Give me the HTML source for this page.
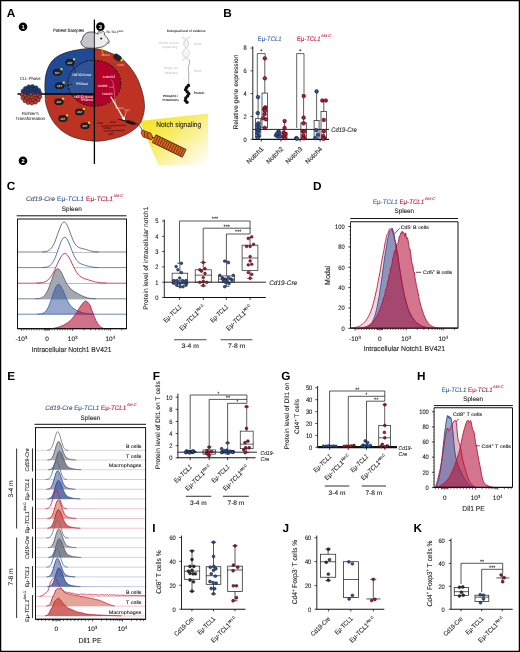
<!DOCTYPE html>
<html><head><meta charset="utf-8"><style>
html,body{margin:0;padding:0;background:#fff;}
svg{display:block;will-change:transform;}
text{font-family:"Liberation Sans", sans-serif;text-rendering:geometricPrecision;}
</style></head><body>
<svg width="520" height="652" viewBox="0 0 520 652" font-family="Liberation Sans, sans-serif">
<rect x="0" y="0" width="520" height="652" fill="#fff"/>
<text x="6.80" y="16.60" font-size="11.8" style="color:#000" fill="currentColor" font-weight="bold">A</text>
<defs><clipPath id="ctl"><rect x="0" y="0" width="94.4" height="94"/></clipPath><linearGradient id="yel" x1="0" y1="0" x2="1" y2="1"><stop offset="0" stop-color="#f5e21a"/><stop offset="0.35" stop-color="#f7ea50"/><stop offset="0.75" stop-color="#fcf6c2"/><stop offset="1" stop-color="#ffffff"/></linearGradient><radialGradient id="cellg" cx="0.4" cy="0.35" r="0.7"><stop offset="0" stop-color="#fff" stop-opacity="0.25"/><stop offset="1" stop-color="#fff" stop-opacity="0"/></radialGradient></defs>
<circle cx="23" cy="26.8" r="4.3" fill="#000"/>
<text x="23.00" y="28.90" font-size="5.8" text-anchor="middle" style="color:#fff" fill="currentColor" font-weight="bold">1</text>
<circle cx="23" cy="160.8" r="4.3" fill="#000"/>
<text x="23.00" y="162.90" font-size="5.8" text-anchor="middle" style="color:#fff" fill="currentColor" font-weight="bold">2</text>
<circle cx="100.4" cy="26.6" r="4.3" fill="#000"/>
<text x="100.40" y="28.70" font-size="5.8" text-anchor="middle" style="color:#fff" fill="currentColor" font-weight="bold">3</text>
<polygon points="139.5,121 208,113.5 208,165.5 158.5,165.5" fill="url(#yel)"/>
<path d="M94.00,48.50 C99.83,48.90 105.05,50.73 110.00,52.70 C114.95,54.67 119.45,56.58 123.70,60.30 C127.95,64.02 132.45,69.88 135.50,75.00 C138.55,80.12 140.50,85.83 142.00,91.00 C143.50,96.17 144.45,101.40 144.50,106.00 C144.55,110.60 143.47,115.18 142.30,118.60 C141.13,122.02 140.05,123.93 137.50,126.50 C134.95,129.07 131.08,131.95 127.00,134.00 C122.92,136.05 118.17,137.60 113.00,138.80 C107.83,140.00 102.17,141.33 96.00,141.20 C89.83,141.07 81.58,139.67 76.00,138.00 C70.42,136.33 66.42,134.12 62.50,131.20 C58.58,128.28 55.20,124.78 52.50,120.50 C49.80,116.22 47.53,109.95 46.30,105.50 C45.07,101.05 45.25,98.47 45.10,93.80 C44.95,89.13 44.58,82.47 45.40,77.50 C46.22,72.53 47.65,67.70 50.00,64.00 C52.35,60.30 55.33,57.58 59.50,55.30 C63.67,53.02 69.25,51.43 75.00,50.30 C80.75,49.17 88.17,48.10 94.00,48.50 Z" fill="#bc3324"/>
<path d="M94.00,48.50 C99.83,48.90 105.05,50.73 110.00,52.70 C114.95,54.67 119.45,56.58 123.70,60.30 C127.95,64.02 132.45,69.88 135.50,75.00 C138.55,80.12 140.50,85.83 142.00,91.00 C143.50,96.17 144.45,101.40 144.50,106.00 C144.55,110.60 143.47,115.18 142.30,118.60 C141.13,122.02 140.05,123.93 137.50,126.50 C134.95,129.07 131.08,131.95 127.00,134.00 C122.92,136.05 118.17,137.60 113.00,138.80 C107.83,140.00 102.17,141.33 96.00,141.20 C89.83,141.07 81.58,139.67 76.00,138.00 C70.42,136.33 66.42,134.12 62.50,131.20 C58.58,128.28 55.20,124.78 52.50,120.50 C49.80,116.22 47.53,109.95 46.30,105.50 C45.07,101.05 45.25,98.47 45.10,93.80 C44.95,89.13 44.58,82.47 45.40,77.50 C46.22,72.53 47.65,67.70 50.00,64.00 C52.35,60.30 55.33,57.58 59.50,55.30 C63.67,53.02 69.25,51.43 75.00,50.30 C80.75,49.17 88.17,48.10 94.00,48.50 Z" fill="#1f4a98" clip-path="url(#ctl)"/>
<path d="M94.00,48.50 C99.83,48.90 105.05,50.73 110.00,52.70 C114.95,54.67 119.45,56.58 123.70,60.30 C127.95,64.02 132.45,69.88 135.50,75.00 C138.55,80.12 140.50,85.83 142.00,91.00 C143.50,96.17 144.45,101.40 144.50,106.00 C144.55,110.60 143.47,115.18 142.30,118.60 C141.13,122.02 140.05,123.93 137.50,126.50 C134.95,129.07 131.08,131.95 127.00,134.00 C122.92,136.05 118.17,137.60 113.00,138.80 C107.83,140.00 102.17,141.33 96.00,141.20 C89.83,141.07 81.58,139.67 76.00,138.00 C70.42,136.33 66.42,134.12 62.50,131.20 C58.58,128.28 55.20,124.78 52.50,120.50 C49.80,116.22 47.53,109.95 46.30,105.50 C45.07,101.05 45.25,98.47 45.10,93.80 C44.95,89.13 44.58,82.47 45.40,77.50 C46.22,72.53 47.65,67.70 50.00,64.00 C52.35,60.30 55.33,57.58 59.50,55.30 C63.67,53.02 69.25,51.43 75.00,50.30 C80.75,49.17 88.17,48.10 94.00,48.50 Z" fill="none" stroke="#1a1a1a" stroke-width="0.6"/>
<ellipse cx="94.4" cy="83.3" rx="26.4" ry="23" fill="#b3002b"/>
<ellipse cx="94.4" cy="83.3" rx="26.4" ry="23" fill="#2f5496" clip-path="url(#ctl)"/>
<ellipse cx="94.4" cy="83.3" rx="26.4" ry="23" fill="none" stroke="#111" stroke-width="1.0" stroke-dasharray="2.3,1.4"/>
<text x="81.80" y="76.40" font-size="3.4" text-anchor="middle" style="color:#f4f4f8" fill="currentColor" stroke="currentColor" stroke-width="0.05" textLength="18.5" lengthAdjust="spacingAndGlyphs">NOTCH1mut</text>
<text x="81.60" y="84.60" font-size="3.4" text-anchor="middle" style="color:#f4f4f8" fill="currentColor" stroke="currentColor" stroke-width="0.05" textLength="12.5" lengthAdjust="spacingAndGlyphs">TP53mut</text>
<text x="83.40" y="97.70" font-size="3.4" text-anchor="middle" style="color:#f4f4f8" fill="currentColor" stroke="currentColor" stroke-width="0.05" textLength="18.5" lengthAdjust="spacingAndGlyphs">NOTCH1mut</text>
<text x="86.40" y="101.20" font-size="3.4" text-anchor="middle" style="color:#f4f4f8" fill="currentColor" stroke="currentColor" stroke-width="0.05" textLength="12.5" lengthAdjust="spacingAndGlyphs">TP53mut</text>
<text x="108.80" y="78.40" font-size="3.4" text-anchor="middle" style="color:#fbe0e4" fill="currentColor" stroke="currentColor" stroke-width="0.05" textLength="12.5" lengthAdjust="spacingAndGlyphs">Ankrd12</text>
<text x="102.60" y="86.90" font-size="3.4" text-anchor="middle" style="color:#fbe0e4" fill="currentColor" stroke="currentColor" stroke-width="0.05" textLength="9.5" lengthAdjust="spacingAndGlyphs">Ankfd</text>
<text x="107.60" y="94.60" font-size="3.4" text-anchor="middle" style="color:#fbe0e4" fill="currentColor" stroke="currentColor" stroke-width="0.05" textLength="10.5" lengthAdjust="spacingAndGlyphs">Notch1</text>
<line x1="72.00" y1="64.50" x2="76.00" y2="73.00" stroke="#111" stroke-width="0.5"/>
<line x1="63.00" y1="86.50" x2="72.00" y2="84.00" stroke="#111" stroke-width="0.5"/>
<path d="M111,79.5 C113.5,82 114,85 112.5,87.5 L109,87" stroke="#f3c0c8" stroke-width="0.45" fill="none"/><path d="M113.5,86 C114.5,90 114.5,100 116.5,108" stroke="#f3c0c8" stroke-width="0.45" fill="none"/>
<rect x="65.70" y="59.50" width="8.6" height="5.8" rx="2.7" fill="#242424" stroke="#000" stroke-width="0.5"/>
<text x="70.00" y="63.60" font-size="3.1" text-anchor="middle" style="color:#dcdcdc" fill="currentColor" font-weight="bold" textLength="5.2" lengthAdjust="spacingAndGlyphs">AKT</text>
<rect x="73.10" y="58.30" width="2" height="2" fill="#f3e414"/>
<rect x="53.00" y="69.40" width="8.6" height="5.8" rx="2.7" fill="#242424" stroke="#000" stroke-width="0.5"/>
<text x="57.30" y="73.50" font-size="3.1" text-anchor="middle" style="color:#dcdcdc" fill="currentColor" font-weight="bold" textLength="5.2" lengthAdjust="spacingAndGlyphs">AKT</text>
<rect x="60.40" y="68.20" width="2" height="2" fill="#f3e414"/>
<rect x="55.30" y="82.80" width="8.6" height="5.8" rx="2.7" fill="#242424" stroke="#000" stroke-width="0.5"/>
<text x="59.60" y="86.90" font-size="3.1" text-anchor="middle" style="color:#dcdcdc" fill="currentColor" font-weight="bold" textLength="5.2" lengthAdjust="spacingAndGlyphs">AKT</text>
<rect x="62.70" y="81.60" width="2" height="2" fill="#f3e414"/>
<rect x="54.70" y="98.90" width="8.6" height="5.8" rx="2.7" fill="#242424" stroke="#000" stroke-width="0.5"/>
<text x="59.00" y="103.00" font-size="3.1" text-anchor="middle" style="color:#dcdcdc" fill="currentColor" font-weight="bold" textLength="5.2" lengthAdjust="spacingAndGlyphs">AKT</text>
<rect x="62.10" y="97.70" width="2" height="2" fill="#f3e414"/>
<rect x="75.40" y="109.10" width="8.6" height="5.8" rx="2.7" fill="#242424" stroke="#000" stroke-width="0.5"/>
<text x="79.70" y="113.20" font-size="3.1" text-anchor="middle" style="color:#dcdcdc" fill="currentColor" font-weight="bold" textLength="5.2" lengthAdjust="spacingAndGlyphs">AKT</text>
<rect x="82.80" y="107.90" width="2" height="2" fill="#f3e414"/>
<rect x="58.70" y="115.60" width="8.6" height="5.8" rx="2.7" fill="#242424" stroke="#000" stroke-width="0.5"/>
<text x="63.00" y="119.70" font-size="3.1" text-anchor="middle" style="color:#dcdcdc" fill="currentColor" font-weight="bold" textLength="5.2" lengthAdjust="spacingAndGlyphs">AKT</text>
<rect x="66.10" y="114.40" width="2" height="2" fill="#f3e414"/>
<rect x="80.70" y="122.90" width="8.6" height="5.8" rx="2.7" fill="#242424" stroke="#000" stroke-width="0.5"/>
<text x="85.00" y="127.00" font-size="3.1" text-anchor="middle" style="color:#dcdcdc" fill="currentColor" font-weight="bold" textLength="5.2" lengthAdjust="spacingAndGlyphs">AKT</text>
<rect x="88.10" y="121.70" width="2" height="2" fill="#f3e414"/>
<g transform="rotate(35 117.5 57.5)"><rect x="113.2" y="54.6" width="8.6" height="5.8" rx="2.7" fill="#242424"/></g>
<rect x="120.6" y="59.2" width="2" height="2" fill="#f3e414"/>
<text x="117.00" y="65.50" font-size="2.6" style="color:#f0b0a0" fill="currentColor" stroke="currentColor" stroke-width="0.05" textLength="7" lengthAdjust="spacingAndGlyphs">Dclhd</text>
<text x="101.50" y="56.20" font-size="2.6" style="color:#f0b0a0" fill="currentColor" stroke="currentColor" stroke-width="0.05" textLength="8" lengthAdjust="spacingAndGlyphs">Lrfn2d</text>
<line x1="110.70" y1="96.60" x2="123.60" y2="118.20" stroke="#fff" stroke-width="1.1"/>
<polygon points="125,121 121.6,118.4 124.8,116.8" fill="#fff"/>
<line x1="119.00" y1="111.00" x2="122.50" y2="118.50" stroke="#f1dede" stroke-width="0.5"/>
<line x1="126.50" y1="111.00" x2="124.00" y2="118.50" stroke="#f1dede" stroke-width="0.5"/>
<text x="115.50" y="108.80" font-size="2.8" style="color:#eaa8a8" fill="currentColor" stroke="currentColor" stroke-width="0.05" textLength="8" lengthAdjust="spacingAndGlyphs">S100a4</text>
<text x="124.20" y="111.20" font-size="2.8" style="color:#eaa8a8" fill="currentColor" stroke="currentColor" stroke-width="0.05" textLength="5.5" lengthAdjust="spacingAndGlyphs">Hes1</text>
<text x="110.00" y="122.60" font-size="2.8" style="color:#3a0808" fill="currentColor" stroke="currentColor" stroke-width="0.05" textLength="6.5" lengthAdjust="spacingAndGlyphs">Wee1</text>
<text x="97.60" y="124.40" font-size="2.8" style="color:#3a0808" fill="currentColor" stroke="currentColor" stroke-width="0.05" textLength="5.5" lengthAdjust="spacingAndGlyphs">Hes1</text>
<text x="103.00" y="129.40" font-size="2.8" style="color:#3a0808" fill="currentColor" stroke="currentColor" stroke-width="0.05" textLength="8" lengthAdjust="spacingAndGlyphs">S100a4</text>
<line x1="101.00" y1="126.20" x2="126.00" y2="125.20" stroke="#250404" stroke-width="0.55"/>
<line x1="103.50" y1="131.20" x2="124.80" y2="130.20" stroke="#250404" stroke-width="0.55"/>
<path d="M108,134 C110,132 112,136 114,134 M109,136 L113,132" stroke="#3a0808" stroke-width="0.5" fill="none"/>
<ellipse cx="130.8" cy="122.6" rx="5.2" ry="1.7" fill="#111" transform="rotate(15 130.8 122.6)"/>
<line x1="118.50" y1="119.20" x2="126.50" y2="121.20" stroke="#111" stroke-width="1.0"/>
<path d="M135.5,123.5 C139,124 140.5,127 142.5,130.5" stroke="#111" stroke-width="0.7" fill="none"/>
<ellipse cx="143.8" cy="133.8" rx="2.2" ry="4.0" fill="#e2621a" stroke="#1a1a1a" stroke-width="0.55" transform="rotate(-22 143.8 133.8)"/>
<ellipse cx="146.9" cy="135" rx="2.2" ry="4.0" fill="#e2621a" stroke="#1a1a1a" stroke-width="0.55" transform="rotate(-22 146.9 135)"/>
<ellipse cx="150" cy="136.2" rx="2.2" ry="4.0" fill="#e2621a" stroke="#1a1a1a" stroke-width="0.55" transform="rotate(-22 150 136.2)"/>
<line x1="152.00" y1="137.20" x2="156.30" y2="138.20" stroke="#111" stroke-width="0.7"/>
<g transform="rotate(26 156 134.8)"><rect x="156" y="134.8" width="33.5" height="8.6" fill="#e2621a" stroke="#1a1a1a" stroke-width="0.65"/><line x1="158.58" y1="134.8" x2="158.58" y2="143.4" stroke="#1a1a1a" stroke-width="0.55"/><line x1="161.16" y1="134.8" x2="161.16" y2="143.4" stroke="#1a1a1a" stroke-width="0.55"/><line x1="163.74" y1="134.8" x2="163.74" y2="143.4" stroke="#1a1a1a" stroke-width="0.55"/><line x1="166.32" y1="134.8" x2="166.32" y2="143.4" stroke="#1a1a1a" stroke-width="0.55"/><line x1="168.90" y1="134.8" x2="168.90" y2="143.4" stroke="#1a1a1a" stroke-width="0.55"/><line x1="171.48" y1="134.8" x2="171.48" y2="143.4" stroke="#1a1a1a" stroke-width="0.55"/><line x1="174.06" y1="134.8" x2="174.06" y2="143.4" stroke="#1a1a1a" stroke-width="0.55"/><line x1="176.64" y1="134.8" x2="176.64" y2="143.4" stroke="#1a1a1a" stroke-width="0.55"/><line x1="179.22" y1="134.8" x2="179.22" y2="143.4" stroke="#1a1a1a" stroke-width="0.55"/><line x1="181.80" y1="134.8" x2="181.80" y2="143.4" stroke="#1a1a1a" stroke-width="0.55"/><line x1="184.38" y1="134.8" x2="184.38" y2="143.4" stroke="#1a1a1a" stroke-width="0.55"/><line x1="186.96" y1="134.8" x2="186.96" y2="143.4" stroke="#1a1a1a" stroke-width="0.55"/></g>
<text x="156.20" y="126.60" font-size="7.6" style="color:#1e1e1e" fill="currentColor" stroke="currentColor" stroke-width="0.1" textLength="45" lengthAdjust="spacingAndGlyphs">Notch signaling</text>
<line x1="94.40" y1="19.50" x2="94.40" y2="164.00" stroke="#000" stroke-width="1.3"/>
<line x1="17.50" y1="94.00" x2="94.40" y2="94.00" stroke="#000" stroke-width="1.3"/>
<path d="M94.4,32.3 C90.5,31.4 86.6,32.2 84.5,34.5 C82.9,36.3 82.5,38.3 82.3,39.9 C80.9,40.5 80.3,42 81.1,43 C81.7,45.6 84.3,47.7 88,48.1 L94.4,48.2 Z" fill="#c6c6ca" stroke="#1a1a1a" stroke-width="0.7"/>
<path d="M94.4,32.6 C95.6,33.1 96.8,33.5 97.9,34.2 C97.3,31.9 99.5,30.3 101.8,30.7 C104.1,31.1 105.1,33 104.3,35 C106.5,36.4 107.9,38.6 108.9,40.8 C109.5,41.9 108.7,42.9 107.4,43.1 C106.4,45.1 103.4,46.9 99.8,47.5 L94.4,48.2 Z" fill="#ededef" stroke="#1a1a1a" stroke-width="0.7"/>
<path d="M99.2,33.6 C99,32 101.8,31.6 102.8,33.4" stroke="#555" stroke-width="0.4" fill="#d4d4d8"/>
<circle cx="101.2" cy="38.5" r="1.0" fill="#111"/>
<path d="M106.5,42.5 L110,41.5 M106.5,43 L109.8,43.8" stroke="#555" stroke-width="0.3"/>
<path d="M101.8,48 C103.6,49.5 101,51 102.6,52.5 C104,53.5 102.2,55 103.4,56" stroke="#f2cf1c" stroke-width="0.8" fill="none"/>
<text x="53.00" y="32.30" font-size="4.5" style="color:#2a2a2a" fill="currentColor" stroke="currentColor" stroke-width="0.1" textLength="31.2" lengthAdjust="spacingAndGlyphs">Patient Samples</text>
<text x="106.50" y="33.40" font-size="3.1" style="color:#333" fill="currentColor" stroke="currentColor" stroke-width="0.05" textLength="17.5" lengthAdjust="spacingAndGlyphs">Eμ-TCL1<tspan font-size="2.4" dy="-1.5">Akt-C</tspan></text>
<text x="30.20" y="79.60" font-size="4.4" text-anchor="middle" style="color:#2a2a2a" fill="currentColor" stroke="currentColor" stroke-width="0.05" textLength="20.5" lengthAdjust="spacingAndGlyphs">CLL-Phase</text>
<text x="30.30" y="115.20" font-size="4.4" text-anchor="middle" style="color:#2a2a2a" fill="currentColor" stroke="currentColor" stroke-width="0.05" textLength="17" lengthAdjust="spacingAndGlyphs">Richter's</text>
<text x="30.30" y="120.40" font-size="4.4" text-anchor="middle" style="color:#2a2a2a" fill="currentColor" stroke="currentColor" stroke-width="0.05" textLength="29.5" lengthAdjust="spacingAndGlyphs">Transformation</text>
<circle cx="32.50" cy="86.61" r="2.05" fill="#1f3f88" stroke="#111" stroke-width="0.45"/>
<circle cx="28.77" cy="86.83" r="2.05" fill="#1f3f88" stroke="#111" stroke-width="0.45"/>
<circle cx="36.01" cy="87.80" r="2.05" fill="#1f3f88" stroke="#111" stroke-width="0.45"/>
<circle cx="25.45" cy="88.43" r="2.05" fill="#1f3f88" stroke="#111" stroke-width="0.45"/>
<circle cx="30.93" cy="88.92" r="2.05" fill="#1f3f88" stroke="#111" stroke-width="0.45"/>
<circle cx="34.43" cy="89.72" r="2.05" fill="#1f3f88" stroke="#111" stroke-width="0.45"/>
<circle cx="27.51" cy="89.99" r="2.05" fill="#1f3f88" stroke="#111" stroke-width="0.45"/>
<circle cx="38.69" cy="90.21" r="2.05" fill="#1f3f88" stroke="#111" stroke-width="0.45"/>
<circle cx="23.13" cy="91.13" r="2.05" fill="#1f3f88" stroke="#111" stroke-width="0.45"/>
<circle cx="30.47" cy="91.84" r="2.05" fill="#1f3f88" stroke="#111" stroke-width="0.45"/>
<circle cx="36.90" cy="92.13" r="2.05" fill="#1f3f88" stroke="#111" stroke-width="0.45"/>
<circle cx="25.27" cy="92.59" r="2.05" fill="#1f3f88" stroke="#111" stroke-width="0.45"/>
<circle cx="33.62" cy="92.74" r="2.05" fill="#1f3f88" stroke="#111" stroke-width="0.45"/>
<circle cx="40.07" cy="93.41" r="2.05" fill="#1f3f88" stroke="#111" stroke-width="0.45"/>
<circle cx="28.05" cy="93.90" r="2.05" fill="#1f3f88" stroke="#111" stroke-width="0.45"/>
<circle cx="22.21" cy="94.46" r="2.05" fill="#bd3a2c" stroke="#111" stroke-width="0.45"/>
<circle cx="31.20" cy="94.80" r="2.05" fill="#bd3a2c" stroke="#111" stroke-width="0.45"/>
<circle cx="37.57" cy="95.39" r="2.05" fill="#bd3a2c" stroke="#111" stroke-width="0.45"/>
<circle cx="34.35" cy="95.70" r="2.05" fill="#bd3a2c" stroke="#111" stroke-width="0.45"/>
<circle cx="24.91" cy="95.89" r="2.05" fill="#bd3a2c" stroke="#111" stroke-width="0.45"/>
<circle cx="39.92" cy="96.85" r="2.05" fill="#bd3a2c" stroke="#111" stroke-width="0.45"/>
<circle cx="28.78" cy="96.86" r="2.05" fill="#bd3a2c" stroke="#111" stroke-width="0.45"/>
<circle cx="31.93" cy="97.76" r="2.05" fill="#bd3a2c" stroke="#111" stroke-width="0.45"/>
<circle cx="22.84" cy="97.86" r="2.05" fill="#bd3a2c" stroke="#111" stroke-width="0.45"/>
<circle cx="36.21" cy="98.46" r="2.05" fill="#bd3a2c" stroke="#111" stroke-width="0.45"/>
<circle cx="26.55" cy="98.84" r="2.05" fill="#bd3a2c" stroke="#111" stroke-width="0.45"/>
<circle cx="38.26" cy="99.93" r="2.05" fill="#bd3a2c" stroke="#111" stroke-width="0.45"/>
<circle cx="33.26" cy="100.37" r="2.05" fill="#bd3a2c" stroke="#111" stroke-width="0.45"/>
<circle cx="29.66" cy="100.52" r="2.05" fill="#bd3a2c" stroke="#111" stroke-width="0.45"/>
<circle cx="24.91" cy="100.72" r="2.05" fill="#bd3a2c" stroke="#111" stroke-width="0.45"/>
<circle cx="35.38" cy="102.13" r="2.05" fill="#bd3a2c" stroke="#111" stroke-width="0.45"/>
<circle cx="28.07" cy="102.56" r="2.05" fill="#bd3a2c" stroke="#111" stroke-width="0.45"/>
<circle cx="31.78" cy="103.06" r="2.05" fill="#bd3a2c" stroke="#111" stroke-width="0.45"/>
<text x="186.20" y="32.30" font-size="3.4" text-anchor="middle" style="color:#111" fill="currentColor" stroke="currentColor" stroke-width="0.05" textLength="38.7" lengthAdjust="spacingAndGlyphs">Biological level of evidence</text>
<text x="168.80" y="43.50" font-size="3.1" text-anchor="middle" style="color:#cacaca" fill="currentColor" stroke="currentColor" stroke-width="0.05" textLength="20" lengthAdjust="spacingAndGlyphs">Whole exome</text>
<text x="169.70" y="47.50" font-size="3.1" text-anchor="middle" style="color:#cacaca" fill="currentColor" stroke="currentColor" stroke-width="0.05" textLength="15.6" lengthAdjust="spacingAndGlyphs">sequencing</text>
<text x="170.60" y="69.40" font-size="3.1" text-anchor="middle" style="color:#cacaca" fill="currentColor" stroke="currentColor" stroke-width="0.05" textLength="13.7" lengthAdjust="spacingAndGlyphs">Single cell</text>
<text x="171.20" y="73.50" font-size="3.1" text-anchor="middle" style="color:#cacaca" fill="currentColor" stroke="currentColor" stroke-width="0.05" textLength="12.5" lengthAdjust="spacingAndGlyphs">RNASeq</text>
<text x="170.50" y="96.90" font-size="3.1" text-anchor="middle" style="color:#111" fill="currentColor" font-weight="bold" textLength="15" lengthAdjust="spacingAndGlyphs">Phospho /</text>
<text x="170.70" y="100.90" font-size="3.1" text-anchor="middle" style="color:#111" fill="currentColor" font-weight="bold" textLength="16.5" lengthAdjust="spacingAndGlyphs">Proteomics</text>
<text x="193.80" y="45.30" font-size="3.2" style="color:#cacaca" fill="currentColor" stroke="currentColor" stroke-width="0.05" textLength="7.5" lengthAdjust="spacingAndGlyphs">DNA</text>
<text x="193.80" y="71.50" font-size="3.2" style="color:#cacaca" fill="currentColor" stroke="currentColor" stroke-width="0.05" textLength="7.5" lengthAdjust="spacingAndGlyphs">RNA</text>
<text x="193.80" y="94.40" font-size="3.2" style="color:#111" fill="currentColor" font-weight="bold" textLength="10.6" lengthAdjust="spacingAndGlyphs">Protein</text>
<path d="M182,37 C190,40 190,45 185.5,48.5 C181,52 181,56 189.5,60" stroke="#cfcfcf" stroke-width="0.9" fill="#ececec" fill-opacity="0.6"/>
<path d="M190.5,37 C183,40 182,45 186.5,48.5 C191,52 191,56 182,60" stroke="#cfcfcf" stroke-width="0.9" fill="none"/>
<path d="M189.5,60 C190,64 187.5,67 188.5,71 C189.5,75 188,79 188.8,84" stroke="#9a9a9a" stroke-width="0.8" fill="none"/>
<circle cx="188.4" cy="85.5" r="1.7" fill="#0c0c0c"/>
<circle cx="186.6" cy="87.5" r="1.7" fill="#0c0c0c"/>
<circle cx="185.6" cy="89.8" r="1.7" fill="#0c0c0c"/>
<circle cx="187.2" cy="91.8" r="1.7" fill="#0c0c0c"/>
<circle cx="188.8" cy="93.8" r="1.7" fill="#0c0c0c"/>
<circle cx="187.6" cy="96" r="1.7" fill="#0c0c0c"/>
<circle cx="185.8" cy="98" r="1.7" fill="#0c0c0c"/>
<circle cx="185.4" cy="100.4" r="1.7" fill="#0c0c0c"/>
<circle cx="187" cy="102.2" r="1.7" fill="#0c0c0c"/>
<text x="223.30" y="16.70" font-size="11.8" style="color:#000" fill="currentColor" font-weight="bold">B</text>
<line x1="252.80" y1="46.30" x2="252.80" y2="139.80" stroke="#111" stroke-width="0.9"/>
<line x1="250.60" y1="139.30" x2="252.80" y2="139.30" stroke="#111" stroke-width="0.765"/>
<text x="246.80" y="141.60" font-size="6.4" text-anchor="end" style="color:#1e1e1e" fill="currentColor" stroke="currentColor" stroke-width="0.1" textLength="3.2" lengthAdjust="spacingAndGlyphs">0</text>
<line x1="250.60" y1="116.48" x2="252.80" y2="116.48" stroke="#111" stroke-width="0.765"/>
<text x="246.80" y="118.78" font-size="6.4" text-anchor="end" style="color:#1e1e1e" fill="currentColor" stroke="currentColor" stroke-width="0.1" textLength="3.2" lengthAdjust="spacingAndGlyphs">2</text>
<line x1="250.60" y1="93.66" x2="252.80" y2="93.66" stroke="#111" stroke-width="0.765"/>
<text x="246.80" y="95.96" font-size="6.4" text-anchor="end" style="color:#1e1e1e" fill="currentColor" stroke="currentColor" stroke-width="0.1" textLength="3.2" lengthAdjust="spacingAndGlyphs">4</text>
<line x1="250.60" y1="70.84" x2="252.80" y2="70.84" stroke="#111" stroke-width="0.765"/>
<text x="246.80" y="73.14" font-size="6.4" text-anchor="end" style="color:#1e1e1e" fill="currentColor" stroke="currentColor" stroke-width="0.1" textLength="3.2" lengthAdjust="spacingAndGlyphs">6</text>
<line x1="250.60" y1="48.02" x2="252.80" y2="48.02" stroke="#111" stroke-width="0.765"/>
<text x="246.80" y="50.32" font-size="6.4" text-anchor="end" style="color:#1e1e1e" fill="currentColor" stroke="currentColor" stroke-width="0.1" textLength="3.2" lengthAdjust="spacingAndGlyphs">8</text>
<line x1="252.50" y1="139.40" x2="329.00" y2="139.40" stroke="#111" stroke-width="1.1"/>
<line x1="261.30" y1="139.40" x2="261.30" y2="141.60" stroke="#111" stroke-width="0.85"/>
<line x1="281.00" y1="139.40" x2="281.00" y2="141.60" stroke="#111" stroke-width="0.85"/>
<line x1="300.20" y1="139.40" x2="300.20" y2="141.60" stroke="#111" stroke-width="0.85"/>
<line x1="320.10" y1="139.40" x2="320.10" y2="141.60" stroke="#111" stroke-width="0.85"/>
<text x="238.30" y="92.00" font-size="6.5" text-anchor="middle" style="color:#1e1e1e" fill="currentColor" stroke="currentColor" stroke-width="0.1" textLength="75" lengthAdjust="spacingAndGlyphs" transform="rotate(-90 238.3 92)">Relative gene expression</text>
<text x="257.80" y="40.60" font-size="6.6" style="color:#2f5ba6" fill="currentColor" stroke="currentColor" stroke-width="0.1" textLength="23.7" lengthAdjust="spacingAndGlyphs">Eμ-<tspan font-style="italic">TCL1</tspan></text>
<text x="297.00" y="40.60" font-size="6.6" style="color:#c0143c" fill="currentColor" stroke="currentColor" stroke-width="0.1" textLength="23.6" lengthAdjust="spacingAndGlyphs">Eμ-<tspan font-style="italic">TCL1</tspan></text>
<text x="321.00" y="36.80" font-size="4.0" style="color:#c0143c" fill="currentColor" stroke="currentColor" stroke-width="0.05" textLength="10.3" lengthAdjust="spacingAndGlyphs">Akt-C</text>
<line x1="252.80" y1="129.40" x2="329.00" y2="129.40" stroke="#111" stroke-width="0.9"/>
<text x="331.20" y="131.80" font-size="6.6" style="color:#1e1e1e" fill="currentColor" stroke="currentColor" stroke-width="0.1" font-style="italic" textLength="25.5" lengthAdjust="spacingAndGlyphs">Cd19-Cre</text>
<text x="263.90" y="149.40" font-size="6.3" text-anchor="end" style="color:#1e1e1e" fill="currentColor" stroke="currentColor" stroke-width="0.1" textLength="21" lengthAdjust="spacingAndGlyphs" transform="rotate(-45 263.90000000000003 149.4)">Notch1</text>
<text x="283.60" y="149.40" font-size="6.3" text-anchor="end" style="color:#1e1e1e" fill="currentColor" stroke="currentColor" stroke-width="0.1" textLength="21" lengthAdjust="spacingAndGlyphs" transform="rotate(-45 283.6 149.4)">Notch2</text>
<text x="302.80" y="149.40" font-size="6.3" text-anchor="end" style="color:#1e1e1e" fill="currentColor" stroke="currentColor" stroke-width="0.1" textLength="21" lengthAdjust="spacingAndGlyphs" transform="rotate(-45 302.8 149.4)">Notch3</text>
<text x="322.70" y="149.40" font-size="6.3" text-anchor="end" style="color:#1e1e1e" fill="currentColor" stroke="currentColor" stroke-width="0.1" textLength="21" lengthAdjust="spacingAndGlyphs" transform="rotate(-45 322.70000000000005 149.4)">Notch4</text>
<line x1="258.10" y1="97.08" x2="258.10" y2="118.76" stroke="#222" stroke-width="0.72"/>
<line x1="257.13" y1="97.08" x2="259.07" y2="97.08" stroke="#222" stroke-width="0.72"/>
<rect x="255.40" y="118.76" width="5.40" height="18.26" fill="none" stroke="#222" stroke-width="0.72"/>
<line x1="264.80" y1="58.29" x2="264.80" y2="93.09" stroke="#222" stroke-width="0.72"/>
<line x1="263.79" y1="58.29" x2="265.81" y2="58.29" stroke="#222" stroke-width="0.72"/>
<rect x="262.00" y="93.09" width="5.60" height="34.80" fill="none" stroke="#222" stroke-width="0.72"/>
<line x1="284.60" y1="121.04" x2="284.60" y2="132.45" stroke="#222" stroke-width="0.72"/>
<line x1="283.74" y1="121.04" x2="285.46" y2="121.04" stroke="#222" stroke-width="0.72"/>
<rect x="282.20" y="132.45" width="4.80" height="5.71" fill="none" stroke="#222" stroke-width="0.72"/>
<line x1="303.60" y1="95.94" x2="303.60" y2="122.76" stroke="#222" stroke-width="0.72"/>
<line x1="302.63" y1="95.94" x2="304.57" y2="95.94" stroke="#222" stroke-width="0.72"/>
<rect x="300.90" y="122.76" width="5.40" height="15.40" fill="none" stroke="#222" stroke-width="0.72"/>
<line x1="316.60" y1="90.81" x2="316.60" y2="120.47" stroke="#222" stroke-width="0.72"/>
<line x1="315.70" y1="90.81" x2="317.50" y2="90.81" stroke="#222" stroke-width="0.72"/>
<rect x="314.10" y="120.47" width="5.00" height="17.69" fill="none" stroke="#222" stroke-width="0.72"/>
<line x1="323.80" y1="100.51" x2="323.80" y2="111.35" stroke="#222" stroke-width="0.72"/>
<line x1="322.79" y1="100.51" x2="324.81" y2="100.51" stroke="#222" stroke-width="0.72"/>
<rect x="321.00" y="111.35" width="5.60" height="26.81" fill="none" stroke="#222" stroke-width="0.72"/>
<polyline points="257.30,96.00 257.30,53.60 265.20,53.60 265.20,56.50" stroke="#111" stroke-width="0.65" fill="none"/>
<polyline points="296.70,128.00 296.70,53.60 304.00,53.60 304.00,93.50" stroke="#111" stroke-width="0.65" fill="none"/>
<text x="261.20" y="53.40" font-size="5.4" text-anchor="middle" style="color:#111" fill="currentColor" stroke="currentColor" stroke-width="0.1">*</text>
<text x="300.20" y="53.40" font-size="5.4" text-anchor="middle" style="color:#111" fill="currentColor" stroke="currentColor" stroke-width="0.1">*</text>
<circle cx="258.00" cy="97.08" r="1.85" fill="#2c55a3" stroke="#111" stroke-width="0.5"/>
<circle cx="257.80" cy="113.06" r="1.85" fill="#2c55a3" stroke="#111" stroke-width="0.5"/>
<circle cx="258.30" cy="123.33" r="1.85" fill="#2c55a3" stroke="#111" stroke-width="0.5"/>
<circle cx="257.30" cy="125.61" r="1.85" fill="#2c55a3" stroke="#111" stroke-width="0.5"/>
<circle cx="259.00" cy="127.32" r="1.85" fill="#2c55a3" stroke="#111" stroke-width="0.5"/>
<circle cx="257.50" cy="129.60" r="1.85" fill="#2c55a3" stroke="#111" stroke-width="0.5"/>
<circle cx="258.60" cy="130.74" r="1.85" fill="#2c55a3" stroke="#111" stroke-width="0.5"/>
<circle cx="257.60" cy="133.02" r="1.85" fill="#2c55a3" stroke="#111" stroke-width="0.5"/>
<circle cx="258.40" cy="135.88" r="1.85" fill="#2c55a3" stroke="#111" stroke-width="0.5"/>
<circle cx="257.60" cy="137.59" r="1.85" fill="#2c55a3" stroke="#111" stroke-width="0.5"/>
<circle cx="276.00" cy="135.31" r="1.85" fill="#2c55a3" stroke="#111" stroke-width="0.5"/>
<circle cx="277.80" cy="136.45" r="1.85" fill="#2c55a3" stroke="#111" stroke-width="0.5"/>
<circle cx="278.60" cy="131.31" r="1.85" fill="#2c55a3" stroke="#111" stroke-width="0.5"/>
<circle cx="279.20" cy="133.59" r="1.85" fill="#2c55a3" stroke="#111" stroke-width="0.5"/>
<circle cx="277.00" cy="133.59" r="1.85" fill="#2c55a3" stroke="#111" stroke-width="0.5"/>
<circle cx="280.00" cy="136.45" r="1.85" fill="#2c55a3" stroke="#111" stroke-width="0.5"/>
<circle cx="296.30" cy="138.16" r="1.85" fill="#2c55a3" stroke="#111" stroke-width="0.5"/>
<circle cx="297.00" cy="138.73" r="1.85" fill="#2c55a3" stroke="#111" stroke-width="0.5"/>
<circle cx="316.60" cy="91.38" r="1.85" fill="#2c55a3" stroke="#111" stroke-width="0.5"/>
<circle cx="316.30" cy="130.17" r="1.85" fill="#2c55a3" stroke="#111" stroke-width="0.5"/>
<circle cx="317.80" cy="134.74" r="1.85" fill="#2c55a3" stroke="#111" stroke-width="0.5"/>
<circle cx="315.30" cy="138.16" r="1.85" fill="#2c55a3" stroke="#111" stroke-width="0.5"/>
<circle cx="264.80" cy="58.29" r="1.85" fill="#c4102e" stroke="#111" stroke-width="0.5"/>
<circle cx="264.80" cy="78.26" r="1.85" fill="#c4102e" stroke="#111" stroke-width="0.5"/>
<circle cx="265.30" cy="107.35" r="1.85" fill="#c4102e" stroke="#111" stroke-width="0.5"/>
<circle cx="264.60" cy="108.49" r="1.85" fill="#c4102e" stroke="#111" stroke-width="0.5"/>
<circle cx="264.30" cy="109.63" r="1.85" fill="#c4102e" stroke="#111" stroke-width="0.5"/>
<circle cx="265.10" cy="110.78" r="1.85" fill="#c4102e" stroke="#111" stroke-width="0.5"/>
<circle cx="264.60" cy="114.20" r="1.85" fill="#c4102e" stroke="#111" stroke-width="0.5"/>
<circle cx="263.20" cy="118.19" r="1.85" fill="#c4102e" stroke="#111" stroke-width="0.5"/>
<circle cx="266.00" cy="119.33" r="1.85" fill="#c4102e" stroke="#111" stroke-width="0.5"/>
<circle cx="264.80" cy="127.89" r="1.85" fill="#c4102e" stroke="#111" stroke-width="0.5"/>
<circle cx="284.60" cy="121.04" r="1.85" fill="#c4102e" stroke="#111" stroke-width="0.5"/>
<circle cx="284.60" cy="127.89" r="1.85" fill="#c4102e" stroke="#111" stroke-width="0.5"/>
<circle cx="283.60" cy="132.45" r="1.85" fill="#c4102e" stroke="#111" stroke-width="0.5"/>
<circle cx="285.30" cy="134.17" r="1.85" fill="#c4102e" stroke="#111" stroke-width="0.5"/>
<circle cx="283.80" cy="136.45" r="1.85" fill="#c4102e" stroke="#111" stroke-width="0.5"/>
<circle cx="285.00" cy="138.16" r="1.85" fill="#c4102e" stroke="#111" stroke-width="0.5"/>
<circle cx="303.70" cy="95.94" r="1.85" fill="#c4102e" stroke="#111" stroke-width="0.5"/>
<circle cx="303.60" cy="117.62" r="1.85" fill="#c4102e" stroke="#111" stroke-width="0.5"/>
<circle cx="303.60" cy="123.33" r="1.85" fill="#c4102e" stroke="#111" stroke-width="0.5"/>
<circle cx="302.80" cy="131.31" r="1.85" fill="#c4102e" stroke="#111" stroke-width="0.5"/>
<circle cx="304.50" cy="131.31" r="1.85" fill="#c4102e" stroke="#111" stroke-width="0.5"/>
<circle cx="303.40" cy="135.31" r="1.85" fill="#c4102e" stroke="#111" stroke-width="0.5"/>
<circle cx="304.30" cy="138.16" r="1.85" fill="#c4102e" stroke="#111" stroke-width="0.5"/>
<circle cx="302.90" cy="138.16" r="1.85" fill="#c4102e" stroke="#111" stroke-width="0.5"/>
<circle cx="322.30" cy="100.51" r="1.85" fill="#c4102e" stroke="#111" stroke-width="0.5"/>
<circle cx="325.80" cy="100.51" r="1.85" fill="#c4102e" stroke="#111" stroke-width="0.5"/>
<circle cx="323.80" cy="119.90" r="1.85" fill="#c4102e" stroke="#111" stroke-width="0.5"/>
<circle cx="323.80" cy="131.31" r="1.85" fill="#c4102e" stroke="#111" stroke-width="0.5"/>
<circle cx="323.20" cy="135.88" r="1.85" fill="#c4102e" stroke="#111" stroke-width="0.5"/>
<circle cx="324.30" cy="138.16" r="1.85" fill="#c4102e" stroke="#111" stroke-width="0.5"/>
<circle cx="323.30" cy="138.73" r="1.85" fill="#c4102e" stroke="#111" stroke-width="0.5"/>
<text x="6.80" y="190.40" font-size="11.8" style="color:#000" fill="currentColor" font-weight="bold">C</text>
<text x="25.90" y="201.10" font-size="6.5" style="color:#1e1e1e" fill="currentColor" stroke="currentColor" stroke-width="0.1" textLength="87.1" lengthAdjust="spacingAndGlyphs"><tspan font-style="italic" fill="#56627c">Cd19-Cre</tspan> <tspan style="color:#2f5ba6">Eμ-<tspan font-style="italic">TCL1</tspan></tspan> <tspan style="color:#c0143c">Eμ-<tspan font-style="italic">TCL1</tspan></tspan></text>
<text x="113.60" y="197.40" font-size="4.0" style="color:#c0143c" fill="currentColor" stroke="currentColor" stroke-width="0.05" textLength="9.5" lengthAdjust="spacingAndGlyphs">Akt-C</text>
<text x="71.80" y="211.30" font-size="6.5" text-anchor="middle" style="color:#1e1e1e" fill="currentColor" stroke="currentColor" stroke-width="0.1" textLength="19.9" lengthAdjust="spacingAndGlyphs">Spleen</text>
<line x1="16.70" y1="215.80" x2="126.50" y2="215.80" stroke="#111" stroke-width="1.0"/>
<clipPath id="cC"><rect x="17.5" y="219" width="109.0" height="109.60000000000002"/></clipPath>
<g clip-path="url(#cC)">
<line x1="17.50" y1="252.00" x2="126.50" y2="252.00" stroke="#565d6e" stroke-width="0.75"/>
<path d="M17.5,252.0 L17.5,252.0 L41.3,252.0 L42.3,251.9 L43.3,251.9 L44.3,251.8 L45.2,251.7 L46.2,251.5 L47.2,251.2 L48.2,250.8 L49.2,250.2 L50.2,249.4 L51.2,248.3 L52.2,247.0 L53.2,245.3 L54.2,243.4 L55.2,241.1 L56.1,238.5 L57.1,235.7 L58.1,232.9 L59.1,230.1 L60.1,227.5 L61.1,225.2 L62.1,223.5 L63.1,222.4 L64.1,222.0 L65.1,222.3 L66.1,223.4 L67.0,225.0 L68.0,227.1 L69.0,229.6 L70.0,232.3 L71.0,235.0 L72.0,237.6 L73.0,240.0 L74.0,242.0 L75.0,243.7 L76.0,245.1 L77.0,246.2 L77.9,246.9 L78.9,247.5 L79.9,247.9 L80.9,248.2 L81.9,248.5 L82.9,248.7 L83.9,248.9 L84.9,249.2 L85.9,249.5 L86.9,249.8 L87.9,250.1 L88.8,250.4 L89.8,250.7 L90.8,251.0 L91.8,251.2 L92.8,251.4 L93.8,251.6 L94.8,251.7 L95.8,251.8 L96.8,251.9 L97.8,251.9 L98.8,251.9 L99.7,252.0 L126.5,252.0 L126.5,252.0 Z" fill="#fff" fill-opacity="1"/>
<path d="M42.3,251.9 L43.3,251.9 L44.3,251.8 L45.2,251.7 L46.2,251.5 L47.2,251.2 L48.2,250.8 L49.2,250.2 L50.2,249.4 L51.2,248.3 L52.2,247.0 L53.2,245.3 L54.2,243.4 L55.2,241.1 L56.1,238.5 L57.1,235.7 L58.1,232.9 L59.1,230.1 L60.1,227.5 L61.1,225.2 L62.1,223.5 L63.1,222.4 L64.1,222.0 L65.1,222.3 L66.1,223.4 L67.0,225.0 L68.0,227.1 L69.0,229.6 L70.0,232.3 L71.0,235.0 L72.0,237.6 L73.0,240.0 L74.0,242.0 L75.0,243.7 L76.0,245.1 L77.0,246.2 L77.9,246.9 L78.9,247.5 L79.9,247.9 L80.9,248.2 L81.9,248.5 L82.9,248.7 L83.9,248.9 L84.9,249.2 L85.9,249.5 L86.9,249.8 L87.9,250.1 L88.8,250.4 L89.8,250.7 L90.8,251.0 L91.8,251.2 L92.8,251.4 L93.8,251.6 L94.8,251.7 L95.8,251.8 L96.8,251.9 L97.8,251.9 L98.8,251.9" fill="none" stroke="#565d6e" stroke-width="0.85"/>
<line x1="17.50" y1="267.60" x2="126.50" y2="267.60" stroke="#3a62aa" stroke-width="0.75"/>
<path d="M17.5,267.6 L17.5,267.6 L41.3,267.6 L42.3,267.5 L43.3,267.5 L44.3,267.4 L45.2,267.3 L46.2,267.2 L47.2,266.9 L48.2,266.6 L49.2,266.1 L50.2,265.4 L51.2,264.5 L52.2,263.3 L53.2,261.7 L54.2,259.9 L55.2,257.7 L56.1,255.3 L57.1,252.6 L58.1,249.7 L59.1,246.8 L60.1,244.1 L61.1,241.6 L62.1,239.6 L63.1,238.1 L64.1,237.3 L65.1,237.3 L66.1,237.9 L67.0,239.2 L68.0,241.0 L69.0,243.1 L70.0,245.6 L71.0,248.2 L72.0,250.8 L73.0,253.3 L74.0,255.6 L75.0,257.6 L76.0,259.2 L77.0,260.6 L77.9,261.7 L78.9,262.6 L79.9,263.3 L80.9,263.8 L81.9,264.2 L82.9,264.6 L83.9,264.9 L84.9,265.2 L85.9,265.5 L86.9,265.8 L87.9,266.0 L88.8,266.3 L89.8,266.5 L90.8,266.8 L91.8,267.0 L92.8,267.1 L93.8,267.2 L94.8,267.3 L95.8,267.4 L96.8,267.5 L97.8,267.5 L98.8,267.6 L126.5,267.6 L126.5,267.6 Z" fill="#fff" fill-opacity="1"/>
<path d="M42.3,267.5 L43.3,267.5 L44.3,267.4 L45.2,267.3 L46.2,267.2 L47.2,266.9 L48.2,266.6 L49.2,266.1 L50.2,265.4 L51.2,264.5 L52.2,263.3 L53.2,261.7 L54.2,259.9 L55.2,257.7 L56.1,255.3 L57.1,252.6 L58.1,249.7 L59.1,246.8 L60.1,244.1 L61.1,241.6 L62.1,239.6 L63.1,238.1 L64.1,237.3 L65.1,237.3 L66.1,237.9 L67.0,239.2 L68.0,241.0 L69.0,243.1 L70.0,245.6 L71.0,248.2 L72.0,250.8 L73.0,253.3 L74.0,255.6 L75.0,257.6 L76.0,259.2 L77.0,260.6 L77.9,261.7 L78.9,262.6 L79.9,263.3 L80.9,263.8 L81.9,264.2 L82.9,264.6 L83.9,264.9 L84.9,265.2 L85.9,265.5 L86.9,265.8 L87.9,266.0 L88.8,266.3 L89.8,266.5 L90.8,266.8 L91.8,267.0 L92.8,267.1 L93.8,267.2 L94.8,267.3 L95.8,267.4 L96.8,267.5 L97.8,267.5" fill="none" stroke="#3a62aa" stroke-width="0.85"/>
<line x1="17.50" y1="283.20" x2="126.50" y2="283.20" stroke="#c4163f" stroke-width="0.75"/>
<path d="M17.5,283.2 L17.5,283.2 L35.3,283.2 L36.3,283.1 L37.3,283.1 L38.3,283.1 L39.3,283.0 L40.3,282.9 L41.3,282.8 L42.3,282.6 L43.3,282.4 L44.3,282.1 L45.2,281.7 L46.2,281.2 L47.2,280.5 L48.2,279.7 L49.2,278.8 L50.2,277.6 L51.2,276.2 L52.2,274.7 L53.2,272.9 L54.2,271.0 L55.2,268.9 L56.1,266.7 L57.1,264.5 L58.1,262.3 L59.1,260.2 L60.1,258.2 L61.1,256.6 L62.1,255.2 L63.1,254.2 L64.1,253.6 L65.1,253.5 L66.1,253.8 L67.0,254.6 L68.0,255.9 L69.0,257.5 L70.0,259.3 L71.0,261.3 L72.0,263.5 L73.0,265.6 L74.0,267.6 L75.0,269.6 L76.0,271.3 L77.0,272.8 L77.9,274.1 L78.9,275.2 L79.9,276.1 L80.9,276.8 L81.9,277.4 L82.9,278.0 L83.9,278.4 L84.9,278.8 L85.9,279.1 L86.9,279.4 L87.9,279.7 L88.8,280.0 L89.8,280.3 L90.8,280.6 L91.8,280.9 L92.8,281.2 L93.8,281.5 L94.8,281.8 L95.8,282.0 L96.8,282.2 L97.8,282.4 L98.8,282.5 L99.7,282.7 L100.7,282.8 L101.7,282.9 L102.7,283.0 L103.7,283.0 L104.7,283.1 L105.7,283.1 L106.7,283.1 L107.7,283.2 L126.5,283.2 L126.5,283.2 Z" fill="#fff" fill-opacity="1"/>
<path d="M36.3,283.1 L37.3,283.1 L38.3,283.1 L39.3,283.0 L40.3,282.9 L41.3,282.8 L42.3,282.6 L43.3,282.4 L44.3,282.1 L45.2,281.7 L46.2,281.2 L47.2,280.5 L48.2,279.7 L49.2,278.8 L50.2,277.6 L51.2,276.2 L52.2,274.7 L53.2,272.9 L54.2,271.0 L55.2,268.9 L56.1,266.7 L57.1,264.5 L58.1,262.3 L59.1,260.2 L60.1,258.2 L61.1,256.6 L62.1,255.2 L63.1,254.2 L64.1,253.6 L65.1,253.5 L66.1,253.8 L67.0,254.6 L68.0,255.9 L69.0,257.5 L70.0,259.3 L71.0,261.3 L72.0,263.5 L73.0,265.6 L74.0,267.6 L75.0,269.6 L76.0,271.3 L77.0,272.8 L77.9,274.1 L78.9,275.2 L79.9,276.1 L80.9,276.8 L81.9,277.4 L82.9,278.0 L83.9,278.4 L84.9,278.8 L85.9,279.1 L86.9,279.4 L87.9,279.7 L88.8,280.0 L89.8,280.3 L90.8,280.6 L91.8,280.9 L92.8,281.2 L93.8,281.5 L94.8,281.8 L95.8,282.0 L96.8,282.2 L97.8,282.4 L98.8,282.5 L99.7,282.7 L100.7,282.8 L101.7,282.9 L102.7,283.0 L103.7,283.0 L104.7,283.1 L105.7,283.1 L106.7,283.1" fill="none" stroke="#c4163f" stroke-width="0.85"/>
<line x1="17.50" y1="298.80" x2="126.50" y2="298.80" stroke="#565d6e" stroke-width="0.75"/>
<path d="M17.5,298.8 L17.5,298.8 L35.3,298.8 L36.3,298.7 L37.3,298.7 L38.3,298.6 L39.3,298.4 L40.3,298.2 L41.3,297.9 L42.3,297.4 L43.3,296.8 L44.3,295.9 L45.2,294.7 L46.2,293.3 L47.2,291.5 L48.2,289.4 L49.2,286.9 L50.2,284.2 L51.2,281.4 L52.2,278.5 L53.2,275.8 L54.2,273.3 L55.2,271.2 L56.1,269.8 L57.1,268.9 L58.1,268.8 L59.1,269.3 L60.1,270.4 L61.1,272.0 L62.1,274.0 L63.1,276.1 L64.1,278.3 L65.1,280.4 L66.1,282.4 L67.0,284.2 L68.0,285.7 L69.0,287.0 L70.0,288.1 L71.0,289.1 L72.0,289.9 L73.0,290.7 L74.0,291.4 L75.0,292.0 L76.0,292.5 L77.0,293.1 L77.9,293.7 L78.9,294.2 L79.9,294.7 L80.9,295.3 L81.9,295.7 L82.9,296.2 L83.9,296.6 L84.9,297.0 L85.9,297.3 L86.9,297.6 L87.9,297.9 L88.8,298.1 L89.8,298.3 L90.8,298.4 L91.8,298.5 L92.8,298.6 L93.8,298.6 L94.8,298.7 L95.8,298.7 L96.8,298.7 L97.8,298.8 L126.5,298.8 L126.5,298.8 Z" fill="#a4a8b2" fill-opacity="1"/>
<path d="M35.3,298.8 L36.3,298.7 L37.3,298.7 L38.3,298.6 L39.3,298.4 L40.3,298.2 L41.3,297.9 L42.3,297.4 L43.3,296.8 L44.3,295.9 L45.2,294.7 L46.2,293.3 L47.2,291.5 L48.2,289.4 L49.2,286.9 L50.2,284.2 L51.2,281.4 L52.2,278.5 L53.2,275.8 L54.2,273.3 L55.2,271.2 L56.1,269.8 L57.1,268.9 L58.1,268.8 L59.1,269.3 L60.1,270.4 L61.1,272.0 L62.1,274.0 L63.1,276.1 L64.1,278.3 L65.1,280.4 L66.1,282.4 L67.0,284.2 L68.0,285.7 L69.0,287.0 L70.0,288.1 L71.0,289.1 L72.0,289.9 L73.0,290.7 L74.0,291.4 L75.0,292.0 L76.0,292.5 L77.0,293.1 L77.9,293.7 L78.9,294.2 L79.9,294.7 L80.9,295.3 L81.9,295.7 L82.9,296.2 L83.9,296.6 L84.9,297.0 L85.9,297.3 L86.9,297.6 L87.9,297.9 L88.8,298.1 L89.8,298.3 L90.8,298.4 L91.8,298.5 L92.8,298.6 L93.8,298.6 L94.8,298.7 L95.8,298.7" fill="none" stroke="#565d6e" stroke-width="0.85"/>
<line x1="17.50" y1="314.20" x2="126.50" y2="314.20" stroke="#3a62aa" stroke-width="0.75"/>
<path d="M17.5,314.2 L17.5,314.2 L36.3,314.2 L37.3,314.1 L38.3,314.1 L39.3,314.0 L40.3,313.9 L41.3,313.7 L42.3,313.5 L43.3,313.1 L44.3,312.5 L45.2,311.7 L46.2,310.6 L47.2,309.2 L48.2,307.4 L49.2,305.2 L50.2,302.7 L51.2,300.0 L52.2,297.0 L53.2,294.0 L54.2,291.1 L55.2,288.6 L56.1,286.5 L57.1,285.1 L58.1,284.4 L59.1,284.5 L60.1,285.2 L61.1,286.5 L62.1,288.4 L63.1,290.5 L64.1,292.9 L65.1,295.3 L66.1,297.6 L67.0,299.8 L68.0,301.7 L69.0,303.5 L70.0,304.9 L71.0,306.2 L72.0,307.3 L73.0,308.2 L74.0,308.9 L75.0,309.5 L76.0,310.1 L77.0,310.5 L77.9,311.0 L78.9,311.4 L79.9,311.8 L80.9,312.1 L81.9,312.4 L82.9,312.7 L83.9,313.0 L84.9,313.2 L85.9,313.4 L86.9,313.6 L87.9,313.7 L88.8,313.8 L89.8,313.9 L90.8,314.0 L91.8,314.1 L92.8,314.1 L93.8,314.1 L94.8,314.1 L95.8,314.2 L126.5,314.2 L126.5,314.2 Z" fill="#2b4f98" fill-opacity="0.5"/>
<path d="M37.3,314.1 L38.3,314.1 L39.3,314.0 L40.3,313.9 L41.3,313.7 L42.3,313.5 L43.3,313.1 L44.3,312.5 L45.2,311.7 L46.2,310.6 L47.2,309.2 L48.2,307.4 L49.2,305.2 L50.2,302.7 L51.2,300.0 L52.2,297.0 L53.2,294.0 L54.2,291.1 L55.2,288.6 L56.1,286.5 L57.1,285.1 L58.1,284.4 L59.1,284.5 L60.1,285.2 L61.1,286.5 L62.1,288.4 L63.1,290.5 L64.1,292.9 L65.1,295.3 L66.1,297.6 L67.0,299.8 L68.0,301.7 L69.0,303.5 L70.0,304.9 L71.0,306.2 L72.0,307.3 L73.0,308.2 L74.0,308.9 L75.0,309.5 L76.0,310.1 L77.0,310.5 L77.9,311.0 L78.9,311.4 L79.9,311.8 L80.9,312.1 L81.9,312.4 L82.9,312.7 L83.9,313.0 L84.9,313.2 L85.9,313.4 L86.9,313.6 L87.9,313.7 L88.8,313.8 L89.8,313.9 L90.8,314.0 L91.8,314.1 L92.8,314.1 L93.8,314.1" fill="none" stroke="#3a62aa" stroke-width="0.85"/>
<line x1="17.50" y1="329.00" x2="126.50" y2="329.00" stroke="#c4163f" stroke-width="0.75"/>
<path d="M17.5,329.0 L17.5,329.0 L44.3,329.0 L45.2,328.9 L46.2,328.9 L47.2,328.9 L48.2,328.8 L49.2,328.8 L50.2,328.7 L51.2,328.6 L52.2,328.5 L53.2,328.4 L54.2,328.2 L55.2,328.0 L56.1,327.8 L57.1,327.6 L58.1,327.3 L59.1,327.0 L60.1,326.6 L61.1,326.2 L62.1,325.8 L63.1,325.4 L64.1,324.9 L65.1,324.3 L66.1,323.8 L67.0,323.2 L68.0,322.5 L69.0,321.7 L70.0,320.9 L71.0,319.9 L72.0,318.7 L73.0,317.5 L74.0,316.2 L75.0,315.0 L76.0,313.4 L77.0,312.7 L77.9,310.7 L78.9,308.6 L79.9,307.3 L80.9,305.4 L81.9,304.8 L82.9,303.1 L83.9,302.3 L84.9,301.2 L85.9,300.9 L86.9,301.8 L87.9,302.3 L88.8,303.6 L89.8,304.7 L90.8,307.2 L91.8,310.4 L92.8,312.5 L93.8,315.7 L94.8,317.9 L95.8,320.4 L96.8,322.2 L97.8,323.8 L98.8,325.2 L99.7,326.3 L100.7,327.1 L101.7,327.7 L102.7,328.1 L103.7,328.4 L104.7,328.6 L105.7,328.8 L106.7,328.9 L107.7,328.9 L108.7,329.0 L126.5,329.0 L126.5,329.0 Z" fill="#b3123a" fill-opacity="0.6"/>
<path d="M45.2,328.9 L46.2,328.9 L47.2,328.9 L48.2,328.8 L49.2,328.8 L50.2,328.7 L51.2,328.6 L52.2,328.5 L53.2,328.4 L54.2,328.2 L55.2,328.0 L56.1,327.8 L57.1,327.6 L58.1,327.3 L59.1,327.0 L60.1,326.6 L61.1,326.2 L62.1,325.8 L63.1,325.4 L64.1,324.9 L65.1,324.3 L66.1,323.8 L67.0,323.2 L68.0,322.5 L69.0,321.7 L70.0,320.9 L71.0,319.9 L72.0,318.7 L73.0,317.5 L74.0,316.2 L75.0,315.0 L76.0,313.4 L77.0,312.7 L77.9,310.7 L78.9,308.6 L79.9,307.3 L80.9,305.4 L81.9,304.8 L82.9,303.1 L83.9,302.3 L84.9,301.2 L85.9,300.9 L86.9,301.8 L87.9,302.3 L88.8,303.6 L89.8,304.7 L90.8,307.2 L91.8,310.4 L92.8,312.5 L93.8,315.7 L94.8,317.9 L95.8,320.4 L96.8,322.2 L97.8,323.8 L98.8,325.2 L99.7,326.3 L100.7,327.1 L101.7,327.7 L102.7,328.1 L103.7,328.4 L104.7,328.6 L105.7,328.8 L106.7,328.9 L107.7,328.9" fill="none" stroke="#c4163f" stroke-width="0.85"/>
</g>
<rect x="17.5" y="219" width="109.0" height="109.60000000000002" fill="none" stroke="#111" stroke-width="1.0"/>
<line x1="17.50" y1="328.60" x2="126.50" y2="328.60" stroke="#111" stroke-width="1.1"/>
<line x1="84.05" y1="328.60" x2="84.05" y2="330.40" stroke="#111" stroke-width="0.6"/>
<line x1="121.75" y1="328.60" x2="121.75" y2="330.40" stroke="#111" stroke-width="0.6"/>
<line x1="90.69" y1="328.60" x2="90.69" y2="330.40" stroke="#111" stroke-width="0.6"/>
<line x1="95.40" y1="328.60" x2="95.40" y2="330.40" stroke="#111" stroke-width="0.6"/>
<line x1="99.05" y1="328.60" x2="99.05" y2="330.40" stroke="#111" stroke-width="0.6"/>
<line x1="102.04" y1="328.60" x2="102.04" y2="330.40" stroke="#111" stroke-width="0.6"/>
<line x1="104.56" y1="328.60" x2="104.56" y2="330.40" stroke="#111" stroke-width="0.6"/>
<line x1="106.75" y1="328.60" x2="106.75" y2="330.40" stroke="#111" stroke-width="0.6"/>
<line x1="108.67" y1="328.60" x2="108.67" y2="330.40" stroke="#111" stroke-width="0.6"/>
<line x1="49.57" y1="328.60" x2="49.57" y2="330.40" stroke="#111" stroke-width="0.6"/>
<line x1="44.43" y1="328.60" x2="44.43" y2="330.40" stroke="#111" stroke-width="0.6"/>
<line x1="52.14" y1="328.60" x2="52.14" y2="330.40" stroke="#111" stroke-width="0.6"/>
<line x1="41.86" y1="328.60" x2="41.86" y2="330.40" stroke="#111" stroke-width="0.6"/>
<line x1="54.71" y1="328.60" x2="54.71" y2="330.40" stroke="#111" stroke-width="0.6"/>
<line x1="39.29" y1="328.60" x2="39.29" y2="330.40" stroke="#111" stroke-width="0.6"/>
<line x1="57.28" y1="328.60" x2="57.28" y2="330.40" stroke="#111" stroke-width="0.6"/>
<line x1="36.72" y1="328.60" x2="36.72" y2="330.40" stroke="#111" stroke-width="0.6"/>
<line x1="59.85" y1="328.60" x2="59.85" y2="330.40" stroke="#111" stroke-width="0.6"/>
<line x1="34.15" y1="328.60" x2="34.15" y2="330.40" stroke="#111" stroke-width="0.6"/>
<line x1="62.42" y1="328.60" x2="62.42" y2="330.40" stroke="#111" stroke-width="0.6"/>
<line x1="31.58" y1="328.60" x2="31.58" y2="330.40" stroke="#111" stroke-width="0.6"/>
<line x1="64.99" y1="328.60" x2="64.99" y2="330.40" stroke="#111" stroke-width="0.6"/>
<line x1="29.01" y1="328.60" x2="29.01" y2="330.40" stroke="#111" stroke-width="0.6"/>
<line x1="67.56" y1="328.60" x2="67.56" y2="330.40" stroke="#111" stroke-width="0.6"/>
<line x1="26.44" y1="328.60" x2="26.44" y2="330.40" stroke="#111" stroke-width="0.6"/>
<line x1="70.13" y1="328.60" x2="70.13" y2="330.40" stroke="#111" stroke-width="0.6"/>
<line x1="23.87" y1="328.60" x2="23.87" y2="330.40" stroke="#111" stroke-width="0.6"/>
<line x1="47.86" y1="328.60" x2="47.86" y2="330.40" stroke="#111" stroke-width="0.6"/>
<line x1="46.14" y1="328.60" x2="46.14" y2="330.40" stroke="#111" stroke-width="0.6"/>
<line x1="48.71" y1="328.60" x2="48.71" y2="330.40" stroke="#111" stroke-width="0.6"/>
<line x1="45.29" y1="328.60" x2="45.29" y2="330.40" stroke="#111" stroke-width="0.6"/>
<line x1="49.57" y1="328.60" x2="49.57" y2="330.40" stroke="#111" stroke-width="0.6"/>
<line x1="44.43" y1="328.60" x2="44.43" y2="330.40" stroke="#111" stroke-width="0.6"/>
<line x1="21.50" y1="328.60" x2="21.50" y2="330.80" stroke="#111" stroke-width="0.7"/>
<line x1="47.00" y1="328.60" x2="47.00" y2="330.80" stroke="#111" stroke-width="0.7"/>
<line x1="72.70" y1="328.60" x2="72.70" y2="330.80" stroke="#111" stroke-width="0.7"/>
<line x1="110.40" y1="328.60" x2="110.40" y2="330.80" stroke="#111" stroke-width="0.7"/>
<text x="21.50" y="340.50" font-size="6.4" text-anchor="middle" style="color:#1e1e1e" fill="currentColor" stroke="currentColor" stroke-width="0.1">-10<tspan font-size="4.6" dy="-2">3</tspan></text>
<text x="47.00" y="340.50" font-size="6.4" text-anchor="middle" style="color:#1e1e1e" fill="currentColor" stroke="currentColor" stroke-width="0.1">0</text>
<text x="72.70" y="340.50" font-size="6.4" text-anchor="middle" style="color:#1e1e1e" fill="currentColor" stroke="currentColor" stroke-width="0.1">10<tspan font-size="4.6" dy="-2">3</tspan></text>
<text x="110.40" y="340.50" font-size="6.4" text-anchor="middle" style="color:#1e1e1e" fill="currentColor" stroke="currentColor" stroke-width="0.1">10<tspan font-size="4.6" dy="-2">4</tspan></text>
<text x="71.60" y="351.70" font-size="7.3" text-anchor="middle" style="color:#1e1e1e" fill="currentColor" stroke="currentColor" stroke-width="0.1" textLength="79.8" lengthAdjust="spacingAndGlyphs">Intracellular Notch1 BV421</text>
<line x1="164.30" y1="219.50" x2="164.30" y2="298.00" stroke="#111" stroke-width="0.9"/>
<line x1="162.10" y1="297.50" x2="164.30" y2="297.50" stroke="#111" stroke-width="0.765"/>
<text x="158.40" y="299.80" font-size="6.4" text-anchor="end" style="color:#1e1e1e" fill="currentColor" stroke="currentColor" stroke-width="0.1" textLength="3.2" lengthAdjust="spacingAndGlyphs">0</text>
<line x1="162.10" y1="282.20" x2="164.30" y2="282.20" stroke="#111" stroke-width="0.765"/>
<text x="158.40" y="284.50" font-size="6.4" text-anchor="end" style="color:#1e1e1e" fill="currentColor" stroke="currentColor" stroke-width="0.1" textLength="3.2" lengthAdjust="spacingAndGlyphs">1</text>
<line x1="162.10" y1="266.90" x2="164.30" y2="266.90" stroke="#111" stroke-width="0.765"/>
<text x="158.40" y="269.20" font-size="6.4" text-anchor="end" style="color:#1e1e1e" fill="currentColor" stroke="currentColor" stroke-width="0.1" textLength="3.2" lengthAdjust="spacingAndGlyphs">2</text>
<line x1="162.10" y1="251.60" x2="164.30" y2="251.60" stroke="#111" stroke-width="0.765"/>
<text x="158.40" y="253.90" font-size="6.4" text-anchor="end" style="color:#1e1e1e" fill="currentColor" stroke="currentColor" stroke-width="0.1" textLength="3.2" lengthAdjust="spacingAndGlyphs">3</text>
<line x1="162.10" y1="236.30" x2="164.30" y2="236.30" stroke="#111" stroke-width="0.765"/>
<text x="158.40" y="238.60" font-size="6.4" text-anchor="end" style="color:#1e1e1e" fill="currentColor" stroke="currentColor" stroke-width="0.1" textLength="3.2" lengthAdjust="spacingAndGlyphs">4</text>
<line x1="162.10" y1="221.00" x2="164.30" y2="221.00" stroke="#111" stroke-width="0.765"/>
<text x="158.40" y="223.30" font-size="6.4" text-anchor="end" style="color:#1e1e1e" fill="currentColor" stroke="currentColor" stroke-width="0.1" textLength="3.2" lengthAdjust="spacingAndGlyphs">5</text>
<line x1="164.00" y1="297.50" x2="265.80" y2="297.50" stroke="#111" stroke-width="1.1"/>
<line x1="179.60" y1="297.50" x2="179.60" y2="299.80" stroke="#111" stroke-width="0.85"/>
<line x1="203.30" y1="297.50" x2="203.30" y2="299.80" stroke="#111" stroke-width="0.85"/>
<line x1="226.30" y1="297.50" x2="226.30" y2="299.80" stroke="#111" stroke-width="0.85"/>
<line x1="250.10" y1="297.50" x2="250.10" y2="299.80" stroke="#111" stroke-width="0.85"/>
<line x1="164.00" y1="282.20" x2="265.80" y2="282.20" stroke="#111" stroke-width="0.9"/>
<text x="269.20" y="284.60" font-size="6.6" style="color:#1e1e1e" fill="currentColor" stroke="currentColor" stroke-width="0.1" font-style="italic" textLength="28" lengthAdjust="spacingAndGlyphs">Cd19-Cre</text>
<text x="147.90" y="258.20" font-size="6.6" text-anchor="middle" style="color:#1e1e1e" fill="currentColor" stroke="currentColor" stroke-width="0.1" textLength="103" lengthAdjust="spacingAndGlyphs" transform="rotate(-90 147.9 258.2)">Protein level of intracellular notch1</text>
<line x1="179.90" y1="263.23" x2="179.90" y2="273.17" stroke="#222" stroke-width="0.7"/>
<line x1="177.09" y1="263.23" x2="182.71" y2="263.23" stroke="#222" stroke-width="0.7"/>
<line x1="179.90" y1="283.73" x2="179.90" y2="286.48" stroke="#222" stroke-width="0.7"/>
<line x1="177.09" y1="286.48" x2="182.71" y2="286.48" stroke="#222" stroke-width="0.7"/>
<rect x="172.10" y="273.17" width="15.60" height="10.56" fill="none" stroke="#222" stroke-width="0.7"/>
<line x1="172.10" y1="280.36" x2="187.70" y2="280.36" stroke="#222" stroke-width="0.7"/>
<line x1="203.25" y1="262.46" x2="203.25" y2="269.81" stroke="#222" stroke-width="0.7"/>
<line x1="200.35" y1="262.46" x2="206.15" y2="262.46" stroke="#222" stroke-width="0.7"/>
<line x1="203.25" y1="282.20" x2="203.25" y2="285.87" stroke="#222" stroke-width="0.7"/>
<line x1="200.35" y1="285.87" x2="206.15" y2="285.87" stroke="#222" stroke-width="0.7"/>
<rect x="195.20" y="269.81" width="16.10" height="12.39" fill="none" stroke="#222" stroke-width="0.7"/>
<line x1="195.20" y1="275.16" x2="211.30" y2="275.16" stroke="#222" stroke-width="0.7"/>
<line x1="226.55" y1="261.24" x2="226.55" y2="275.93" stroke="#222" stroke-width="0.7"/>
<line x1="223.69" y1="261.24" x2="229.41" y2="261.24" stroke="#222" stroke-width="0.7"/>
<line x1="226.55" y1="282.20" x2="226.55" y2="286.33" stroke="#222" stroke-width="0.7"/>
<line x1="223.69" y1="286.33" x2="229.41" y2="286.33" stroke="#222" stroke-width="0.7"/>
<rect x="218.60" y="275.93" width="15.90" height="6.27" fill="none" stroke="#222" stroke-width="0.7"/>
<line x1="218.60" y1="279.14" x2="234.50" y2="279.14" stroke="#222" stroke-width="0.7"/>
<line x1="250.00" y1="237.37" x2="250.00" y2="245.17" stroke="#222" stroke-width="0.7"/>
<line x1="247.16" y1="237.37" x2="252.84" y2="237.37" stroke="#222" stroke-width="0.7"/>
<line x1="250.00" y1="270.42" x2="250.00" y2="278.38" stroke="#222" stroke-width="0.7"/>
<line x1="247.16" y1="278.38" x2="252.84" y2="278.38" stroke="#222" stroke-width="0.7"/>
<rect x="242.10" y="245.17" width="15.80" height="25.24" fill="none" stroke="#222" stroke-width="0.7"/>
<line x1="242.10" y1="258.03" x2="257.90" y2="258.03" stroke="#222" stroke-width="0.7"/>
<polyline points="179.50,263.00 179.50,221.00 250.10,221.00 250.10,234.00" stroke="#111" stroke-width="0.7" fill="none"/>
<polyline points="203.20,262.50 203.20,228.20 250.10,228.20" stroke="#111" stroke-width="0.7" fill="none"/>
<polyline points="226.40,261.00 226.40,234.00 250.10,234.00" stroke="#111" stroke-width="0.7" fill="none"/>
<text x="215.00" y="220.40" font-size="4.6" text-anchor="middle" style="color:#111" fill="currentColor" stroke="currentColor" stroke-width="0.1" textLength="6.4" lengthAdjust="spacingAndGlyphs">***</text>
<text x="226.70" y="227.60" font-size="4.6" text-anchor="middle" style="color:#111" fill="currentColor" stroke="currentColor" stroke-width="0.1" textLength="6.4" lengthAdjust="spacingAndGlyphs">***</text>
<text x="238.30" y="233.40" font-size="4.6" text-anchor="middle" style="color:#111" fill="currentColor" stroke="currentColor" stroke-width="0.1" textLength="6.4" lengthAdjust="spacingAndGlyphs">***</text>
<circle cx="181.35" cy="263.31" r="1.35" fill="#2c55a3" stroke="#111" stroke-width="0.5"/>
<circle cx="176.15" cy="266.54" r="1.35" fill="#2c55a3" stroke="#111" stroke-width="0.5"/>
<circle cx="177.88" cy="269.77" r="1.35" fill="#2c55a3" stroke="#111" stroke-width="0.5"/>
<circle cx="181.35" cy="272.54" r="1.35" fill="#2c55a3" stroke="#111" stroke-width="0.5"/>
<circle cx="179.61" cy="278.08" r="1.35" fill="#2c55a3" stroke="#111" stroke-width="0.5"/>
<circle cx="173.85" cy="280.61" r="1.35" fill="#2c55a3" stroke="#111" stroke-width="0.5"/>
<circle cx="176.73" cy="280.61" r="1.35" fill="#2c55a3" stroke="#111" stroke-width="0.5"/>
<circle cx="182.50" cy="280.61" r="1.35" fill="#2c55a3" stroke="#111" stroke-width="0.5"/>
<circle cx="185.96" cy="280.61" r="1.35" fill="#2c55a3" stroke="#111" stroke-width="0.5"/>
<circle cx="173.85" cy="283.27" r="1.35" fill="#2c55a3" stroke="#111" stroke-width="0.5"/>
<circle cx="180.19" cy="283.27" r="1.35" fill="#2c55a3" stroke="#111" stroke-width="0.5"/>
<circle cx="186.54" cy="283.27" r="1.35" fill="#2c55a3" stroke="#111" stroke-width="0.5"/>
<circle cx="176.73" cy="285.23" r="1.35" fill="#2c55a3" stroke="#111" stroke-width="0.5"/>
<circle cx="180.19" cy="286.73" r="1.35" fill="#2c55a3" stroke="#111" stroke-width="0.5"/>
<circle cx="183.08" cy="286.73" r="1.35" fill="#2c55a3" stroke="#111" stroke-width="0.5"/>
<circle cx="185.96" cy="285.23" r="1.35" fill="#2c55a3" stroke="#111" stroke-width="0.5"/>
<circle cx="178.46" cy="282.69" r="1.35" fill="#2c55a3" stroke="#111" stroke-width="0.5"/>
<circle cx="183.65" cy="282.69" r="1.35" fill="#2c55a3" stroke="#111" stroke-width="0.5"/>
<circle cx="203.27" cy="262.50" r="1.35" fill="#c4102e" stroke="#111" stroke-width="0.5"/>
<circle cx="199.81" cy="269.77" r="1.35" fill="#c4102e" stroke="#111" stroke-width="0.5"/>
<circle cx="205.00" cy="268.61" r="1.35" fill="#c4102e" stroke="#111" stroke-width="0.5"/>
<circle cx="201.54" cy="271.15" r="1.35" fill="#c4102e" stroke="#111" stroke-width="0.5"/>
<circle cx="205.00" cy="273.46" r="1.35" fill="#c4102e" stroke="#111" stroke-width="0.5"/>
<circle cx="203.27" cy="277.50" r="1.35" fill="#c4102e" stroke="#111" stroke-width="0.5"/>
<circle cx="199.81" cy="282.35" r="1.35" fill="#c4102e" stroke="#111" stroke-width="0.5"/>
<circle cx="203.27" cy="281.31" r="1.35" fill="#c4102e" stroke="#111" stroke-width="0.5"/>
<circle cx="206.73" cy="282.35" r="1.35" fill="#c4102e" stroke="#111" stroke-width="0.5"/>
<circle cx="203.27" cy="285.58" r="1.35" fill="#c4102e" stroke="#111" stroke-width="0.5"/>
<circle cx="251.72" cy="236.90" r="1.35" fill="#c4102e" stroke="#111" stroke-width="0.5"/>
<circle cx="248.28" cy="238.50" r="1.35" fill="#c4102e" stroke="#111" stroke-width="0.5"/>
<circle cx="253.56" cy="244.26" r="1.35" fill="#c4102e" stroke="#111" stroke-width="0.5"/>
<circle cx="246.56" cy="246.47" r="1.35" fill="#c4102e" stroke="#111" stroke-width="0.5"/>
<circle cx="250.12" cy="246.47" r="1.35" fill="#c4102e" stroke="#111" stroke-width="0.5"/>
<circle cx="250.12" cy="256.53" r="1.35" fill="#c4102e" stroke="#111" stroke-width="0.5"/>
<circle cx="250.12" cy="260.95" r="1.35" fill="#c4102e" stroke="#111" stroke-width="0.5"/>
<circle cx="248.28" cy="264.88" r="1.35" fill="#c4102e" stroke="#111" stroke-width="0.5"/>
<circle cx="251.72" cy="264.26" r="1.35" fill="#c4102e" stroke="#111" stroke-width="0.5"/>
<circle cx="248.28" cy="272.61" r="1.35" fill="#c4102e" stroke="#111" stroke-width="0.5"/>
<circle cx="251.72" cy="274.33" r="1.35" fill="#c4102e" stroke="#111" stroke-width="0.5"/>
<circle cx="250.12" cy="278.37" r="1.35" fill="#c4102e" stroke="#111" stroke-width="0.5"/>
<circle cx="224.72" cy="261.20" r="1.35" fill="#2c55a3" stroke="#111" stroke-width="0.5"/>
<circle cx="228.40" cy="262.67" r="1.35" fill="#2c55a3" stroke="#111" stroke-width="0.5"/>
<circle cx="219.82" cy="275.31" r="1.35" fill="#2c55a3" stroke="#111" stroke-width="0.5"/>
<circle cx="233.31" cy="275.31" r="1.35" fill="#2c55a3" stroke="#111" stroke-width="0.5"/>
<circle cx="222.27" cy="277.76" r="1.35" fill="#2c55a3" stroke="#111" stroke-width="0.5"/>
<circle cx="225.34" cy="278.99" r="1.35" fill="#2c55a3" stroke="#111" stroke-width="0.5"/>
<circle cx="228.40" cy="277.52" r="1.35" fill="#2c55a3" stroke="#111" stroke-width="0.5"/>
<circle cx="230.86" cy="278.99" r="1.35" fill="#2c55a3" stroke="#111" stroke-width="0.5"/>
<circle cx="223.50" cy="280.83" r="1.35" fill="#2c55a3" stroke="#111" stroke-width="0.5"/>
<circle cx="227.18" cy="280.83" r="1.35" fill="#2c55a3" stroke="#111" stroke-width="0.5"/>
<circle cx="232.09" cy="280.21" r="1.35" fill="#2c55a3" stroke="#111" stroke-width="0.5"/>
<circle cx="225.95" cy="282.67" r="1.35" fill="#2c55a3" stroke="#111" stroke-width="0.5"/>
<circle cx="229.02" cy="283.65" r="1.35" fill="#2c55a3" stroke="#111" stroke-width="0.5"/>
<circle cx="224.72" cy="286.72" r="1.35" fill="#2c55a3" stroke="#111" stroke-width="0.5"/>
<circle cx="222.88" cy="278.99" r="1.35" fill="#2c55a3" stroke="#111" stroke-width="0.5"/>
<text x="181.90" y="307.20" font-size="6.5" text-anchor="end" style="color:#1e1e1e" fill="currentColor" stroke="currentColor" stroke-width="0.1" textLength="22.5" lengthAdjust="spacingAndGlyphs" transform="rotate(-45 181.9 307.2)">Eμ-<tspan font-style="italic">TCL1</tspan></text>
<text x="205.60" y="307.20" font-size="6.5" text-anchor="end" style="color:#1e1e1e" fill="currentColor" stroke="currentColor" stroke-width="0.1" textLength="33.5" lengthAdjust="spacingAndGlyphs" transform="rotate(-45 205.60000000000002 307.2)">Eμ-<tspan font-style="italic">TCL1</tspan><tspan font-size="3.8" dy="-2.4">Akt-C</tspan></text>
<text x="228.60" y="307.20" font-size="6.5" text-anchor="end" style="color:#1e1e1e" fill="currentColor" stroke="currentColor" stroke-width="0.1" textLength="22.5" lengthAdjust="spacingAndGlyphs" transform="rotate(-45 228.60000000000002 307.2)">Eμ-<tspan font-style="italic">TCL1</tspan></text>
<text x="252.40" y="307.20" font-size="6.5" text-anchor="end" style="color:#1e1e1e" fill="currentColor" stroke="currentColor" stroke-width="0.1" textLength="33.5" lengthAdjust="spacingAndGlyphs" transform="rotate(-45 252.4 307.2)">Eμ-<tspan font-style="italic">TCL1</tspan><tspan font-size="3.8" dy="-2.4">Akt-C</tspan></text>
<line x1="174.00" y1="339.70" x2="206.50" y2="339.70" stroke="#444" stroke-width="1.1"/>
<line x1="220.60" y1="339.70" x2="252.40" y2="339.70" stroke="#444" stroke-width="1.1"/>
<text x="190.20" y="347.60" font-size="6.4" text-anchor="middle" style="color:#1e1e1e" fill="currentColor" stroke="currentColor" stroke-width="0.1" textLength="17.3" lengthAdjust="spacingAndGlyphs">3-4 m</text>
<text x="236.60" y="347.60" font-size="6.4" text-anchor="middle" style="color:#1e1e1e" fill="currentColor" stroke="currentColor" stroke-width="0.1" textLength="17.3" lengthAdjust="spacingAndGlyphs">7-8 m</text>
<text x="313.00" y="190.40" font-size="11.8" style="color:#000" fill="currentColor" font-weight="bold">D</text>
<text x="373.00" y="203.80" font-size="6.5" style="color:#1e1e1e" fill="currentColor" stroke="currentColor" stroke-width="0.1" textLength="51.2" lengthAdjust="spacingAndGlyphs"><tspan style="color:#2f5ba6">Eμ-<tspan font-style="italic">TCL1</tspan></tspan> <tspan style="color:#c0143c">Eμ-<tspan font-style="italic">TCL1</tspan></tspan></text>
<text x="424.70" y="200.00" font-size="4.0" style="color:#c0143c" fill="currentColor" stroke="currentColor" stroke-width="0.05" textLength="10.8" lengthAdjust="spacingAndGlyphs">Akt-C</text>
<text x="404.30" y="212.80" font-size="6.5" text-anchor="middle" style="color:#1e1e1e" fill="currentColor" stroke="currentColor" stroke-width="0.1" textLength="19.7" lengthAdjust="spacingAndGlyphs">Spleen</text>
<line x1="350.40" y1="218.50" x2="458.00" y2="218.50" stroke="#111" stroke-width="1.0"/>
<clipPath id="cD"><rect x="350.5" y="221.8" width="107.5" height="106.5"/></clipPath>
<g clip-path="url(#cD)">
<path d="M350.5,328.3 L350.5,328.1 L351.2,328.1 L351.9,328.0 L352.6,328.0 L353.4,327.9 L354.1,327.8 L354.8,327.6 L355.5,327.5 L356.2,327.3 L356.9,327.1 L357.7,326.9 L358.4,326.6 L359.1,326.3 L359.8,326.0 L360.5,325.6 L361.2,325.1 L362.0,324.6 L362.7,324.0 L363.4,323.4 L364.1,322.7 L364.8,321.9 L365.6,321.0 L366.3,320.1 L367.0,319.0 L367.7,317.8 L368.4,316.5 L369.1,315.1 L369.9,313.5 L370.6,311.8 L371.3,309.9 L372.0,307.8 L372.7,305.6 L373.4,303.1 L374.1,300.4 L374.9,297.1 L375.6,294.0 L376.3,290.7 L377.0,288.1 L377.7,283.8 L378.4,280.2 L379.2,276.1 L379.9,272.6 L380.6,268.4 L381.3,263.7 L382.0,260.0 L382.8,255.4 L383.5,252.4 L384.2,248.5 L384.9,243.4 L385.6,240.8 L386.3,237.6 L387.1,234.4 L387.8,233.3 L388.5,232.5 L389.2,229.2 L389.9,229.0 L390.6,228.7 L391.4,229.3 L392.1,229.4 L392.8,232.9 L393.5,234.0 L394.2,238.0 L394.9,240.7 L395.6,244.2 L396.4,249.0 L397.1,253.7 L397.8,257.2 L398.5,261.2 L399.2,266.0 L399.9,270.8 L400.7,274.8 L401.4,279.8 L402.1,283.8 L402.8,287.5 L403.5,290.5 L404.2,294.6 L405.0,297.8 L405.7,300.4 L406.4,303.1 L407.1,305.5 L407.8,307.8 L408.6,309.8 L409.3,311.6 L410.0,313.2 L410.7,314.7 L411.4,316.1 L412.1,317.3 L412.9,318.4 L413.6,319.4 L414.3,320.3 L415.0,321.1 L415.7,321.9 L416.4,322.6 L417.1,323.2 L417.9,323.8 L418.6,324.3 L419.3,324.8 L420.0,325.2 L420.7,325.6 L421.4,326.0 L422.2,326.3 L422.9,326.6 L423.6,326.8 L424.3,327.0 L425.0,327.2 L425.8,327.4 L426.5,327.6 L427.2,327.7 L427.9,327.8 L428.6,327.9 L429.3,328.0 L430.1,328.0 L430.8,328.1 L431.5,328.1 L432.2,328.2 L432.9,328.2 L433.6,328.2 L434.4,328.2 L435.1,328.2 L435.8,328.3 L458.0,328.3 L458.0,328.3 Z" fill="#b3123a" fill-opacity="0.16" stroke="none"/>
<path d="M350.5,328.3 L350.5,328.3 L359.8,328.3 L360.5,328.2 L361.2,328.2 L362.0,328.2 L362.7,328.1 L363.4,328.0 L364.1,328.0 L364.8,327.8 L365.6,327.7 L366.3,327.5 L367.0,327.2 L367.7,326.9 L368.4,326.5 L369.1,326.0 L369.9,325.4 L370.6,324.6 L371.3,323.7 L372.0,322.6 L372.7,321.2 L373.4,319.6 L374.1,317.8 L374.9,315.7 L375.6,313.2 L376.3,310.5 L377.0,307.4 L377.7,303.9 L378.4,300.1 L379.2,296.3 L379.9,291.3 L380.6,286.6 L381.3,281.9 L382.0,277.1 L382.8,270.9 L383.5,265.6 L384.2,260.8 L384.9,255.7 L385.6,251.4 L386.3,247.4 L387.1,242.3 L387.8,238.1 L388.5,236.3 L389.2,231.7 L389.9,231.5 L390.6,230.4 L391.4,230.5 L392.1,228.0 L392.8,230.0 L393.5,231.5 L394.2,234.8 L394.9,239.6 L395.6,242.5 L396.4,246.2 L397.1,251.6 L397.8,254.4 L398.5,260.5 L399.2,265.7 L399.9,269.3 L400.7,275.2 L401.4,278.5 L402.1,283.5 L402.8,287.4 L403.5,291.4 L404.2,294.8 L405.0,298.3 L405.7,300.9 L406.4,303.6 L407.1,305.9 L407.8,308.1 L408.6,310.0 L409.3,311.7 L410.0,313.3 L410.7,314.7 L411.4,316.0 L412.1,317.1 L412.9,318.2 L413.6,319.2 L414.3,320.1 L415.0,320.9 L415.7,321.6 L416.4,322.4 L417.1,323.0 L417.9,323.6 L418.6,324.2 L419.3,324.7 L420.0,325.1 L420.7,325.5 L421.4,325.9 L422.2,326.2 L422.9,326.5 L423.6,326.8 L424.3,327.0 L425.0,327.2 L425.8,327.4 L426.5,327.6 L427.2,327.7 L427.9,327.8 L428.6,327.9 L429.3,328.0 L430.1,328.0 L430.8,328.1 L431.5,328.1 L432.2,328.2 L432.9,328.2 L433.6,328.2 L434.4,328.2 L435.1,328.3 L458.0,328.3 L458.0,328.3 Z" fill="#2b4f98" fill-opacity="0.5" stroke="#2b4f98" stroke-width="0.85"/>
<path d="M350.5,328.3 L350.5,328.3 L351.9,328.3 L352.6,328.2 L353.4,328.2 L354.1,328.2 L354.8,328.2 L355.5,328.2 L356.2,328.1 L356.9,328.1 L357.7,328.1 L358.4,328.0 L359.1,328.0 L359.8,327.9 L360.5,327.8 L361.2,327.7 L362.0,327.6 L362.7,327.5 L363.4,327.4 L364.1,327.2 L364.8,327.0 L365.6,326.8 L366.3,326.5 L367.0,326.2 L367.7,325.9 L368.4,325.5 L369.1,325.1 L369.9,324.6 L370.6,324.1 L371.3,323.5 L372.0,322.8 L372.7,322.1 L373.4,321.2 L374.1,320.3 L374.9,319.3 L375.6,318.2 L376.3,317.0 L377.0,315.7 L377.7,314.2 L378.4,312.7 L379.2,311.0 L379.9,309.2 L380.6,307.3 L381.3,305.3 L382.0,303.1 L382.8,300.8 L383.5,297.4 L384.2,296.7 L384.9,294.4 L385.6,289.2 L386.3,288.6 L387.1,285.9 L387.8,281.3 L388.5,279.3 L389.2,274.3 L389.9,273.6 L390.6,267.6 L391.4,267.2 L392.1,262.8 L392.8,258.2 L393.5,256.4 L394.2,252.2 L394.9,250.6 L395.6,251.6 L396.4,244.4 L397.1,243.7 L397.8,243.3 L398.5,242.1 L399.2,236.3 L399.9,236.5 L400.7,233.0 L401.4,233.1 L402.1,231.2 L402.8,233.4 L403.5,232.4 L404.2,233.2 L405.0,236.3 L405.7,232.9 L406.4,238.6 L407.1,237.6 L407.8,239.0 L408.6,243.5 L409.3,249.5 L410.0,248.9 L410.7,253.4 L411.4,259.5 L412.1,263.8 L412.9,265.5 L413.6,271.6 L414.3,272.0 L415.0,277.6 L415.7,281.4 L416.4,285.6 L417.1,288.6 L417.9,291.5 L418.6,296.4 L419.3,299.4 L420.0,302.2 L420.7,305.0 L421.4,307.6 L422.2,310.0 L422.9,312.2 L423.6,314.2 L424.3,316.0 L425.0,317.7 L425.8,319.1 L426.5,320.4 L427.2,321.6 L427.9,322.6 L428.6,323.5 L429.3,324.2 L430.1,324.9 L430.8,325.5 L431.5,325.9 L432.2,326.4 L432.9,326.7 L433.6,327.0 L434.4,327.2 L435.1,327.4 L435.8,327.6 L436.5,327.7 L437.2,327.9 L437.9,327.9 L438.6,328.0 L439.4,328.1 L440.1,328.1 L440.8,328.2 L441.5,328.2 L442.2,328.2 L442.9,328.2 L443.7,328.3 L458.0,328.3 L458.0,328.3 Z" fill="#b3123a" fill-opacity="0.58" stroke="#b3123a" stroke-width="0.85"/>
<path d="M350.5,328.3 L350.5,328.1 L351.2,328.1 L351.9,328.0 L352.6,328.0 L353.4,327.9 L354.1,327.8 L354.8,327.6 L355.5,327.5 L356.2,327.3 L356.9,327.1 L357.7,326.9 L358.4,326.6 L359.1,326.3 L359.8,326.0 L360.5,325.6 L361.2,325.1 L362.0,324.6 L362.7,324.0 L363.4,323.4 L364.1,322.7 L364.8,321.9 L365.6,321.0 L366.3,320.1 L367.0,319.0 L367.7,317.8 L368.4,316.5 L369.1,315.1 L369.9,313.5 L370.6,311.8 L371.3,309.9 L372.0,307.8 L372.7,305.6 L373.4,303.1 L374.1,300.4 L374.9,297.1 L375.6,294.0 L376.3,290.7 L377.0,288.1 L377.7,283.8 L378.4,280.2 L379.2,276.1 L379.9,272.6 L380.6,268.4 L381.3,263.7 L382.0,260.0 L382.8,255.4 L383.5,252.4 L384.2,248.5 L384.9,243.4 L385.6,240.8 L386.3,237.6 L387.1,234.4 L387.8,233.3 L388.5,232.5 L389.2,229.2 L389.9,229.0 L390.6,228.7 L391.4,229.3 L392.1,229.4 L392.8,232.9 L393.5,234.0 L394.2,238.0 L394.9,240.7 L395.6,244.2 L396.4,249.0 L397.1,253.7 L397.8,257.2 L398.5,261.2 L399.2,266.0 L399.9,270.8 L400.7,274.8 L401.4,279.8 L402.1,283.8 L402.8,287.5 L403.5,290.5 L404.2,294.6 L405.0,297.8 L405.7,300.4 L406.4,303.1 L407.1,305.5 L407.8,307.8 L408.6,309.8 L409.3,311.6 L410.0,313.2 L410.7,314.7 L411.4,316.1 L412.1,317.3 L412.9,318.4 L413.6,319.4 L414.3,320.3 L415.0,321.1 L415.7,321.9 L416.4,322.6 L417.1,323.2 L417.9,323.8 L418.6,324.3 L419.3,324.8 L420.0,325.2 L420.7,325.6 L421.4,326.0 L422.2,326.3 L422.9,326.6 L423.6,326.8 L424.3,327.0 L425.0,327.2 L425.8,327.4 L426.5,327.6 L427.2,327.7 L427.9,327.8 L428.6,327.9 L429.3,328.0 L430.1,328.0 L430.8,328.1 L431.5,328.1 L432.2,328.2 L432.9,328.2 L433.6,328.2 L434.4,328.2 L435.1,328.2 L435.8,328.3 L458.0,328.3 L458.0,328.3 Z" fill="none" stroke="#b3123a" stroke-width="0.85"/>
</g>
<line x1="350.50" y1="221.80" x2="458.00" y2="221.80" stroke="#111" stroke-width="1.1"/>
<line x1="458.00" y1="221.80" x2="458.00" y2="328.30" stroke="#111" stroke-width="1.0"/>
<line x1="350.50" y1="221.80" x2="350.50" y2="328.30" stroke="#111" stroke-width="0.9"/>
<line x1="348.30" y1="328.30" x2="350.50" y2="328.30" stroke="#111" stroke-width="0.765"/>
<text x="344.60" y="330.60" font-size="6.4" text-anchor="end" style="color:#1e1e1e" fill="currentColor" stroke="currentColor" stroke-width="0.1" textLength="3.2" lengthAdjust="spacingAndGlyphs">0</text>
<line x1="348.30" y1="307.96" x2="350.50" y2="307.96" stroke="#111" stroke-width="0.765"/>
<text x="344.60" y="310.26" font-size="6.4" text-anchor="end" style="color:#1e1e1e" fill="currentColor" stroke="currentColor" stroke-width="0.1" textLength="6.4" lengthAdjust="spacingAndGlyphs">20</text>
<line x1="348.30" y1="287.62" x2="350.50" y2="287.62" stroke="#111" stroke-width="0.765"/>
<text x="344.60" y="289.92" font-size="6.4" text-anchor="end" style="color:#1e1e1e" fill="currentColor" stroke="currentColor" stroke-width="0.1" textLength="6.4" lengthAdjust="spacingAndGlyphs">40</text>
<line x1="348.30" y1="267.28" x2="350.50" y2="267.28" stroke="#111" stroke-width="0.765"/>
<text x="344.60" y="269.58" font-size="6.4" text-anchor="end" style="color:#1e1e1e" fill="currentColor" stroke="currentColor" stroke-width="0.1" textLength="6.4" lengthAdjust="spacingAndGlyphs">60</text>
<line x1="348.30" y1="246.94" x2="350.50" y2="246.94" stroke="#111" stroke-width="0.765"/>
<text x="344.60" y="249.24" font-size="6.4" text-anchor="end" style="color:#1e1e1e" fill="currentColor" stroke="currentColor" stroke-width="0.1" textLength="6.4" lengthAdjust="spacingAndGlyphs">80</text>
<line x1="348.30" y1="226.60" x2="350.50" y2="226.60" stroke="#111" stroke-width="0.765"/>
<text x="344.60" y="228.90" font-size="6.4" text-anchor="end" style="color:#1e1e1e" fill="currentColor" stroke="currentColor" stroke-width="0.1" textLength="9.600000000000001" lengthAdjust="spacingAndGlyphs">100</text>
<line x1="349.40" y1="328.30" x2="350.50" y2="328.30" stroke="#111" stroke-width="0.5"/>
<line x1="349.40" y1="324.23" x2="350.50" y2="324.23" stroke="#111" stroke-width="0.5"/>
<line x1="349.40" y1="320.16" x2="350.50" y2="320.16" stroke="#111" stroke-width="0.5"/>
<line x1="349.40" y1="316.10" x2="350.50" y2="316.10" stroke="#111" stroke-width="0.5"/>
<line x1="349.40" y1="312.03" x2="350.50" y2="312.03" stroke="#111" stroke-width="0.5"/>
<line x1="349.40" y1="307.96" x2="350.50" y2="307.96" stroke="#111" stroke-width="0.5"/>
<line x1="349.40" y1="303.89" x2="350.50" y2="303.89" stroke="#111" stroke-width="0.5"/>
<line x1="349.40" y1="299.82" x2="350.50" y2="299.82" stroke="#111" stroke-width="0.5"/>
<line x1="349.40" y1="295.76" x2="350.50" y2="295.76" stroke="#111" stroke-width="0.5"/>
<line x1="349.40" y1="291.69" x2="350.50" y2="291.69" stroke="#111" stroke-width="0.5"/>
<line x1="349.40" y1="287.62" x2="350.50" y2="287.62" stroke="#111" stroke-width="0.5"/>
<line x1="349.40" y1="283.55" x2="350.50" y2="283.55" stroke="#111" stroke-width="0.5"/>
<line x1="349.40" y1="279.48" x2="350.50" y2="279.48" stroke="#111" stroke-width="0.5"/>
<line x1="349.40" y1="275.42" x2="350.50" y2="275.42" stroke="#111" stroke-width="0.5"/>
<line x1="349.40" y1="271.35" x2="350.50" y2="271.35" stroke="#111" stroke-width="0.5"/>
<line x1="349.40" y1="267.28" x2="350.50" y2="267.28" stroke="#111" stroke-width="0.5"/>
<line x1="349.40" y1="263.21" x2="350.50" y2="263.21" stroke="#111" stroke-width="0.5"/>
<line x1="349.40" y1="259.14" x2="350.50" y2="259.14" stroke="#111" stroke-width="0.5"/>
<line x1="349.40" y1="255.08" x2="350.50" y2="255.08" stroke="#111" stroke-width="0.5"/>
<line x1="349.40" y1="251.01" x2="350.50" y2="251.01" stroke="#111" stroke-width="0.5"/>
<line x1="349.40" y1="246.94" x2="350.50" y2="246.94" stroke="#111" stroke-width="0.5"/>
<line x1="349.40" y1="242.87" x2="350.50" y2="242.87" stroke="#111" stroke-width="0.5"/>
<line x1="349.40" y1="238.80" x2="350.50" y2="238.80" stroke="#111" stroke-width="0.5"/>
<line x1="349.40" y1="234.74" x2="350.50" y2="234.74" stroke="#111" stroke-width="0.5"/>
<line x1="349.40" y1="230.67" x2="350.50" y2="230.67" stroke="#111" stroke-width="0.5"/>
<line x1="349.40" y1="226.60" x2="350.50" y2="226.60" stroke="#111" stroke-width="0.5"/>
<line x1="350.50" y1="328.30" x2="458.00" y2="328.30" stroke="#111" stroke-width="1.1"/>
<line x1="417.37" y1="328.30" x2="417.37" y2="330.10" stroke="#111" stroke-width="0.6"/>
<line x1="454.47" y1="328.30" x2="454.47" y2="330.10" stroke="#111" stroke-width="0.6"/>
<line x1="423.90" y1="328.30" x2="423.90" y2="330.10" stroke="#111" stroke-width="0.6"/>
<line x1="428.54" y1="328.30" x2="428.54" y2="330.10" stroke="#111" stroke-width="0.6"/>
<line x1="432.13" y1="328.30" x2="432.13" y2="330.10" stroke="#111" stroke-width="0.6"/>
<line x1="435.07" y1="328.30" x2="435.07" y2="330.10" stroke="#111" stroke-width="0.6"/>
<line x1="437.55" y1="328.30" x2="437.55" y2="330.10" stroke="#111" stroke-width="0.6"/>
<line x1="439.70" y1="328.30" x2="439.70" y2="330.10" stroke="#111" stroke-width="0.6"/>
<line x1="441.60" y1="328.30" x2="441.60" y2="330.10" stroke="#111" stroke-width="0.6"/>
<line x1="382.44" y1="328.30" x2="382.44" y2="330.10" stroke="#111" stroke-width="0.6"/>
<line x1="377.16" y1="328.30" x2="377.16" y2="330.10" stroke="#111" stroke-width="0.6"/>
<line x1="385.08" y1="328.30" x2="385.08" y2="330.10" stroke="#111" stroke-width="0.6"/>
<line x1="374.52" y1="328.30" x2="374.52" y2="330.10" stroke="#111" stroke-width="0.6"/>
<line x1="387.72" y1="328.30" x2="387.72" y2="330.10" stroke="#111" stroke-width="0.6"/>
<line x1="371.88" y1="328.30" x2="371.88" y2="330.10" stroke="#111" stroke-width="0.6"/>
<line x1="390.36" y1="328.30" x2="390.36" y2="330.10" stroke="#111" stroke-width="0.6"/>
<line x1="369.24" y1="328.30" x2="369.24" y2="330.10" stroke="#111" stroke-width="0.6"/>
<line x1="393.00" y1="328.30" x2="393.00" y2="330.10" stroke="#111" stroke-width="0.6"/>
<line x1="366.60" y1="328.30" x2="366.60" y2="330.10" stroke="#111" stroke-width="0.6"/>
<line x1="395.64" y1="328.30" x2="395.64" y2="330.10" stroke="#111" stroke-width="0.6"/>
<line x1="363.96" y1="328.30" x2="363.96" y2="330.10" stroke="#111" stroke-width="0.6"/>
<line x1="398.28" y1="328.30" x2="398.28" y2="330.10" stroke="#111" stroke-width="0.6"/>
<line x1="361.32" y1="328.30" x2="361.32" y2="330.10" stroke="#111" stroke-width="0.6"/>
<line x1="400.92" y1="328.30" x2="400.92" y2="330.10" stroke="#111" stroke-width="0.6"/>
<line x1="358.68" y1="328.30" x2="358.68" y2="330.10" stroke="#111" stroke-width="0.6"/>
<line x1="403.56" y1="328.30" x2="403.56" y2="330.10" stroke="#111" stroke-width="0.6"/>
<line x1="356.04" y1="328.30" x2="356.04" y2="330.10" stroke="#111" stroke-width="0.6"/>
<line x1="380.68" y1="328.30" x2="380.68" y2="330.10" stroke="#111" stroke-width="0.6"/>
<line x1="378.92" y1="328.30" x2="378.92" y2="330.10" stroke="#111" stroke-width="0.6"/>
<line x1="381.56" y1="328.30" x2="381.56" y2="330.10" stroke="#111" stroke-width="0.6"/>
<line x1="378.04" y1="328.30" x2="378.04" y2="330.10" stroke="#111" stroke-width="0.6"/>
<line x1="382.44" y1="328.30" x2="382.44" y2="330.10" stroke="#111" stroke-width="0.6"/>
<line x1="377.16" y1="328.30" x2="377.16" y2="330.10" stroke="#111" stroke-width="0.6"/>
<line x1="355.00" y1="328.30" x2="355.00" y2="330.50" stroke="#111" stroke-width="0.7"/>
<line x1="379.80" y1="328.30" x2="379.80" y2="330.50" stroke="#111" stroke-width="0.7"/>
<line x1="406.20" y1="328.30" x2="406.20" y2="330.50" stroke="#111" stroke-width="0.7"/>
<line x1="443.30" y1="328.30" x2="443.30" y2="330.50" stroke="#111" stroke-width="0.7"/>
<text x="355.00" y="340.80" font-size="6.4" text-anchor="middle" style="color:#1e1e1e" fill="currentColor" stroke="currentColor" stroke-width="0.1">-10<tspan font-size="4.6" dy="-2">3</tspan></text>
<text x="379.80" y="340.80" font-size="6.4" text-anchor="middle" style="color:#1e1e1e" fill="currentColor" stroke="currentColor" stroke-width="0.1">0</text>
<text x="406.20" y="340.80" font-size="6.4" text-anchor="middle" style="color:#1e1e1e" fill="currentColor" stroke="currentColor" stroke-width="0.1">10<tspan font-size="4.6" dy="-2">3</tspan></text>
<text x="443.30" y="340.80" font-size="6.4" text-anchor="middle" style="color:#1e1e1e" fill="currentColor" stroke="currentColor" stroke-width="0.1">10<tspan font-size="4.6" dy="-2">4</tspan></text>
<text x="404.40" y="351.20" font-size="7.3" text-anchor="middle" style="color:#1e1e1e" fill="currentColor" stroke="currentColor" stroke-width="0.1" textLength="81.5" lengthAdjust="spacingAndGlyphs">Intracellular Notch1 BV421</text>
<text x="329.70" y="275.40" font-size="7.4" text-anchor="middle" style="color:#1e1e1e" fill="currentColor" stroke="currentColor" stroke-width="0.1" textLength="19" lengthAdjust="spacingAndGlyphs" transform="rotate(-90 329.7 275.4)">Modal</text>
<text x="400.70" y="229.20" font-size="4.9" style="color:#1e1e1e" fill="currentColor" stroke="currentColor" stroke-width="0.1" textLength="28.2" lengthAdjust="spacingAndGlyphs">Cd5<tspan font-size="3" dy="-1.8">-</tspan><tspan dy="1.8"> B cells</tspan></text>
<line x1="399.80" y1="228.30" x2="394.40" y2="233.80" stroke="#111" stroke-width="0.7"/>
<text x="423.00" y="274.00" font-size="4.9" style="color:#1e1e1e" fill="currentColor" stroke="currentColor" stroke-width="0.1" textLength="29.3" lengthAdjust="spacingAndGlyphs">Cd5<tspan font-size="3" dy="-1.8">+</tspan><tspan dy="1.8"> B cells</tspan></text>
<line x1="416.00" y1="272.30" x2="421.20" y2="272.30" stroke="#111" stroke-width="0.7"/>
<text x="7.30" y="379.60" font-size="11.8" style="color:#000" fill="currentColor" font-weight="bold">E</text>
<text x="45.30" y="409.60" font-size="6.5" style="color:#1e1e1e" fill="currentColor" stroke="currentColor" stroke-width="0.1" textLength="81" lengthAdjust="spacingAndGlyphs"><tspan font-style="italic" fill="#56627c">Cd19-Cre</tspan> <tspan style="color:#2f5ba6">Eμ-<tspan font-style="italic">TCL1</tspan></tspan> <tspan style="color:#c0143c">Eμ-<tspan font-style="italic">TCL1</tspan></tspan></text>
<text x="126.90" y="405.90" font-size="4.0" style="color:#c0143c" fill="currentColor" stroke="currentColor" stroke-width="0.05" textLength="9.8" lengthAdjust="spacingAndGlyphs">Akt-C</text>
<text x="90.40" y="419.60" font-size="6.5" text-anchor="middle" style="color:#1e1e1e" fill="currentColor" stroke="currentColor" stroke-width="0.1" textLength="19.7" lengthAdjust="spacingAndGlyphs">Spleen</text>
<line x1="34.50" y1="424.30" x2="146.00" y2="424.30" stroke="#111" stroke-width="1.0"/>
<clipPath id="cE"><rect x="35.5" y="427.6" width="110.1" height="191.69999999999993"/></clipPath>
<g clip-path="url(#cE)">
<line x1="35.50" y1="450.30" x2="145.60" y2="450.30" stroke="#c2c5cc" stroke-width="0.7"/>
<path d="M47.4,450.2 L48.2,450.1 L49.1,449.9 L49.9,449.5 L50.7,448.8 L51.6,447.6 L52.4,445.9 L53.3,443.5 L54.1,440.7 L55.0,437.6 L55.8,434.8 L56.7,432.7 L57.5,431.7 L58.4,432.1 L59.2,433.8 L60.1,436.4 L60.9,439.4 L61.8,442.4 L62.6,445.0 L63.4,447.0 L64.3,448.4 L65.1,449.3 L66.0,449.8 L66.8,450.1 L67.7,450.2 L68.5,450.3" fill="none" stroke="#6a707c" stroke-width="0.8"/>
<line x1="35.50" y1="460.04" x2="145.60" y2="460.04" stroke="#c2c5cc" stroke-width="0.7"/>
<path d="M35.5,460.0 L35.5,460.0 L47.4,460.0 L48.2,460.0 L49.1,459.8 L49.9,459.6 L50.7,459.2 L51.6,458.4 L52.4,457.2 L53.3,455.4 L54.1,453.0 L55.0,450.2 L55.8,447.1 L56.7,444.4 L57.5,442.3 L58.4,441.4 L59.2,441.7 L60.1,443.0 L60.9,445.0 L61.8,447.5 L62.6,450.0 L63.4,452.4 L64.3,454.3 L65.1,455.9 L66.0,457.0 L66.8,457.8 L67.7,458.4 L68.5,458.8 L69.4,459.1 L70.2,459.3 L71.1,459.5 L71.9,459.6 L72.8,459.7 L73.6,459.8 L74.5,459.9 L75.3,459.9 L76.2,460.0 L77.0,460.0 L145.6,460.0 L145.6,460.0 Z" fill="#a6a9b3" fill-opacity="0.9"/>
<path d="M47.4,460.0 L48.2,460.0 L49.1,459.8 L49.9,459.6 L50.7,459.2 L51.6,458.4 L52.4,457.2 L53.3,455.4 L54.1,453.0 L55.0,450.2 L55.8,447.1 L56.7,444.4 L57.5,442.3 L58.4,441.4 L59.2,441.7 L60.1,443.0 L60.9,445.0 L61.8,447.5 L62.6,450.0 L63.4,452.4 L64.3,454.3 L65.1,455.9 L66.0,457.0 L66.8,457.8 L67.7,458.4 L68.5,458.8 L69.4,459.1 L70.2,459.3 L71.1,459.5 L71.9,459.6 L72.8,459.7 L73.6,459.8 L74.5,459.9 L75.3,459.9 L76.2,460.0" fill="none" stroke="#50555f" stroke-width="0.8"/>
<line x1="35.50" y1="469.78" x2="145.60" y2="469.78" stroke="#c2c5cc" stroke-width="0.7"/>
<path d="M35.5,469.8 L35.5,469.8 L48.2,469.7 L49.1,469.7 L49.9,469.5 L50.7,469.2 L51.6,468.7 L52.4,467.8 L53.3,466.5 L54.1,464.6 L55.0,462.2 L55.8,459.4 L56.7,456.5 L57.5,453.8 L58.4,452.0 L59.2,451.2 L60.1,451.4 L60.9,452.5 L61.8,454.2 L62.6,456.3 L63.4,458.6 L64.3,460.8 L65.1,462.7 L66.0,464.3 L66.8,465.6 L67.7,466.5 L68.5,467.2 L69.4,467.7 L70.2,468.1 L71.1,468.3 L71.9,468.6 L72.8,468.8 L73.6,469.0 L74.5,469.1 L75.3,469.3 L76.2,469.4 L77.0,469.5 L77.8,469.5 L78.7,469.6 L79.5,469.7 L80.4,469.7 L81.2,469.7 L82.1,469.7 L145.6,469.8 L145.6,469.8 Z" fill="#767a86" fill-opacity="0.9"/>
<path d="M48.2,469.7 L49.1,469.7 L49.9,469.5 L50.7,469.2 L51.6,468.7 L52.4,467.8 L53.3,466.5 L54.1,464.6 L55.0,462.2 L55.8,459.4 L56.7,456.5 L57.5,453.8 L58.4,452.0 L59.2,451.2 L60.1,451.4 L60.9,452.5 L61.8,454.2 L62.6,456.3 L63.4,458.6 L64.3,460.8 L65.1,462.7 L66.0,464.3 L66.8,465.6 L67.7,466.5 L68.5,467.2 L69.4,467.7 L70.2,468.1 L71.1,468.3 L71.9,468.6 L72.8,468.8 L73.6,469.0 L74.5,469.1 L75.3,469.3 L76.2,469.4 L77.0,469.5 L77.8,469.5 L78.7,469.6 L79.5,469.7 L80.4,469.7 L81.2,469.7" fill="none" stroke="#50555f" stroke-width="0.8"/>
<line x1="35.50" y1="479.52" x2="145.60" y2="479.52" stroke="#b3bfdd" stroke-width="0.7"/>
<path d="M45.7,479.5 L46.5,479.4 L47.4,479.3 L48.2,479.0 L49.1,478.6 L49.9,477.7 L50.7,476.4 L51.6,474.5 L52.4,472.0 L53.3,469.0 L54.1,466.0 L55.0,463.3 L55.8,461.5 L56.7,460.9 L57.5,461.7 L58.4,463.7 L59.2,466.5 L60.1,469.5 L60.9,472.4 L61.8,474.9 L62.6,476.7 L63.4,477.9 L64.3,478.7 L65.1,479.1 L66.0,479.3 L66.8,479.4" fill="none" stroke="#4563a5" stroke-width="0.8"/>
<line x1="35.50" y1="489.26" x2="145.60" y2="489.26" stroke="#b3bfdd" stroke-width="0.7"/>
<path d="M35.5,489.3 L35.5,489.3 L46.5,489.2 L47.4,489.2 L48.2,489.1 L49.1,488.8 L49.9,488.4 L50.7,487.6 L51.6,486.3 L52.4,484.5 L53.3,482.1 L54.1,479.2 L55.0,476.2 L55.8,473.4 L56.7,471.5 L57.5,470.7 L58.4,471.0 L59.2,472.3 L60.1,474.4 L60.9,476.9 L61.8,479.4 L62.6,481.7 L63.4,483.7 L64.3,485.2 L65.1,486.3 L66.0,487.1 L66.8,487.6 L67.7,488.0 L68.5,488.3 L69.4,488.5 L70.2,488.7 L71.1,488.8 L71.9,489.0 L72.8,489.0 L73.6,489.1 L74.5,489.2 L75.3,489.2 L76.2,489.2 L145.6,489.3 L145.6,489.3 Z" fill="#8c97c6" fill-opacity="0.9"/>
<path d="M46.5,489.2 L47.4,489.2 L48.2,489.1 L49.1,488.8 L49.9,488.4 L50.7,487.6 L51.6,486.3 L52.4,484.5 L53.3,482.1 L54.1,479.2 L55.0,476.2 L55.8,473.4 L56.7,471.5 L57.5,470.7 L58.4,471.0 L59.2,472.3 L60.1,474.4 L60.9,476.9 L61.8,479.4 L62.6,481.7 L63.4,483.7 L64.3,485.2 L65.1,486.3 L66.0,487.1 L66.8,487.6 L67.7,488.0 L68.5,488.3 L69.4,488.5 L70.2,488.7 L71.1,488.8 L71.9,489.0 L72.8,489.0 L73.6,489.1 L74.5,489.2 L75.3,489.2" fill="none" stroke="#2a4585" stroke-width="0.8"/>
<line x1="35.50" y1="499.00" x2="145.60" y2="499.00" stroke="#b3bfdd" stroke-width="0.7"/>
<path d="M35.5,499.0 L35.5,499.0 L46.5,499.0 L47.4,498.9 L48.2,498.9 L49.1,498.7 L49.9,498.4 L50.7,497.8 L51.6,496.9 L52.4,495.4 L53.3,493.5 L54.1,490.9 L55.0,488.1 L55.8,485.2 L56.7,482.7 L57.5,481.0 L58.4,480.4 L59.2,480.8 L60.1,482.0 L60.9,483.8 L61.8,486.0 L62.6,488.2 L63.4,490.4 L64.3,492.3 L65.1,493.8 L66.0,495.0 L66.8,495.9 L67.7,496.5 L68.5,497.0 L69.4,497.3 L70.2,497.6 L71.1,497.8 L71.9,498.0 L72.8,498.2 L73.6,498.4 L74.5,498.5 L75.3,498.6 L76.2,498.7 L77.0,498.8 L77.8,498.8 L78.7,498.9 L79.5,498.9 L80.4,498.9 L81.2,499.0 L145.6,499.0 L145.6,499.0 Z" fill="#4f68a6" fill-opacity="0.9"/>
<path d="M47.4,498.9 L48.2,498.9 L49.1,498.7 L49.9,498.4 L50.7,497.8 L51.6,496.9 L52.4,495.4 L53.3,493.5 L54.1,490.9 L55.0,488.1 L55.8,485.2 L56.7,482.7 L57.5,481.0 L58.4,480.4 L59.2,480.8 L60.1,482.0 L60.9,483.8 L61.8,486.0 L62.6,488.2 L63.4,490.4 L64.3,492.3 L65.1,493.8 L66.0,495.0 L66.8,495.9 L67.7,496.5 L68.5,497.0 L69.4,497.3 L70.2,497.6 L71.1,497.8 L71.9,498.0 L72.8,498.2 L73.6,498.4 L74.5,498.5 L75.3,498.6 L76.2,498.7 L77.0,498.8 L77.8,498.8 L78.7,498.9 L79.5,498.9 L80.4,498.9" fill="none" stroke="#2a4585" stroke-width="0.8"/>
<line x1="35.50" y1="508.74" x2="145.60" y2="508.74" stroke="#e8aab4" stroke-width="0.7"/>
<path d="M45.7,508.7 L46.5,508.6 L47.4,508.4 L48.2,508.1 L49.1,507.5 L49.9,506.5 L50.7,505.0 L51.6,502.8 L52.4,500.1 L53.3,497.1 L54.1,494.1 L55.0,491.6 L55.8,490.2 L56.7,490.1 L57.5,491.4 L58.4,493.7 L59.2,496.7 L60.1,499.8 L60.9,502.5 L61.8,504.8 L62.6,506.4 L63.4,507.4 L64.3,508.1 L65.1,508.4 L66.0,508.6 L66.8,508.7" fill="none" stroke="#c4203f" stroke-width="0.8"/>
<line x1="35.50" y1="518.48" x2="145.60" y2="518.48" stroke="#e8aab4" stroke-width="0.7"/>
<path d="M35.5,518.5 L35.5,518.5 L47.4,518.4 L48.2,518.4 L49.1,518.2 L49.9,517.9 L50.7,517.3 L51.6,516.3 L52.4,514.9 L53.3,512.8 L54.1,510.2 L55.0,507.2 L55.8,504.2 L56.7,501.7 L57.5,500.2 L58.4,499.9 L59.2,500.6 L60.1,502.3 L60.9,504.6 L61.8,507.1 L62.6,509.6 L63.4,511.8 L64.3,513.6 L65.1,514.9 L66.0,515.9 L66.8,516.5 L67.7,517.0 L68.5,517.4 L69.4,517.6 L70.2,517.8 L71.1,518.0 L71.9,518.1 L72.8,518.2 L73.6,518.3 L74.5,518.4 L75.3,518.4 L76.2,518.4 L77.0,518.4 L145.6,518.5 L145.6,518.5 Z" fill="#de9c8c" fill-opacity="0.9"/>
<path d="M47.4,518.4 L48.2,518.4 L49.1,518.2 L49.9,517.9 L50.7,517.3 L51.6,516.3 L52.4,514.9 L53.3,512.8 L54.1,510.2 L55.0,507.2 L55.8,504.2 L56.7,501.7 L57.5,500.2 L58.4,499.9 L59.2,500.6 L60.1,502.3 L60.9,504.6 L61.8,507.1 L62.6,509.6 L63.4,511.8 L64.3,513.6 L65.1,514.9 L66.0,515.9 L66.8,516.5 L67.7,517.0 L68.5,517.4 L69.4,517.6 L70.2,517.8 L71.1,518.0 L71.9,518.1 L72.8,518.2 L73.6,518.3 L74.5,518.4 L75.3,518.4 L76.2,518.4" fill="none" stroke="#c0142f" stroke-width="0.8"/>
<line x1="35.50" y1="528.22" x2="145.60" y2="528.22" stroke="#e8aab4" stroke-width="0.7"/>
<path d="M35.5,528.2 L35.5,528.2 L46.5,528.2 L47.4,528.2 L48.2,528.1 L49.1,527.9 L49.9,527.6 L50.7,527.0 L51.6,526.1 L52.4,524.7 L53.3,522.7 L54.1,520.2 L55.0,517.3 L55.8,514.4 L56.7,511.9 L57.5,510.2 L58.4,509.6 L59.2,510.0 L60.1,511.2 L60.9,513.0 L61.8,515.2 L62.6,517.4 L63.4,519.6 L64.3,521.5 L65.1,523.0 L66.0,524.2 L66.8,525.1 L67.7,525.7 L68.5,526.2 L69.4,526.6 L70.2,526.8 L71.1,527.1 L71.9,527.3 L72.8,527.4 L73.6,527.6 L74.5,527.7 L75.3,527.8 L76.2,527.9 L77.0,528.0 L77.8,528.1 L78.7,528.1 L79.5,528.1 L80.4,528.2 L81.2,528.2 L145.6,528.2 L145.6,528.2 Z" fill="#cd5a55" fill-opacity="0.9"/>
<path d="M47.4,528.2 L48.2,528.1 L49.1,527.9 L49.9,527.6 L50.7,527.0 L51.6,526.1 L52.4,524.7 L53.3,522.7 L54.1,520.2 L55.0,517.3 L55.8,514.4 L56.7,511.9 L57.5,510.2 L58.4,509.6 L59.2,510.0 L60.1,511.2 L60.9,513.0 L61.8,515.2 L62.6,517.4 L63.4,519.6 L64.3,521.5 L65.1,523.0 L66.0,524.2 L66.8,525.1 L67.7,525.7 L68.5,526.2 L69.4,526.6 L70.2,526.8 L71.1,527.1 L71.9,527.3 L72.8,527.4 L73.6,527.6 L74.5,527.7 L75.3,527.8 L76.2,527.9 L77.0,528.0 L77.8,528.1 L78.7,528.1 L79.5,528.1 L80.4,528.2" fill="none" stroke="#c0142f" stroke-width="0.8"/>
<line x1="35.50" y1="537.96" x2="145.60" y2="537.96" stroke="#c2c5cc" stroke-width="0.7"/>
<path d="M46.5,537.9 L47.4,537.9 L48.2,537.8 L49.1,537.5 L49.9,537.0 L50.7,536.2 L51.6,534.9 L52.4,533.1 L53.3,530.6 L54.1,527.7 L55.0,524.6 L55.8,521.9 L56.7,520.0 L57.5,519.4 L58.4,520.1 L59.2,522.0 L60.1,524.7 L60.9,527.8 L61.8,530.7 L62.6,533.2 L63.4,535.0 L64.3,536.3 L65.1,537.1 L66.0,537.5 L66.8,537.8 L67.7,537.9 L68.5,537.9" fill="none" stroke="#6a707c" stroke-width="0.8"/>
<line x1="35.50" y1="547.70" x2="145.60" y2="547.70" stroke="#c2c5cc" stroke-width="0.7"/>
<path d="M35.5,547.7 L35.5,547.7 L47.4,547.7 L48.2,547.6 L49.1,547.5 L49.9,547.3 L50.7,546.9 L51.6,546.2 L52.4,545.0 L53.3,543.3 L54.1,541.0 L55.0,538.2 L55.8,535.1 L56.7,532.3 L57.5,530.2 L58.4,529.1 L59.2,529.3 L60.1,530.4 L60.9,532.4 L61.8,534.8 L62.6,537.3 L63.4,539.7 L64.3,541.8 L65.1,543.4 L66.0,544.5 L66.8,545.4 L67.7,546.0 L68.5,546.4 L69.4,546.7 L70.2,546.9 L71.1,547.1 L71.9,547.3 L72.8,547.4 L73.6,547.5 L74.5,547.5 L75.3,547.6 L76.2,547.6 L77.0,547.7 L145.6,547.7 L145.6,547.7 Z" fill="#a6a9b3" fill-opacity="0.9"/>
<path d="M48.2,547.6 L49.1,547.5 L49.9,547.3 L50.7,546.9 L51.6,546.2 L52.4,545.0 L53.3,543.3 L54.1,541.0 L55.0,538.2 L55.8,535.1 L56.7,532.3 L57.5,530.2 L58.4,529.1 L59.2,529.3 L60.1,530.4 L60.9,532.4 L61.8,534.8 L62.6,537.3 L63.4,539.7 L64.3,541.8 L65.1,543.4 L66.0,544.5 L66.8,545.4 L67.7,546.0 L68.5,546.4 L69.4,546.7 L70.2,546.9 L71.1,547.1 L71.9,547.3 L72.8,547.4 L73.6,547.5 L74.5,547.5 L75.3,547.6 L76.2,547.6" fill="none" stroke="#50555f" stroke-width="0.8"/>
<line x1="35.50" y1="557.44" x2="145.60" y2="557.44" stroke="#c2c5cc" stroke-width="0.7"/>
<path d="M35.5,557.4 L35.5,557.4 L47.4,557.4 L48.2,557.4 L49.1,557.3 L49.9,557.1 L50.7,556.8 L51.6,556.2 L52.4,555.2 L53.3,553.8 L54.1,551.8 L55.0,549.2 L55.8,546.4 L56.7,543.5 L57.5,541.0 L58.4,539.4 L59.2,538.8 L60.1,539.3 L60.9,540.5 L61.8,542.3 L62.6,544.5 L63.4,546.8 L64.3,548.9 L65.1,550.8 L66.0,552.3 L66.8,553.5 L67.7,554.4 L68.5,555.0 L69.4,555.4 L70.2,555.8 L71.1,556.1 L71.9,556.3 L72.8,556.5 L73.6,556.7 L74.5,556.8 L75.3,556.9 L76.2,557.1 L77.0,557.1 L77.8,557.2 L78.7,557.3 L79.5,557.3 L80.4,557.4 L81.2,557.4 L82.1,557.4 L145.6,557.4 L145.6,557.4 Z" fill="#767a86" fill-opacity="0.9"/>
<path d="M48.2,557.4 L49.1,557.3 L49.9,557.1 L50.7,556.8 L51.6,556.2 L52.4,555.2 L53.3,553.8 L54.1,551.8 L55.0,549.2 L55.8,546.4 L56.7,543.5 L57.5,541.0 L58.4,539.4 L59.2,538.8 L60.1,539.3 L60.9,540.5 L61.8,542.3 L62.6,544.5 L63.4,546.8 L64.3,548.9 L65.1,550.8 L66.0,552.3 L66.8,553.5 L67.7,554.4 L68.5,555.0 L69.4,555.4 L70.2,555.8 L71.1,556.1 L71.9,556.3 L72.8,556.5 L73.6,556.7 L74.5,556.8 L75.3,556.9 L76.2,557.1 L77.0,557.1 L77.8,557.2 L78.7,557.3 L79.5,557.3 L80.4,557.4 L81.2,557.4" fill="none" stroke="#50555f" stroke-width="0.8"/>
<line x1="35.50" y1="567.18" x2="145.60" y2="567.18" stroke="#b3bfdd" stroke-width="0.7"/>
<path d="M46.5,567.1 L47.4,567.0 L48.2,566.8 L49.1,566.5 L49.9,565.8 L50.7,564.7 L51.6,563.1 L52.4,560.8 L53.3,558.1 L54.1,555.0 L55.0,552.1 L55.8,549.8 L56.7,548.6 L57.5,548.7 L58.4,550.2 L59.2,552.7 L60.1,555.7 L60.9,558.7 L61.8,561.4 L62.6,563.5 L63.4,565.0 L64.3,566.0 L65.1,566.6 L66.0,566.9 L66.8,567.1 L67.7,567.1" fill="none" stroke="#4563a5" stroke-width="0.8"/>
<line x1="35.50" y1="576.92" x2="145.60" y2="576.92" stroke="#b3bfdd" stroke-width="0.7"/>
<path d="M35.5,576.9 L35.5,576.9 L46.5,576.9 L47.4,576.8 L48.2,576.7 L49.1,576.4 L49.9,575.8 L50.7,574.9 L51.6,573.4 L52.4,571.4 L53.3,568.8 L54.1,565.8 L55.0,562.8 L55.8,560.3 L56.7,558.7 L57.5,558.3 L58.4,559.0 L59.2,560.7 L60.1,562.9 L60.9,565.4 L61.8,567.9 L62.6,570.1 L63.4,571.9 L64.3,573.3 L65.1,574.3 L66.0,575.0 L66.8,575.4 L67.7,575.8 L68.5,576.1 L69.4,576.3 L70.2,576.4 L71.1,576.5 L71.9,576.6 L72.8,576.7 L73.6,576.8 L74.5,576.8 L75.3,576.9 L76.2,576.9 L145.6,576.9 L145.6,576.9 Z" fill="#8c97c6" fill-opacity="0.9"/>
<path d="M46.5,576.9 L47.4,576.8 L48.2,576.7 L49.1,576.4 L49.9,575.8 L50.7,574.9 L51.6,573.4 L52.4,571.4 L53.3,568.8 L54.1,565.8 L55.0,562.8 L55.8,560.3 L56.7,558.7 L57.5,558.3 L58.4,559.0 L59.2,560.7 L60.1,562.9 L60.9,565.4 L61.8,567.9 L62.6,570.1 L63.4,571.9 L64.3,573.3 L65.1,574.3 L66.0,575.0 L66.8,575.4 L67.7,575.8 L68.5,576.1 L69.4,576.3 L70.2,576.4 L71.1,576.5 L71.9,576.6 L72.8,576.7 L73.6,576.8 L74.5,576.8 L75.3,576.9" fill="none" stroke="#2a4585" stroke-width="0.8"/>
<line x1="35.50" y1="586.66" x2="145.60" y2="586.66" stroke="#b3bfdd" stroke-width="0.7"/>
<path d="M35.5,586.7 L35.5,586.7 L47.4,586.6 L48.2,586.6 L49.1,586.5 L49.9,586.2 L50.7,585.8 L51.6,585.1 L52.4,584.0 L53.3,582.3 L54.1,580.1 L55.0,577.4 L55.8,574.5 L56.7,571.7 L57.5,569.5 L58.4,568.2 L59.2,568.1 L60.1,568.8 L60.9,570.3 L61.8,572.3 L62.6,574.5 L63.4,576.7 L64.3,578.8 L65.1,580.6 L66.0,582.0 L66.8,583.0 L67.7,583.8 L68.5,584.4 L69.4,584.8 L70.2,585.1 L71.1,585.4 L71.9,585.6 L72.8,585.8 L73.6,585.9 L74.5,586.1 L75.3,586.2 L76.2,586.3 L77.0,586.4 L77.8,586.5 L78.7,586.5 L79.5,586.6 L80.4,586.6 L81.2,586.6 L145.6,586.7 L145.6,586.7 Z" fill="#4f68a6" fill-opacity="0.9"/>
<path d="M47.4,586.6 L48.2,586.6 L49.1,586.5 L49.9,586.2 L50.7,585.8 L51.6,585.1 L52.4,584.0 L53.3,582.3 L54.1,580.1 L55.0,577.4 L55.8,574.5 L56.7,571.7 L57.5,569.5 L58.4,568.2 L59.2,568.1 L60.1,568.8 L60.9,570.3 L61.8,572.3 L62.6,574.5 L63.4,576.7 L64.3,578.8 L65.1,580.6 L66.0,582.0 L66.8,583.0 L67.7,583.8 L68.5,584.4 L69.4,584.8 L70.2,585.1 L71.1,585.4 L71.9,585.6 L72.8,585.8 L73.6,585.9 L74.5,586.1 L75.3,586.2 L76.2,586.3 L77.0,586.4 L77.8,586.5 L78.7,586.5 L79.5,586.6 L80.4,586.6" fill="none" stroke="#2a4585" stroke-width="0.8"/>
<line x1="35.50" y1="596.40" x2="145.60" y2="596.40" stroke="#e8aab4" stroke-width="0.7"/>
<path d="M39.7,596.4 L40.3,596.3 L40.9,596.0 L41.5,595.7 L42.1,595.1 L42.7,595.3 L43.3,595.0 L43.9,594.8 L44.5,594.0 L45.1,593.4 L45.7,592.8 L46.3,592.5 L46.9,592.0 L47.5,591.4 L48.1,590.4 L48.7,588.5 L49.3,586.5 L49.9,584.4 L50.5,582.2 L51.1,581.2 L51.7,580.3 L52.3,579.5 L52.9,578.8 L53.5,578.5 L54.1,577.6 L54.7,577.5 L55.3,577.2 L55.9,578.0 L56.5,579.4 L57.1,581.1 L57.7,582.5 L58.3,583.9 L58.9,584.6 L59.5,585.8 L60.1,586.9 L60.7,587.6 L61.3,588.4 L61.9,589.1 L62.5,589.7 L63.1,590.7 L63.7,590.8 L64.3,591.7 L64.9,592.1 L65.5,591.9 L66.1,592.3 L66.7,592.2 L67.3,592.7 L67.9,592.3 L68.5,592.3 L69.1,592.6 L69.7,592.6 L70.3,592.9 L70.9,592.9 L71.5,593.2 L72.1,593.4 L72.7,593.1 L73.3,593.4 L73.9,593.3 L74.5,593.9 L75.1,594.0 L75.7,593.9 L76.3,594.0 L76.9,594.5 L77.5,594.5 L78.1,594.2 L78.7,594.6 L79.3,594.6 L79.9,594.0 L80.5,594.0 L81.1,594.0 L81.7,594.5 L82.3,594.0 L82.9,594.5 L83.5,594.2 L84.1,594.6 L84.7,594.1 L85.3,594.7 L85.9,594.8 L86.5,594.7 L87.1,594.4 L87.7,594.9 L88.3,594.4 L88.9,594.3 L89.5,594.3 L90.1,594.3 L90.7,594.5 L91.3,594.6 L91.9,594.6 L92.5,594.9 L93.1,594.7 L93.7,594.6 L94.3,594.7 L94.9,594.5 L95.5,594.6 L96.1,594.9 L96.7,594.5 L97.3,594.9 L97.9,594.8 L98.5,595.1 L99.1,594.7 L99.7,595.2 L100.3,595.1 L100.9,594.6 L101.5,594.6 L102.1,594.9 L102.7,594.7 L103.3,594.9 L103.9,595.3 L104.5,595.2 L105.1,594.9 L105.7,594.7 L106.3,595.0 L106.9,594.6 L107.5,594.7 L108.1,595.4 L108.7,595.3 L109.3,594.9 L109.9,594.7 L110.5,595.0 L111.1,594.9 L111.7,595.0 L112.3,595.0 L112.9,595.4 L113.5,594.9 L114.1,594.9 L114.7,594.9 L115.3,594.8 L115.9,595.0 L116.5,595.5 L117.1,595.1 L117.7,595.6 L118.3,595.0 L118.9,594.9 L119.5,595.5 L120.1,595.6 L120.7,595.0 L121.3,595.0 L121.9,595.5 L122.5,595.1 L123.1,595.2 L123.7,595.7 L124.3,595.3 L124.9,595.0 L125.5,595.5 L126.1,595.8 L126.7,595.8 L127.3,595.3 L127.9,595.1 L128.5,595.7 L129.1,595.3 L129.7,595.4 L130.3,595.4 L130.9,595.4 L131.5,595.5 L132.1,595.5 L132.7,595.5 L133.3,595.5 L133.9,595.5 L134.5,595.5 L135.1,595.5 L135.7,595.5 L136.3,595.5 L136.9,595.5 L137.5,595.5 L138.1,595.5 L138.7,595.6 L139.3,595.6 L139.9,595.6 L140.5,595.6 L141.1,595.6 L141.7,595.6 L142.3,595.6 L142.9,595.6 L143.5,595.6 L144.1,595.6 L144.7,595.6 L145.3,595.6" fill="none" stroke="#c4203f" stroke-width="0.8"/>
<line x1="35.50" y1="606.14" x2="145.60" y2="606.14" stroke="#e8aab4" stroke-width="0.7"/>
<path d="M35.5,606.1 L35.5,606.1 L36.1,606.1 L36.7,606.1 L37.3,606.1 L37.9,606.1 L38.5,606.1 L39.1,606.1 L39.7,606.1 L40.3,606.1 L40.9,606.1 L41.5,606.1 L42.1,606.1 L42.7,606.1 L43.3,606.1 L43.9,606.1 L44.5,606.1 L45.1,606.1 L45.7,606.1 L46.3,606.1 L46.9,605.9 L47.5,605.8 L48.1,605.6 L48.7,605.4 L49.3,605.0 L49.9,604.5 L50.5,603.2 L51.1,602.0 L51.7,599.8 L52.3,597.9 L52.9,596.6 L53.5,595.4 L54.1,594.4 L54.7,592.7 L55.3,591.1 L55.9,589.8 L56.5,589.4 L57.1,589.0 L57.7,588.7 L58.3,588.2 L58.9,588.5 L59.5,588.8 L60.1,588.5 L60.7,588.7 L61.3,588.7 L61.9,589.4 L62.5,589.9 L63.1,590.8 L63.7,591.5 L64.3,592.4 L64.9,592.6 L65.5,593.0 L66.1,593.1 L66.7,593.4 L67.3,593.4 L67.9,593.8 L68.5,594.0 L69.1,594.1 L69.7,594.0 L70.3,594.3 L70.9,594.1 L71.5,594.3 L72.1,594.7 L72.7,594.7 L73.3,594.8 L73.9,595.4 L74.5,595.2 L75.1,595.5 L75.7,595.6 L76.3,595.6 L76.9,595.4 L77.5,595.6 L78.1,596.0 L78.7,596.3 L79.3,595.9 L79.9,596.2 L80.5,596.6 L81.1,596.5 L81.7,596.8 L82.3,596.3 L82.9,597.0 L83.5,597.0 L84.1,597.5 L84.7,597.0 L85.3,597.4 L85.9,597.9 L86.5,597.6 L87.1,597.5 L87.7,597.9 L88.3,597.9 L88.9,597.7 L89.5,598.2 L90.1,598.2 L90.7,598.1 L91.3,598.3 L91.9,598.6 L92.5,598.8 L93.1,598.8 L93.7,598.8 L94.3,599.0 L94.9,599.5 L95.5,599.5 L96.1,599.5 L96.7,599.8 L97.3,599.5 L97.9,599.9 L98.5,600.1 L99.1,600.3 L99.7,600.6 L100.3,600.4 L100.9,601.0 L101.5,601.5 L102.1,601.2 L102.7,601.4 L103.3,602.1 L103.9,602.3 L104.5,602.6 L105.1,602.6 L105.7,602.9 L106.3,603.4 L106.9,603.3 L107.5,603.9 L108.1,604.0 L108.7,604.2 L109.3,604.4 L109.9,604.6 L110.5,604.9 L111.1,605.4 L111.7,605.3 L112.3,605.5 L112.9,605.6 L113.5,605.8 L114.1,605.9 L114.7,606.1 L115.3,606.1 L115.9,606.1 L116.5,606.1 L117.1,606.1 L117.7,606.1 L118.3,606.1 L118.9,606.1 L119.5,606.1 L120.1,606.1 L120.7,606.1 L121.3,606.1 L121.9,606.1 L122.5,606.1 L123.1,606.1 L123.7,606.1 L124.3,606.1 L124.9,606.1 L125.5,606.1 L126.1,606.1 L126.7,606.1 L127.3,606.1 L127.9,606.1 L128.5,606.1 L129.1,606.1 L129.7,606.1 L130.3,606.1 L130.9,606.1 L131.5,606.1 L132.1,606.1 L132.7,606.1 L133.3,606.1 L133.9,606.1 L134.5,606.1 L135.1,606.1 L135.7,606.1 L136.3,606.1 L136.9,606.1 L137.5,606.1 L138.1,606.1 L138.7,606.1 L139.3,606.1 L139.9,606.1 L140.5,606.1 L141.1,606.1 L141.7,606.1 L142.3,606.1 L142.9,606.1 L143.5,606.1 L144.1,606.1 L144.7,606.1 L145.3,606.1 L145.6,606.1 Z" fill="#de9c8c" fill-opacity="0.9"/>
<path d="M46.3,606.1 L46.9,605.9 L47.5,605.8 L48.1,605.6 L48.7,605.4 L49.3,605.0 L49.9,604.5 L50.5,603.2 L51.1,602.0 L51.7,599.8 L52.3,597.9 L52.9,596.6 L53.5,595.4 L54.1,594.4 L54.7,592.7 L55.3,591.1 L55.9,589.8 L56.5,589.4 L57.1,589.0 L57.7,588.7 L58.3,588.2 L58.9,588.5 L59.5,588.8 L60.1,588.5 L60.7,588.7 L61.3,588.7 L61.9,589.4 L62.5,589.9 L63.1,590.8 L63.7,591.5 L64.3,592.4 L64.9,592.6 L65.5,593.0 L66.1,593.1 L66.7,593.4 L67.3,593.4 L67.9,593.8 L68.5,594.0 L69.1,594.1 L69.7,594.0 L70.3,594.3 L70.9,594.1 L71.5,594.3 L72.1,594.7 L72.7,594.7 L73.3,594.8 L73.9,595.4 L74.5,595.2 L75.1,595.5 L75.7,595.6 L76.3,595.6 L76.9,595.4 L77.5,595.6 L78.1,596.0 L78.7,596.3 L79.3,595.9 L79.9,596.2 L80.5,596.6 L81.1,596.5 L81.7,596.8 L82.3,596.3 L82.9,597.0 L83.5,597.0 L84.1,597.5 L84.7,597.0 L85.3,597.4 L85.9,597.9 L86.5,597.6 L87.1,597.5 L87.7,597.9 L88.3,597.9 L88.9,597.7 L89.5,598.2 L90.1,598.2 L90.7,598.1 L91.3,598.3 L91.9,598.6 L92.5,598.8 L93.1,598.8 L93.7,598.8 L94.3,599.0 L94.9,599.5 L95.5,599.5 L96.1,599.5 L96.7,599.8 L97.3,599.5 L97.9,599.9 L98.5,600.1 L99.1,600.3 L99.7,600.6 L100.3,600.4 L100.9,601.0 L101.5,601.5 L102.1,601.2 L102.7,601.4 L103.3,602.1 L103.9,602.3 L104.5,602.6 L105.1,602.6 L105.7,602.9 L106.3,603.4 L106.9,603.3 L107.5,603.9 L108.1,604.0 L108.7,604.2 L109.3,604.4 L109.9,604.6 L110.5,604.9 L111.1,605.4 L111.7,605.3 L112.3,605.5 L112.9,605.6 L113.5,605.8 L114.1,605.9 L114.7,606.1" fill="none" stroke="#c0142f" stroke-width="0.8"/>
<line x1="35.50" y1="615.88" x2="145.60" y2="615.88" stroke="#e8aab4" stroke-width="0.7"/>
<path d="M35.5,615.9 L35.5,615.9 L36.1,615.9 L36.7,615.9 L37.3,615.9 L37.9,615.9 L38.5,615.9 L39.1,615.9 L39.7,615.9 L40.3,615.9 L40.9,615.9 L41.5,615.9 L42.1,615.9 L42.7,615.9 L43.3,615.9 L43.9,615.9 L44.5,615.9 L45.1,615.8 L45.7,615.7 L46.3,615.5 L46.9,615.2 L47.5,615.0 L48.1,614.5 L48.7,613.6 L49.3,612.6 L49.9,611.3 L50.5,610.2 L51.1,609.0 L51.7,608.1 L52.3,607.2 L52.9,605.8 L53.5,604.4 L54.1,602.5 L54.7,601.3 L55.3,600.6 L55.9,600.1 L56.5,599.5 L57.1,599.0 L57.7,598.3 L58.3,598.1 L58.9,598.4 L59.5,598.9 L60.1,599.4 L60.7,600.1 L61.3,600.9 L61.9,601.9 L62.5,602.9 L63.1,603.8 L63.7,604.2 L64.3,604.5 L64.9,605.1 L65.5,605.8 L66.1,606.4 L66.7,607.0 L67.3,607.5 L67.9,608.0 L68.5,608.4 L69.1,608.6 L69.7,608.7 L70.3,608.9 L70.9,609.1 L71.5,609.6 L72.1,609.7 L72.7,609.9 L73.3,610.2 L73.9,610.6 L74.5,610.9 L75.1,611.0 L75.7,611.2 L76.3,611.6 L76.9,611.8 L77.5,612.0 L78.1,612.1 L78.7,612.3 L79.3,612.3 L79.9,612.5 L80.5,612.5 L81.1,612.6 L81.7,613.0 L82.3,613.0 L82.9,613.2 L83.5,613.5 L84.1,613.6 L84.7,613.5 L85.3,613.8 L85.9,614.0 L86.5,614.1 L87.1,614.1 L87.7,614.1 L88.3,614.3 L88.9,614.3 L89.5,614.4 L90.1,614.3 L90.7,614.5 L91.3,614.4 L91.9,614.4 L92.5,614.5 L93.1,614.7 L93.7,614.7 L94.3,614.7 L94.9,614.8 L95.5,614.7 L96.1,614.9 L96.7,615.0 L97.3,615.0 L97.9,615.0 L98.5,615.0 L99.1,615.0 L99.7,615.0 L100.3,615.1 L100.9,615.1 L101.5,615.1 L102.1,615.2 L102.7,615.2 L103.3,615.2 L103.9,615.3 L104.5,615.3 L105.1,615.3 L105.7,615.4 L106.3,615.4 L106.9,615.4 L107.5,615.4 L108.1,615.5 L108.7,615.5 L109.3,615.5 L109.9,615.5 L110.5,615.5 L111.1,615.5 L111.7,615.5 L112.3,615.6 L112.9,615.6 L113.5,615.6 L114.1,615.6 L114.7,615.6 L115.3,615.6 L115.9,615.7 L116.5,615.7 L117.1,615.7 L117.7,615.7 L118.3,615.7 L118.9,615.7 L119.5,615.8 L120.1,615.8 L120.7,615.8 L121.3,615.8 L121.9,615.8 L122.5,615.8 L123.1,615.8 L123.7,615.9 L124.3,615.9 L124.9,615.9 L125.5,615.9 L126.1,615.9 L126.7,615.9 L127.3,615.9 L127.9,615.9 L128.5,615.9 L129.1,615.9 L129.7,615.9 L130.3,615.9 L130.9,615.9 L131.5,615.9 L132.1,615.9 L132.7,615.9 L133.3,615.9 L133.9,615.9 L134.5,615.9 L135.1,615.9 L135.7,615.9 L136.3,615.9 L136.9,615.9 L137.5,615.9 L138.1,615.9 L138.7,615.9 L139.3,615.9 L139.9,615.9 L140.5,615.9 L141.1,615.9 L141.7,615.9 L142.3,615.9 L142.9,615.9 L143.5,615.9 L144.1,615.9 L144.7,615.9 L145.3,615.9 L145.6,615.9 Z" fill="#cd5a55" fill-opacity="0.9"/>
<path d="M45.1,615.8 L45.7,615.7 L46.3,615.5 L46.9,615.2 L47.5,615.0 L48.1,614.5 L48.7,613.6 L49.3,612.6 L49.9,611.3 L50.5,610.2 L51.1,609.0 L51.7,608.1 L52.3,607.2 L52.9,605.8 L53.5,604.4 L54.1,602.5 L54.7,601.3 L55.3,600.6 L55.9,600.1 L56.5,599.5 L57.1,599.0 L57.7,598.3 L58.3,598.1 L58.9,598.4 L59.5,598.9 L60.1,599.4 L60.7,600.1 L61.3,600.9 L61.9,601.9 L62.5,602.9 L63.1,603.8 L63.7,604.2 L64.3,604.5 L64.9,605.1 L65.5,605.8 L66.1,606.4 L66.7,607.0 L67.3,607.5 L67.9,608.0 L68.5,608.4 L69.1,608.6 L69.7,608.7 L70.3,608.9 L70.9,609.1 L71.5,609.6 L72.1,609.7 L72.7,609.9 L73.3,610.2 L73.9,610.6 L74.5,610.9 L75.1,611.0 L75.7,611.2 L76.3,611.6 L76.9,611.8 L77.5,612.0 L78.1,612.1 L78.7,612.3 L79.3,612.3 L79.9,612.5 L80.5,612.5 L81.1,612.6 L81.7,613.0 L82.3,613.0 L82.9,613.2 L83.5,613.5 L84.1,613.6 L84.7,613.5 L85.3,613.8 L85.9,614.0 L86.5,614.1 L87.1,614.1 L87.7,614.1 L88.3,614.3 L88.9,614.3 L89.5,614.4 L90.1,614.3 L90.7,614.5 L91.3,614.4 L91.9,614.4 L92.5,614.5 L93.1,614.7 L93.7,614.7 L94.3,614.7 L94.9,614.8 L95.5,614.7 L96.1,614.9 L96.7,615.0 L97.3,615.0 L97.9,615.0 L98.5,615.0 L99.1,615.0 L99.7,615.0 L100.3,615.1 L100.9,615.1 L101.5,615.1 L102.1,615.2 L102.7,615.2 L103.3,615.2 L103.9,615.3 L104.5,615.3 L105.1,615.3 L105.7,615.4 L106.3,615.4 L106.9,615.4 L107.5,615.4 L108.1,615.5 L108.7,615.5 L109.3,615.5 L109.9,615.5 L110.5,615.5 L111.1,615.5 L111.7,615.5 L112.3,615.6 L112.9,615.6 L113.5,615.6 L114.1,615.6 L114.7,615.6 L115.3,615.6 L115.9,615.7 L116.5,615.7 L117.1,615.7 L117.7,615.7 L118.3,615.7 L118.9,615.7 L119.5,615.8 L120.1,615.8 L120.7,615.8 L121.3,615.8" fill="none" stroke="#c0142f" stroke-width="0.8"/>
</g>
<rect x="35.5" y="427.6" width="110.1" height="191.69999999999993" fill="none" stroke="#111" stroke-width="1.0"/>
<line x1="35.50" y1="619.30" x2="145.60" y2="619.30" stroke="#111" stroke-width="1.1"/>
<line x1="101.53" y1="619.30" x2="101.53" y2="621.10" stroke="#111" stroke-width="0.6"/>
<line x1="131.53" y1="619.30" x2="131.53" y2="621.10" stroke="#111" stroke-width="0.6"/>
<line x1="106.81" y1="619.30" x2="106.81" y2="621.10" stroke="#111" stroke-width="0.6"/>
<line x1="136.81" y1="619.30" x2="136.81" y2="621.10" stroke="#111" stroke-width="0.6"/>
<line x1="110.56" y1="619.30" x2="110.56" y2="621.10" stroke="#111" stroke-width="0.6"/>
<line x1="140.56" y1="619.30" x2="140.56" y2="621.10" stroke="#111" stroke-width="0.6"/>
<line x1="113.47" y1="619.30" x2="113.47" y2="621.10" stroke="#111" stroke-width="0.6"/>
<line x1="143.47" y1="619.30" x2="143.47" y2="621.10" stroke="#111" stroke-width="0.6"/>
<line x1="115.84" y1="619.30" x2="115.84" y2="621.10" stroke="#111" stroke-width="0.6"/>
<line x1="117.85" y1="619.30" x2="117.85" y2="621.10" stroke="#111" stroke-width="0.6"/>
<line x1="119.59" y1="619.30" x2="119.59" y2="621.10" stroke="#111" stroke-width="0.6"/>
<line x1="121.13" y1="619.30" x2="121.13" y2="621.10" stroke="#111" stroke-width="0.6"/>
<line x1="59.88" y1="619.30" x2="59.88" y2="621.10" stroke="#111" stroke-width="0.6"/>
<line x1="52.62" y1="619.30" x2="52.62" y2="621.10" stroke="#111" stroke-width="0.6"/>
<line x1="63.50" y1="619.30" x2="63.50" y2="621.10" stroke="#111" stroke-width="0.6"/>
<line x1="49.00" y1="619.30" x2="49.00" y2="621.10" stroke="#111" stroke-width="0.6"/>
<line x1="67.12" y1="619.30" x2="67.12" y2="621.10" stroke="#111" stroke-width="0.6"/>
<line x1="45.38" y1="619.30" x2="45.38" y2="621.10" stroke="#111" stroke-width="0.6"/>
<line x1="70.75" y1="619.30" x2="70.75" y2="621.10" stroke="#111" stroke-width="0.6"/>
<line x1="41.75" y1="619.30" x2="41.75" y2="621.10" stroke="#111" stroke-width="0.6"/>
<line x1="74.38" y1="619.30" x2="74.38" y2="621.10" stroke="#111" stroke-width="0.6"/>
<line x1="38.12" y1="619.30" x2="38.12" y2="621.10" stroke="#111" stroke-width="0.6"/>
<line x1="78.00" y1="619.30" x2="78.00" y2="621.10" stroke="#111" stroke-width="0.6"/>
<line x1="81.62" y1="619.30" x2="81.62" y2="621.10" stroke="#111" stroke-width="0.6"/>
<line x1="85.25" y1="619.30" x2="85.25" y2="621.10" stroke="#111" stroke-width="0.6"/>
<line x1="88.88" y1="619.30" x2="88.88" y2="621.10" stroke="#111" stroke-width="0.6"/>
<line x1="57.46" y1="619.30" x2="57.46" y2="621.10" stroke="#111" stroke-width="0.6"/>
<line x1="55.04" y1="619.30" x2="55.04" y2="621.10" stroke="#111" stroke-width="0.6"/>
<line x1="58.67" y1="619.30" x2="58.67" y2="621.10" stroke="#111" stroke-width="0.6"/>
<line x1="53.83" y1="619.30" x2="53.83" y2="621.10" stroke="#111" stroke-width="0.6"/>
<line x1="59.88" y1="619.30" x2="59.88" y2="621.10" stroke="#111" stroke-width="0.6"/>
<line x1="52.62" y1="619.30" x2="52.62" y2="621.10" stroke="#111" stroke-width="0.6"/>
<line x1="56.25" y1="619.30" x2="56.25" y2="621.50" stroke="#111" stroke-width="0.7"/>
<line x1="92.50" y1="619.30" x2="92.50" y2="621.50" stroke="#111" stroke-width="0.7"/>
<line x1="122.50" y1="619.30" x2="122.50" y2="621.50" stroke="#111" stroke-width="0.7"/>
<text x="56.25" y="630.80" font-size="6.4" text-anchor="middle" style="color:#1e1e1e" fill="currentColor" stroke="currentColor" stroke-width="0.1">0</text>
<text x="92.50" y="630.80" font-size="6.4" text-anchor="middle" style="color:#1e1e1e" fill="currentColor" stroke="currentColor" stroke-width="0.1">10<tspan font-size="4.6" dy="-2">3</tspan></text>
<text x="122.50" y="630.80" font-size="6.4" text-anchor="middle" style="color:#1e1e1e" fill="currentColor" stroke="currentColor" stroke-width="0.1">10<tspan font-size="4.6" dy="-2">4</tspan></text>
<text x="90.00" y="643.30" font-size="7.2" text-anchor="middle" style="color:#1e1e1e" fill="currentColor" stroke="currentColor" stroke-width="0.1" textLength="23" lengthAdjust="spacingAndGlyphs">Dll1 PE</text>
<text x="141.50" y="448.00" font-size="4.9" text-anchor="end" style="color:#1e1e1e" fill="currentColor" stroke="currentColor" stroke-width="0.1" textLength="15.5" lengthAdjust="spacingAndGlyphs">B cells</text>
<text x="141.50" y="457.60" font-size="4.9" text-anchor="end" style="color:#1e1e1e" fill="currentColor" stroke="currentColor" stroke-width="0.1" textLength="15.5" lengthAdjust="spacingAndGlyphs">T cells</text>
<text x="141.50" y="467.30" font-size="4.9" text-anchor="end" style="color:#1e1e1e" fill="currentColor" stroke="currentColor" stroke-width="0.1" textLength="32.7" lengthAdjust="spacingAndGlyphs">Macrophages</text>
<text x="141.50" y="594.20" font-size="4.9" text-anchor="end" style="color:#1e1e1e" fill="currentColor" stroke="currentColor" stroke-width="0.1" textLength="15.5" lengthAdjust="spacingAndGlyphs">B cells</text>
<text x="141.50" y="603.90" font-size="4.9" text-anchor="end" style="color:#1e1e1e" fill="currentColor" stroke="currentColor" stroke-width="0.1" textLength="15.5" lengthAdjust="spacingAndGlyphs">T cells</text>
<text x="141.50" y="613.60" font-size="4.9" text-anchor="end" style="color:#1e1e1e" fill="currentColor" stroke="currentColor" stroke-width="0.1" textLength="32.7" lengthAdjust="spacingAndGlyphs">Macrophages</text>
<line x1="16.60" y1="448.40" x2="16.60" y2="528.40" stroke="#444" stroke-width="1.1"/>
<line x1="16.60" y1="537.60" x2="16.60" y2="618.00" stroke="#444" stroke-width="1.1"/>
<text x="13.40" y="489.00" font-size="6.6" text-anchor="middle" style="color:#1e1e1e" fill="currentColor" stroke="currentColor" stroke-width="0.1" textLength="17" lengthAdjust="spacingAndGlyphs" transform="rotate(-90 13.4 489)">3-4 m</text>
<text x="13.40" y="577.00" font-size="6.6" text-anchor="middle" style="color:#1e1e1e" fill="currentColor" stroke="currentColor" stroke-width="0.1" textLength="17" lengthAdjust="spacingAndGlyphs" transform="rotate(-90 13.4 577)">7-8 m</text>
<line x1="32.50" y1="448.40" x2="32.50" y2="471.40" stroke="#333" stroke-width="1.1"/>
<text x="28.60" y="459.90" font-size="5.4" text-anchor="middle" style="color:#1e1e1e" fill="currentColor" stroke="currentColor" stroke-width="0.1" textLength="23" lengthAdjust="spacingAndGlyphs" transform="rotate(-90 28.6 459.9)"><tspan font-style="italic">Cd19-Cre</tspan></text>
<line x1="32.50" y1="478.30" x2="32.50" y2="500.50" stroke="#333" stroke-width="1.1"/>
<text x="28.60" y="489.40" font-size="5.4" text-anchor="middle" style="color:#1e1e1e" fill="currentColor" stroke="currentColor" stroke-width="0.1" textLength="21" lengthAdjust="spacingAndGlyphs" transform="rotate(-90 28.6 489.4)">Eμ-<tspan font-style="italic">TCL1</tspan></text>
<line x1="32.50" y1="506.70" x2="32.50" y2="529.00" stroke="#333" stroke-width="1.1"/>
<text x="28.60" y="517.85" font-size="5.4" text-anchor="middle" style="color:#1e1e1e" fill="currentColor" stroke="currentColor" stroke-width="0.1" textLength="31" lengthAdjust="spacingAndGlyphs" transform="rotate(-90 28.6 517.85)">Eμ-<tspan font-style="italic">TCL1</tspan><tspan font-size="3.4" dy="-2.3">Akt-C</tspan></text>
<line x1="32.50" y1="536.60" x2="32.50" y2="558.30" stroke="#333" stroke-width="1.1"/>
<text x="28.60" y="547.45" font-size="5.4" text-anchor="middle" style="color:#1e1e1e" fill="currentColor" stroke="currentColor" stroke-width="0.1" textLength="23" lengthAdjust="spacingAndGlyphs" transform="rotate(-90 28.6 547.45)"><tspan font-style="italic">Cd19-Cre</tspan></text>
<line x1="32.50" y1="566.00" x2="32.50" y2="587.50" stroke="#333" stroke-width="1.1"/>
<text x="28.60" y="576.75" font-size="5.4" text-anchor="middle" style="color:#1e1e1e" fill="currentColor" stroke="currentColor" stroke-width="0.1" textLength="21" lengthAdjust="spacingAndGlyphs" transform="rotate(-90 28.6 576.75)">Eμ-<tspan font-style="italic">TCL1</tspan></text>
<line x1="32.50" y1="595.00" x2="32.50" y2="618.00" stroke="#333" stroke-width="1.1"/>
<text x="28.60" y="606.50" font-size="5.4" text-anchor="middle" style="color:#1e1e1e" fill="currentColor" stroke="currentColor" stroke-width="0.1" textLength="31" lengthAdjust="spacingAndGlyphs" transform="rotate(-90 28.6 606.5)">Eμ-<tspan font-style="italic">TCL1</tspan><tspan font-size="3.4" dy="-2.3">Akt-C</tspan></text>
<text x="152.80" y="379.60" font-size="11.8" style="color:#000" fill="currentColor" font-weight="bold">F</text>
<line x1="177.90" y1="393.50" x2="177.90" y2="458.30" stroke="#111" stroke-width="0.9"/>
<line x1="175.70" y1="457.80" x2="177.90" y2="457.80" stroke="#111" stroke-width="0.765"/>
<text x="172.40" y="460.10" font-size="6.4" text-anchor="end" style="color:#1e1e1e" fill="currentColor" stroke="currentColor" stroke-width="0.1" textLength="3.2" lengthAdjust="spacingAndGlyphs">0</text>
<line x1="175.70" y1="445.68" x2="177.90" y2="445.68" stroke="#111" stroke-width="0.765"/>
<text x="172.40" y="447.98" font-size="6.4" text-anchor="end" style="color:#1e1e1e" fill="currentColor" stroke="currentColor" stroke-width="0.1" textLength="3.2" lengthAdjust="spacingAndGlyphs">2</text>
<line x1="175.70" y1="433.56" x2="177.90" y2="433.56" stroke="#111" stroke-width="0.765"/>
<text x="172.40" y="435.86" font-size="6.4" text-anchor="end" style="color:#1e1e1e" fill="currentColor" stroke="currentColor" stroke-width="0.1" textLength="3.2" lengthAdjust="spacingAndGlyphs">4</text>
<line x1="175.70" y1="421.44" x2="177.90" y2="421.44" stroke="#111" stroke-width="0.765"/>
<text x="172.40" y="423.74" font-size="6.4" text-anchor="end" style="color:#1e1e1e" fill="currentColor" stroke="currentColor" stroke-width="0.1" textLength="3.2" lengthAdjust="spacingAndGlyphs">6</text>
<line x1="175.70" y1="409.32" x2="177.90" y2="409.32" stroke="#111" stroke-width="0.765"/>
<text x="172.40" y="411.62" font-size="6.4" text-anchor="end" style="color:#1e1e1e" fill="currentColor" stroke="currentColor" stroke-width="0.1" textLength="3.2" lengthAdjust="spacingAndGlyphs">8</text>
<line x1="175.70" y1="397.20" x2="177.90" y2="397.20" stroke="#111" stroke-width="0.765"/>
<text x="172.40" y="399.50" font-size="6.4" text-anchor="end" style="color:#1e1e1e" fill="currentColor" stroke="currentColor" stroke-width="0.1" textLength="6.4" lengthAdjust="spacingAndGlyphs">10</text>
<line x1="177.70" y1="457.80" x2="255.60" y2="457.80" stroke="#111" stroke-width="1.1"/>
<line x1="190.20" y1="457.80" x2="190.20" y2="460.10" stroke="#111" stroke-width="0.85"/>
<line x1="209.20" y1="457.80" x2="209.20" y2="460.10" stroke="#111" stroke-width="0.85"/>
<line x1="227.60" y1="457.80" x2="227.60" y2="460.10" stroke="#111" stroke-width="0.85"/>
<line x1="246.80" y1="457.80" x2="246.80" y2="460.10" stroke="#111" stroke-width="0.85"/>
<line x1="177.70" y1="452.20" x2="257.00" y2="452.20" stroke="#111" stroke-width="0.9"/>
<text x="260.60" y="454.70" font-size="5.6" style="color:#1e1e1e" fill="currentColor" stroke="currentColor" stroke-width="0.1" font-style="italic" textLength="13.5" lengthAdjust="spacingAndGlyphs">Cd19-</text>
<text x="260.60" y="461.20" font-size="5.6" style="color:#1e1e1e" fill="currentColor" stroke="currentColor" stroke-width="0.1" font-style="italic" textLength="8.5" lengthAdjust="spacingAndGlyphs">Cre</text>
<text x="160.20" y="425.20" font-size="6.5" text-anchor="middle" style="color:#1e1e1e" fill="currentColor" stroke="currentColor" stroke-width="0.1" textLength="88" lengthAdjust="spacingAndGlyphs" transform="rotate(-90 160.2 425.2)">Protein level of Dll1 on T cells</text>
<line x1="190.40" y1="450.23" x2="190.40" y2="451.44" stroke="#222" stroke-width="0.7"/>
<line x1="188.42" y1="450.23" x2="192.38" y2="450.23" stroke="#222" stroke-width="0.7"/>
<line x1="190.40" y1="452.65" x2="190.40" y2="453.56" stroke="#222" stroke-width="0.7"/>
<line x1="188.42" y1="453.56" x2="192.38" y2="453.56" stroke="#222" stroke-width="0.7"/>
<rect x="184.90" y="451.44" width="11.00" height="1.21" fill="none" stroke="#222" stroke-width="0.7"/>
<line x1="184.90" y1="452.04" x2="195.90" y2="452.04" stroke="#222" stroke-width="0.7"/>
<line x1="209.20" y1="446.89" x2="209.20" y2="449.92" stroke="#222" stroke-width="0.7"/>
<line x1="206.97" y1="446.89" x2="211.43" y2="446.89" stroke="#222" stroke-width="0.7"/>
<line x1="209.20" y1="454.16" x2="209.20" y2="455.98" stroke="#222" stroke-width="0.7"/>
<line x1="206.97" y1="455.98" x2="211.43" y2="455.98" stroke="#222" stroke-width="0.7"/>
<rect x="203.00" y="449.92" width="12.40" height="4.24" fill="none" stroke="#222" stroke-width="0.7"/>
<line x1="203.00" y1="452.04" x2="215.40" y2="452.04" stroke="#222" stroke-width="0.7"/>
<line x1="227.70" y1="442.95" x2="227.70" y2="450.83" stroke="#222" stroke-width="0.7"/>
<line x1="225.29" y1="442.95" x2="230.11" y2="442.95" stroke="#222" stroke-width="0.7"/>
<line x1="227.70" y1="452.95" x2="227.70" y2="454.16" stroke="#222" stroke-width="0.7"/>
<line x1="225.29" y1="454.16" x2="230.11" y2="454.16" stroke="#222" stroke-width="0.7"/>
<rect x="221.00" y="450.83" width="13.40" height="2.12" fill="none" stroke="#222" stroke-width="0.7"/>
<line x1="221.00" y1="452.04" x2="234.40" y2="452.04" stroke="#222" stroke-width="0.7"/>
<line x1="246.70" y1="406.90" x2="246.70" y2="431.14" stroke="#222" stroke-width="0.7"/>
<line x1="244.38" y1="406.90" x2="249.02" y2="406.90" stroke="#222" stroke-width="0.7"/>
<line x1="246.70" y1="448.71" x2="246.70" y2="452.47" stroke="#222" stroke-width="0.7"/>
<line x1="244.38" y1="452.47" x2="249.02" y2="452.47" stroke="#222" stroke-width="0.7"/>
<rect x="240.25" y="431.14" width="12.90" height="17.57" fill="none" stroke="#222" stroke-width="0.7"/>
<line x1="240.25" y1="444.17" x2="253.15" y2="444.17" stroke="#222" stroke-width="0.7"/>
<polyline points="190.20,449.00 190.20,395.00 246.90,395.00 246.90,403.30" stroke="#111" stroke-width="0.7" fill="none"/>
<polyline points="209.20,446.00 209.20,399.40 246.90,399.40" stroke="#111" stroke-width="0.7" fill="none"/>
<polyline points="227.60,442.00 227.60,403.30 246.90,403.30" stroke="#111" stroke-width="0.7" fill="none"/>
<text x="218.50" y="394.80" font-size="4.6" text-anchor="middle" style="color:#111" fill="currentColor" stroke="currentColor" stroke-width="0.1">*</text>
<text x="227.90" y="399.20" font-size="4.6" text-anchor="middle" style="color:#111" fill="currentColor" stroke="currentColor" stroke-width="0.1" textLength="4.2" lengthAdjust="spacingAndGlyphs">**</text>
<text x="237.30" y="403.10" font-size="4.6" text-anchor="middle" style="color:#111" fill="currentColor" stroke="currentColor" stroke-width="0.1">*</text>
<circle cx="186.54" cy="450.83" r="1.4" fill="#2c55a3" stroke="#111" stroke-width="0.5"/>
<circle cx="193.67" cy="451.13" r="1.4" fill="#2c55a3" stroke="#111" stroke-width="0.5"/>
<circle cx="192.84" cy="451.44" r="1.4" fill="#2c55a3" stroke="#111" stroke-width="0.5"/>
<circle cx="187.75" cy="451.74" r="1.4" fill="#2c55a3" stroke="#111" stroke-width="0.5"/>
<circle cx="190.15" cy="451.74" r="1.4" fill="#2c55a3" stroke="#111" stroke-width="0.5"/>
<circle cx="189.69" cy="452.04" r="1.4" fill="#2c55a3" stroke="#111" stroke-width="0.5"/>
<circle cx="191.72" cy="452.04" r="1.4" fill="#2c55a3" stroke="#111" stroke-width="0.5"/>
<circle cx="193.09" cy="452.35" r="1.4" fill="#2c55a3" stroke="#111" stroke-width="0.5"/>
<circle cx="186.14" cy="452.65" r="1.4" fill="#2c55a3" stroke="#111" stroke-width="0.5"/>
<circle cx="185.48" cy="452.35" r="1.4" fill="#2c55a3" stroke="#111" stroke-width="0.5"/>
<circle cx="193.56" cy="451.74" r="1.4" fill="#2c55a3" stroke="#111" stroke-width="0.5"/>
<circle cx="189.53" cy="452.95" r="1.4" fill="#2c55a3" stroke="#111" stroke-width="0.5"/>
<circle cx="192.82" cy="451.13" r="1.4" fill="#2c55a3" stroke="#111" stroke-width="0.5"/>
<circle cx="209.20" cy="447.19" r="1.4" fill="#b0102a" stroke="#111" stroke-width="0.5"/>
<circle cx="207.00" cy="450.53" r="1.4" fill="#b0102a" stroke="#111" stroke-width="0.5"/>
<circle cx="211.50" cy="451.74" r="1.4" fill="#b0102a" stroke="#111" stroke-width="0.5"/>
<circle cx="209.00" cy="452.35" r="1.4" fill="#b0102a" stroke="#111" stroke-width="0.5"/>
<circle cx="206.50" cy="453.56" r="1.4" fill="#b0102a" stroke="#111" stroke-width="0.5"/>
<circle cx="209.00" cy="455.38" r="1.4" fill="#b0102a" stroke="#111" stroke-width="0.5"/>
<circle cx="227.60" cy="442.95" r="1.4" fill="#2c55a3" stroke="#111" stroke-width="0.5"/>
<circle cx="221.63" cy="448.71" r="1.4" fill="#2c55a3" stroke="#111" stroke-width="0.5"/>
<circle cx="226.94" cy="450.23" r="1.4" fill="#2c55a3" stroke="#111" stroke-width="0.5"/>
<circle cx="230.26" cy="451.13" r="1.4" fill="#2c55a3" stroke="#111" stroke-width="0.5"/>
<circle cx="224.35" cy="451.74" r="1.4" fill="#2c55a3" stroke="#111" stroke-width="0.5"/>
<circle cx="232.94" cy="451.74" r="1.4" fill="#2c55a3" stroke="#111" stroke-width="0.5"/>
<circle cx="232.42" cy="452.04" r="1.4" fill="#2c55a3" stroke="#111" stroke-width="0.5"/>
<circle cx="221.97" cy="452.35" r="1.4" fill="#2c55a3" stroke="#111" stroke-width="0.5"/>
<circle cx="221.91" cy="452.65" r="1.4" fill="#2c55a3" stroke="#111" stroke-width="0.5"/>
<circle cx="228.10" cy="452.95" r="1.4" fill="#2c55a3" stroke="#111" stroke-width="0.5"/>
<circle cx="232.87" cy="452.35" r="1.4" fill="#2c55a3" stroke="#111" stroke-width="0.5"/>
<circle cx="226.17" cy="451.44" r="1.4" fill="#2c55a3" stroke="#111" stroke-width="0.5"/>
<circle cx="224.20" cy="450.53" r="1.4" fill="#2c55a3" stroke="#111" stroke-width="0.5"/>
<circle cx="246.50" cy="406.59" r="1.45" fill="#b0102a" stroke="#111" stroke-width="0.5"/>
<circle cx="246.50" cy="428.41" r="1.45" fill="#b0102a" stroke="#111" stroke-width="0.5"/>
<circle cx="247.90" cy="441.13" r="1.45" fill="#b0102a" stroke="#111" stroke-width="0.5"/>
<circle cx="245.00" cy="442.65" r="1.45" fill="#b0102a" stroke="#111" stroke-width="0.5"/>
<circle cx="249.20" cy="447.80" r="1.45" fill="#b0102a" stroke="#111" stroke-width="0.5"/>
<circle cx="245.70" cy="447.80" r="1.45" fill="#b0102a" stroke="#111" stroke-width="0.5"/>
<circle cx="243.80" cy="449.92" r="1.45" fill="#b0102a" stroke="#111" stroke-width="0.5"/>
<circle cx="245.20" cy="452.65" r="1.45" fill="#b0102a" stroke="#111" stroke-width="0.5"/>
<text x="192.50" y="467.40" font-size="6.5" text-anchor="end" style="color:#1e1e1e" fill="currentColor" stroke="currentColor" stroke-width="0.1" textLength="22.5" lengthAdjust="spacingAndGlyphs" transform="rotate(-45 192.5 467.4)">Eμ-<tspan font-style="italic">TCL1</tspan></text>
<text x="211.50" y="467.40" font-size="6.5" text-anchor="end" style="color:#1e1e1e" fill="currentColor" stroke="currentColor" stroke-width="0.1" textLength="33.5" lengthAdjust="spacingAndGlyphs" transform="rotate(-45 211.5 467.4)">Eμ-<tspan font-style="italic">TCL1</tspan><tspan font-size="3.8" dy="-2.4">Akt-C</tspan></text>
<text x="229.90" y="467.40" font-size="6.5" text-anchor="end" style="color:#1e1e1e" fill="currentColor" stroke="currentColor" stroke-width="0.1" textLength="22.5" lengthAdjust="spacingAndGlyphs" transform="rotate(-45 229.9 467.4)">Eμ-<tspan font-style="italic">TCL1</tspan></text>
<text x="249.10" y="467.40" font-size="6.5" text-anchor="end" style="color:#1e1e1e" fill="currentColor" stroke="currentColor" stroke-width="0.1" textLength="33.5" lengthAdjust="spacingAndGlyphs" transform="rotate(-45 249.10000000000002 467.4)">Eμ-<tspan font-style="italic">TCL1</tspan><tspan font-size="3.8" dy="-2.4">Akt-C</tspan></text>
<line x1="185.80" y1="496.30" x2="211.30" y2="496.30" stroke="#444" stroke-width="1.1"/>
<line x1="222.90" y1="496.30" x2="248.80" y2="496.30" stroke="#444" stroke-width="1.1"/>
<text x="198.40" y="504.60" font-size="6.4" text-anchor="middle" style="color:#1e1e1e" fill="currentColor" stroke="currentColor" stroke-width="0.1" textLength="16.8" lengthAdjust="spacingAndGlyphs">3-4 m</text>
<text x="235.90" y="504.60" font-size="6.4" text-anchor="middle" style="color:#1e1e1e" fill="currentColor" stroke="currentColor" stroke-width="0.1" textLength="16.8" lengthAdjust="spacingAndGlyphs">7-8 m</text>
<text x="281.30" y="379.60" font-size="11.8" style="color:#000" fill="currentColor" font-weight="bold">G</text>
<line x1="317.60" y1="386.00" x2="317.60" y2="447.60" stroke="#111" stroke-width="0.9"/>
<line x1="315.40" y1="447.30" x2="317.60" y2="447.30" stroke="#111" stroke-width="0.765"/>
<text x="312.30" y="449.60" font-size="6.4" text-anchor="end" style="color:#1e1e1e" fill="currentColor" stroke="currentColor" stroke-width="0.1" textLength="3.2" lengthAdjust="spacingAndGlyphs">0</text>
<line x1="315.40" y1="435.40" x2="317.60" y2="435.40" stroke="#111" stroke-width="0.765"/>
<text x="312.30" y="437.70" font-size="6.4" text-anchor="end" style="color:#1e1e1e" fill="currentColor" stroke="currentColor" stroke-width="0.1" textLength="6.4" lengthAdjust="spacingAndGlyphs">10</text>
<line x1="315.40" y1="423.50" x2="317.60" y2="423.50" stroke="#111" stroke-width="0.765"/>
<text x="312.30" y="425.80" font-size="6.4" text-anchor="end" style="color:#1e1e1e" fill="currentColor" stroke="currentColor" stroke-width="0.1" textLength="6.4" lengthAdjust="spacingAndGlyphs">20</text>
<line x1="315.40" y1="411.60" x2="317.60" y2="411.60" stroke="#111" stroke-width="0.765"/>
<text x="312.30" y="413.90" font-size="6.4" text-anchor="end" style="color:#1e1e1e" fill="currentColor" stroke="currentColor" stroke-width="0.1" textLength="6.4" lengthAdjust="spacingAndGlyphs">30</text>
<line x1="315.40" y1="399.70" x2="317.60" y2="399.70" stroke="#111" stroke-width="0.765"/>
<text x="312.30" y="402.00" font-size="6.4" text-anchor="end" style="color:#1e1e1e" fill="currentColor" stroke="currentColor" stroke-width="0.1" textLength="6.4" lengthAdjust="spacingAndGlyphs">40</text>
<line x1="315.40" y1="387.80" x2="317.60" y2="387.80" stroke="#111" stroke-width="0.765"/>
<text x="312.30" y="390.10" font-size="6.4" text-anchor="end" style="color:#1e1e1e" fill="currentColor" stroke="currentColor" stroke-width="0.1" textLength="6.4" lengthAdjust="spacingAndGlyphs">50</text>
<line x1="317.60" y1="447.10" x2="397.00" y2="447.10" stroke="#111" stroke-width="2.3"/>
<line x1="329.60" y1="447.30" x2="329.60" y2="449.80" stroke="#111" stroke-width="0.85"/>
<line x1="348.30" y1="447.30" x2="348.30" y2="449.80" stroke="#111" stroke-width="0.85"/>
<line x1="366.50" y1="447.30" x2="366.50" y2="449.80" stroke="#111" stroke-width="0.85"/>
<line x1="384.80" y1="447.30" x2="384.80" y2="449.80" stroke="#111" stroke-width="0.85"/>
<text x="398.60" y="449.60" font-size="5.6" style="color:#1e1e1e" fill="currentColor" stroke="currentColor" stroke-width="0.1" font-style="italic" textLength="13.5" lengthAdjust="spacingAndGlyphs">Cd19-</text>
<text x="398.60" y="456.10" font-size="5.6" style="color:#1e1e1e" fill="currentColor" stroke="currentColor" stroke-width="0.1" font-style="italic" textLength="8.5" lengthAdjust="spacingAndGlyphs">Cre</text>
<text x="289.20" y="416.10" font-size="6.5" text-anchor="middle" style="color:#1e1e1e" fill="currentColor" stroke="currentColor" stroke-width="0.1" textLength="67" lengthAdjust="spacingAndGlyphs" transform="rotate(-90 289.2 416.1)">Protein level of Dll1 on</text>
<text x="299.40" y="416.40" font-size="6.5" text-anchor="middle" style="color:#1e1e1e" fill="currentColor" stroke="currentColor" stroke-width="0.1" textLength="35" lengthAdjust="spacingAndGlyphs" transform="rotate(-90 299.4 416.4)">Cd4<tspan font-size="4" dy="-2.3">+</tspan><tspan dy="2.3"> T cells</tspan></text>
<line x1="384.70" y1="404.82" x2="384.70" y2="425.52" stroke="#222" stroke-width="0.7"/>
<line x1="382.56" y1="404.82" x2="386.84" y2="404.82" stroke="#222" stroke-width="0.7"/>
<rect x="378.75" y="425.52" width="11.90" height="20.59" fill="none" stroke="#222" stroke-width="0.7"/>
<line x1="378.75" y1="437.78" x2="390.65" y2="437.78" stroke="#222" stroke-width="0.7"/>
<polyline points="329.60,446.00 329.60,391.00 384.80,391.00 384.80,401.20" stroke="#111" stroke-width="0.7" fill="none"/>
<polyline points="348.30,446.00 348.30,396.30 384.80,396.30" stroke="#111" stroke-width="0.7" fill="none"/>
<polyline points="366.50,444.00 366.50,401.20 384.80,401.20" stroke="#111" stroke-width="0.7" fill="none"/>
<text x="357.30" y="391.20" font-size="4.6" text-anchor="middle" style="color:#111" fill="currentColor" stroke="currentColor" stroke-width="0.1" textLength="4.2" lengthAdjust="spacingAndGlyphs">**</text>
<text x="366.50" y="396.30" font-size="4.6" text-anchor="middle" style="color:#111" fill="currentColor" stroke="currentColor" stroke-width="0.1">*</text>
<text x="376.20" y="401.10" font-size="4.6" text-anchor="middle" style="color:#111" fill="currentColor" stroke="currentColor" stroke-width="0.1" textLength="4.2" lengthAdjust="spacingAndGlyphs">**</text>
<circle cx="326.00" cy="446.23" r="1.35" fill="#2c55a3" stroke="#111" stroke-width="0.5"/>
<circle cx="328.50" cy="445.87" r="1.35" fill="#2c55a3" stroke="#111" stroke-width="0.5"/>
<circle cx="331.00" cy="446.35" r="1.35" fill="#2c55a3" stroke="#111" stroke-width="0.5"/>
<circle cx="333.50" cy="445.99" r="1.35" fill="#2c55a3" stroke="#111" stroke-width="0.5"/>
<circle cx="336.00" cy="446.23" r="1.35" fill="#2c55a3" stroke="#111" stroke-width="0.5"/>
<circle cx="323.50" cy="446.11" r="1.35" fill="#2c55a3" stroke="#111" stroke-width="0.5"/>
<circle cx="344.00" cy="446.35" r="1.35" fill="#b0102a" stroke="#111" stroke-width="0.5"/>
<circle cx="346.50" cy="445.99" r="1.35" fill="#b0102a" stroke="#111" stroke-width="0.5"/>
<circle cx="349.00" cy="446.23" r="1.35" fill="#b0102a" stroke="#111" stroke-width="0.5"/>
<circle cx="351.50" cy="445.87" r="1.35" fill="#b0102a" stroke="#111" stroke-width="0.5"/>
<circle cx="354.00" cy="445.40" r="1.35" fill="#b0102a" stroke="#111" stroke-width="0.5"/>
<circle cx="365.20" cy="440.99" r="1.4" fill="#2c55a3" stroke="#111" stroke-width="0.5"/>
<circle cx="367.70" cy="442.54" r="1.4" fill="#2c55a3" stroke="#111" stroke-width="0.5"/>
<circle cx="363.20" cy="445.16" r="1.4" fill="#2c55a3" stroke="#111" stroke-width="0.5"/>
<circle cx="366.60" cy="445.16" r="1.4" fill="#2c55a3" stroke="#111" stroke-width="0.5"/>
<circle cx="370.40" cy="445.51" r="1.4" fill="#2c55a3" stroke="#111" stroke-width="0.5"/>
<circle cx="368.50" cy="446.35" r="1.4" fill="#2c55a3" stroke="#111" stroke-width="0.5"/>
<circle cx="362.00" cy="446.11" r="1.4" fill="#2c55a3" stroke="#111" stroke-width="0.5"/>
<circle cx="364.50" cy="446.59" r="1.4" fill="#2c55a3" stroke="#111" stroke-width="0.5"/>
<circle cx="384.80" cy="404.70" r="1.4" fill="#b0102a" stroke="#111" stroke-width="0.5"/>
<circle cx="384.80" cy="425.52" r="1.4" fill="#b0102a" stroke="#111" stroke-width="0.5"/>
<circle cx="384.40" cy="432.43" r="1.4" fill="#b0102a" stroke="#111" stroke-width="0.5"/>
<circle cx="384.80" cy="437.78" r="1.4" fill="#b0102a" stroke="#111" stroke-width="0.5"/>
<circle cx="382.30" cy="444.32" r="1.4" fill="#b0102a" stroke="#111" stroke-width="0.5"/>
<circle cx="387.30" cy="445.87" r="1.4" fill="#b0102a" stroke="#111" stroke-width="0.5"/>
<circle cx="385.50" cy="446.70" r="1.4" fill="#b0102a" stroke="#111" stroke-width="0.5"/>
<circle cx="381.00" cy="446.70" r="1.4" fill="#b0102a" stroke="#111" stroke-width="0.5"/>
<text x="331.90" y="456.90" font-size="6.5" text-anchor="end" style="color:#1e1e1e" fill="currentColor" stroke="currentColor" stroke-width="0.1" textLength="22.5" lengthAdjust="spacingAndGlyphs" transform="rotate(-45 331.90000000000003 456.9)">Eμ-<tspan font-style="italic">TCL1</tspan></text>
<text x="350.60" y="456.90" font-size="6.5" text-anchor="end" style="color:#1e1e1e" fill="currentColor" stroke="currentColor" stroke-width="0.1" textLength="33.5" lengthAdjust="spacingAndGlyphs" transform="rotate(-45 350.6 456.9)">Eμ-<tspan font-style="italic">TCL1</tspan><tspan font-size="3.8" dy="-2.4">Akt-C</tspan></text>
<text x="368.80" y="456.90" font-size="6.5" text-anchor="end" style="color:#1e1e1e" fill="currentColor" stroke="currentColor" stroke-width="0.1" textLength="22.5" lengthAdjust="spacingAndGlyphs" transform="rotate(-45 368.8 456.9)">Eμ-<tspan font-style="italic">TCL1</tspan></text>
<text x="387.10" y="456.90" font-size="6.5" text-anchor="end" style="color:#1e1e1e" fill="currentColor" stroke="currentColor" stroke-width="0.1" textLength="33.5" lengthAdjust="spacingAndGlyphs" transform="rotate(-45 387.1 456.9)">Eμ-<tspan font-style="italic">TCL1</tspan><tspan font-size="3.8" dy="-2.4">Akt-C</tspan></text>
<line x1="324.80" y1="486.00" x2="349.30" y2="486.00" stroke="#444" stroke-width="1.1"/>
<line x1="361.70" y1="486.00" x2="386.00" y2="486.00" stroke="#444" stroke-width="1.1"/>
<text x="337.00" y="495.30" font-size="6.4" text-anchor="middle" style="color:#1e1e1e" fill="currentColor" stroke="currentColor" stroke-width="0.1" textLength="16.8" lengthAdjust="spacingAndGlyphs">3-4 m</text>
<text x="373.80" y="495.30" font-size="6.4" text-anchor="middle" style="color:#1e1e1e" fill="currentColor" stroke="currentColor" stroke-width="0.1" textLength="16.8" lengthAdjust="spacingAndGlyphs">7-8 m</text>
<text x="417.00" y="379.60" font-size="11.8" style="color:#000" fill="currentColor" font-weight="bold">H</text>
<text x="441.70" y="391.60" font-size="6.5" style="color:#1e1e1e" fill="currentColor" stroke="currentColor" stroke-width="0.1" textLength="51" lengthAdjust="spacingAndGlyphs"><tspan style="color:#2f5ba6">Eμ-<tspan font-style="italic">TCL1</tspan></tspan> <tspan style="color:#c0143c">Eμ-<tspan font-style="italic">TCL1</tspan></tspan></text>
<text x="493.00" y="387.80" font-size="4.0" style="color:#c0143c" fill="currentColor" stroke="currentColor" stroke-width="0.05" textLength="10.5" lengthAdjust="spacingAndGlyphs">Akt-C</text>
<text x="473.20" y="401.20" font-size="6.5" text-anchor="middle" style="color:#1e1e1e" fill="currentColor" stroke="currentColor" stroke-width="0.1" textLength="19.7" lengthAdjust="spacingAndGlyphs">Spleen</text>
<line x1="433.90" y1="405.60" x2="512.90" y2="405.60" stroke="#111" stroke-width="1.0"/>
<clipPath id="cH"><rect x="434.1" y="407.8" width="78.39999999999998" height="79.59999999999997"/></clipPath>
<g clip-path="url(#cH)">
<path d="M435.00,487.40 C435.28,486.67 436.12,484.90 436.70,483.00 C437.28,481.10 437.95,478.17 438.50,476.00 C439.05,473.83 439.50,472.33 440.00,470.00 C440.50,467.67 441.00,465.00 441.50,462.00 C442.00,459.00 442.47,455.50 443.00,452.00 C443.53,448.50 444.20,444.17 444.70,441.00 C445.20,437.83 445.53,435.17 446.00,433.00 C446.47,430.83 447.03,428.33 447.50,428.00 C447.97,427.67 448.30,431.00 448.80,431.00 C449.30,431.00 449.97,429.00 450.50,428.00 C451.03,427.00 451.50,426.03 452.00,425.00 C452.50,423.97 452.95,422.57 453.50,421.80 C454.05,421.03 454.80,420.03 455.30,420.40 C455.80,420.77 456.17,421.90 456.50,424.00 C456.83,426.10 457.02,430.33 457.30,433.00 C457.58,435.67 457.85,438.25 458.20,440.00 C458.55,441.75 458.93,441.83 459.40,443.50 C459.87,445.17 460.45,447.25 461.00,450.00 C461.55,452.75 462.03,457.00 462.70,460.00 C463.37,463.00 464.18,465.17 465.00,468.00 C465.82,470.83 466.68,474.50 467.60,477.00 C468.52,479.50 469.43,481.42 470.50,483.00 C471.57,484.58 473.08,485.77 474.00,486.50 C474.92,487.23 475.67,487.25 476.00,487.40 L435,487.4 Z" fill="#b3123a" fill-opacity="0.3" stroke="none"/>
<path d="M436.00,487.40 C436.33,486.50 437.33,484.40 438.00,482.00 C438.67,479.60 439.33,477.00 440.00,473.00 C440.67,469.00 441.42,463.00 442.00,458.00 C442.58,453.00 443.00,447.67 443.50,443.00 C444.00,438.33 444.50,433.83 445.00,430.00 C445.50,426.17 446.07,422.42 446.50,420.00 C446.93,417.58 447.30,415.83 447.60,415.50 C447.90,415.17 448.07,417.92 448.30,418.00 C448.53,418.08 448.72,415.83 449.00,416.00 C449.28,416.17 449.70,418.75 450.00,419.00 C450.30,419.25 450.47,416.67 450.80,417.50 C451.13,418.33 451.63,421.42 452.00,424.00 C452.37,426.58 452.63,429.33 453.00,433.00 C453.37,436.67 453.78,442.17 454.20,446.00 C454.62,449.83 454.95,453.00 455.50,456.00 C456.05,459.00 456.75,461.67 457.50,464.00 C458.25,466.33 459.08,468.00 460.00,470.00 C460.92,472.00 462.00,474.17 463.00,476.00 C464.00,477.83 464.83,479.42 466.00,481.00 C467.17,482.58 468.67,484.43 470.00,485.50 C471.33,486.57 473.33,487.08 474.00,487.40 L436,487.4 Z" fill="#2b4f98" fill-opacity="0.48" stroke="#24468c" stroke-width="0.85"/>
<path d="M436.00,487.40 C436.67,487.17 438.28,487.07 440.00,486.00 C441.72,484.93 444.63,482.67 446.30,481.00 C447.97,479.33 448.63,478.50 450.00,476.00 C451.37,473.50 453.33,468.92 454.50,466.00 C455.67,463.08 456.18,461.00 457.00,458.50 C457.82,456.00 458.65,453.92 459.40,451.00 C460.15,448.08 460.82,444.17 461.50,441.00 C462.18,437.83 462.83,434.67 463.50,432.00 C464.17,429.33 464.92,426.83 465.50,425.00 C466.08,423.17 466.53,421.78 467.00,421.00 C467.47,420.22 467.92,420.05 468.30,420.30 C468.68,420.55 468.93,422.47 469.30,422.50 C469.67,422.53 470.12,420.25 470.50,420.50 C470.88,420.75 471.27,422.58 471.60,424.00 C471.93,425.42 472.10,427.67 472.50,429.00 C472.90,430.33 473.58,430.33 474.00,432.00 C474.42,433.67 474.50,436.00 475.00,439.00 C475.50,442.00 476.33,446.33 477.00,450.00 C477.67,453.67 478.33,457.50 479.00,461.00 C479.67,464.50 480.42,468.00 481.00,471.00 C481.58,474.00 481.83,476.83 482.50,479.00 C483.17,481.17 483.92,482.80 485.00,484.00 C486.08,485.20 487.67,485.63 489.00,486.20 C490.33,486.77 492.33,487.20 493.00,487.40 L436,487.4 Z" fill="#b3123a" fill-opacity="0.58" stroke="#b3123a" stroke-width="0.85"/>
<path d="M435.00,487.40 C435.28,486.67 436.12,484.90 436.70,483.00 C437.28,481.10 437.95,478.17 438.50,476.00 C439.05,473.83 439.50,472.33 440.00,470.00 C440.50,467.67 441.00,465.00 441.50,462.00 C442.00,459.00 442.47,455.50 443.00,452.00 C443.53,448.50 444.20,444.17 444.70,441.00 C445.20,437.83 445.53,435.17 446.00,433.00 C446.47,430.83 447.03,428.33 447.50,428.00 C447.97,427.67 448.30,431.00 448.80,431.00 C449.30,431.00 449.97,429.00 450.50,428.00 C451.03,427.00 451.50,426.03 452.00,425.00 C452.50,423.97 452.95,422.57 453.50,421.80 C454.05,421.03 454.80,420.03 455.30,420.40 C455.80,420.77 456.17,421.90 456.50,424.00 C456.83,426.10 457.02,430.33 457.30,433.00 C457.58,435.67 457.85,438.25 458.20,440.00 C458.55,441.75 458.93,441.83 459.40,443.50 C459.87,445.17 460.45,447.25 461.00,450.00 C461.55,452.75 462.03,457.00 462.70,460.00 C463.37,463.00 464.18,465.17 465.00,468.00 C465.82,470.83 466.68,474.50 467.60,477.00 C468.52,479.50 469.43,481.42 470.50,483.00 C471.57,484.58 473.08,485.77 474.00,486.50 C474.92,487.23 475.67,487.25 476.00,487.40 L435,487.4 Z" fill="none" fill-opacity="0" stroke="#b3123a" stroke-width="0.85"/>
</g>
<line x1="434.10" y1="407.80" x2="512.50" y2="407.80" stroke="#111" stroke-width="1.1"/>
<line x1="512.50" y1="407.80" x2="512.50" y2="487.40" stroke="#111" stroke-width="1.0"/>
<line x1="434.10" y1="407.80" x2="434.10" y2="487.40" stroke="#111" stroke-width="0.9"/>
<line x1="431.90" y1="487.40" x2="434.10" y2="487.40" stroke="#111" stroke-width="0.765"/>
<text x="428.80" y="489.70" font-size="6.4" text-anchor="end" style="color:#1e1e1e" fill="currentColor" stroke="currentColor" stroke-width="0.1" textLength="3.2" lengthAdjust="spacingAndGlyphs">0</text>
<line x1="431.90" y1="472.28" x2="434.10" y2="472.28" stroke="#111" stroke-width="0.765"/>
<text x="428.80" y="474.58" font-size="6.4" text-anchor="end" style="color:#1e1e1e" fill="currentColor" stroke="currentColor" stroke-width="0.1" textLength="6.4" lengthAdjust="spacingAndGlyphs">20</text>
<line x1="431.90" y1="457.16" x2="434.10" y2="457.16" stroke="#111" stroke-width="0.765"/>
<text x="428.80" y="459.46" font-size="6.4" text-anchor="end" style="color:#1e1e1e" fill="currentColor" stroke="currentColor" stroke-width="0.1" textLength="6.4" lengthAdjust="spacingAndGlyphs">40</text>
<line x1="431.90" y1="442.04" x2="434.10" y2="442.04" stroke="#111" stroke-width="0.765"/>
<text x="428.80" y="444.34" font-size="6.4" text-anchor="end" style="color:#1e1e1e" fill="currentColor" stroke="currentColor" stroke-width="0.1" textLength="6.4" lengthAdjust="spacingAndGlyphs">60</text>
<line x1="431.90" y1="426.92" x2="434.10" y2="426.92" stroke="#111" stroke-width="0.765"/>
<text x="428.80" y="429.22" font-size="6.4" text-anchor="end" style="color:#1e1e1e" fill="currentColor" stroke="currentColor" stroke-width="0.1" textLength="6.4" lengthAdjust="spacingAndGlyphs">80</text>
<line x1="431.90" y1="411.80" x2="434.10" y2="411.80" stroke="#111" stroke-width="0.765"/>
<text x="428.80" y="414.10" font-size="6.4" text-anchor="end" style="color:#1e1e1e" fill="currentColor" stroke="currentColor" stroke-width="0.1" textLength="9.600000000000001" lengthAdjust="spacingAndGlyphs">100</text>
<line x1="433.00" y1="487.40" x2="434.10" y2="487.40" stroke="#111" stroke-width="0.5"/>
<line x1="433.00" y1="484.38" x2="434.10" y2="484.38" stroke="#111" stroke-width="0.5"/>
<line x1="433.00" y1="481.35" x2="434.10" y2="481.35" stroke="#111" stroke-width="0.5"/>
<line x1="433.00" y1="478.33" x2="434.10" y2="478.33" stroke="#111" stroke-width="0.5"/>
<line x1="433.00" y1="475.30" x2="434.10" y2="475.30" stroke="#111" stroke-width="0.5"/>
<line x1="433.00" y1="472.28" x2="434.10" y2="472.28" stroke="#111" stroke-width="0.5"/>
<line x1="433.00" y1="469.26" x2="434.10" y2="469.26" stroke="#111" stroke-width="0.5"/>
<line x1="433.00" y1="466.23" x2="434.10" y2="466.23" stroke="#111" stroke-width="0.5"/>
<line x1="433.00" y1="463.21" x2="434.10" y2="463.21" stroke="#111" stroke-width="0.5"/>
<line x1="433.00" y1="460.18" x2="434.10" y2="460.18" stroke="#111" stroke-width="0.5"/>
<line x1="433.00" y1="457.16" x2="434.10" y2="457.16" stroke="#111" stroke-width="0.5"/>
<line x1="433.00" y1="454.14" x2="434.10" y2="454.14" stroke="#111" stroke-width="0.5"/>
<line x1="433.00" y1="451.11" x2="434.10" y2="451.11" stroke="#111" stroke-width="0.5"/>
<line x1="433.00" y1="448.09" x2="434.10" y2="448.09" stroke="#111" stroke-width="0.5"/>
<line x1="433.00" y1="445.06" x2="434.10" y2="445.06" stroke="#111" stroke-width="0.5"/>
<line x1="433.00" y1="442.04" x2="434.10" y2="442.04" stroke="#111" stroke-width="0.5"/>
<line x1="433.00" y1="439.02" x2="434.10" y2="439.02" stroke="#111" stroke-width="0.5"/>
<line x1="433.00" y1="435.99" x2="434.10" y2="435.99" stroke="#111" stroke-width="0.5"/>
<line x1="433.00" y1="432.97" x2="434.10" y2="432.97" stroke="#111" stroke-width="0.5"/>
<line x1="433.00" y1="429.94" x2="434.10" y2="429.94" stroke="#111" stroke-width="0.5"/>
<line x1="433.00" y1="426.92" x2="434.10" y2="426.92" stroke="#111" stroke-width="0.5"/>
<line x1="433.00" y1="423.90" x2="434.10" y2="423.90" stroke="#111" stroke-width="0.5"/>
<line x1="433.00" y1="420.87" x2="434.10" y2="420.87" stroke="#111" stroke-width="0.5"/>
<line x1="433.00" y1="417.85" x2="434.10" y2="417.85" stroke="#111" stroke-width="0.5"/>
<line x1="433.00" y1="414.82" x2="434.10" y2="414.82" stroke="#111" stroke-width="0.5"/>
<line x1="433.00" y1="411.80" x2="434.10" y2="411.80" stroke="#111" stroke-width="0.5"/>
<line x1="434.10" y1="487.40" x2="512.50" y2="487.40" stroke="#111" stroke-width="1.1"/>
<line x1="482.25" y1="487.40" x2="482.25" y2="489.20" stroke="#111" stroke-width="0.6"/>
<line x1="504.35" y1="487.40" x2="504.35" y2="489.20" stroke="#111" stroke-width="0.6"/>
<line x1="486.14" y1="487.40" x2="486.14" y2="489.20" stroke="#111" stroke-width="0.6"/>
<line x1="508.24" y1="487.40" x2="508.24" y2="489.20" stroke="#111" stroke-width="0.6"/>
<line x1="488.91" y1="487.40" x2="488.91" y2="489.20" stroke="#111" stroke-width="0.6"/>
<line x1="511.01" y1="487.40" x2="511.01" y2="489.20" stroke="#111" stroke-width="0.6"/>
<line x1="491.05" y1="487.40" x2="491.05" y2="489.20" stroke="#111" stroke-width="0.6"/>
<line x1="492.80" y1="487.40" x2="492.80" y2="489.20" stroke="#111" stroke-width="0.6"/>
<line x1="494.28" y1="487.40" x2="494.28" y2="489.20" stroke="#111" stroke-width="0.6"/>
<line x1="495.56" y1="487.40" x2="495.56" y2="489.20" stroke="#111" stroke-width="0.6"/>
<line x1="496.69" y1="487.40" x2="496.69" y2="489.20" stroke="#111" stroke-width="0.6"/>
<line x1="447.79" y1="487.40" x2="447.79" y2="489.20" stroke="#111" stroke-width="0.6"/>
<line x1="441.61" y1="487.40" x2="441.61" y2="489.20" stroke="#111" stroke-width="0.6"/>
<line x1="450.88" y1="487.40" x2="450.88" y2="489.20" stroke="#111" stroke-width="0.6"/>
<line x1="438.52" y1="487.40" x2="438.52" y2="489.20" stroke="#111" stroke-width="0.6"/>
<line x1="453.97" y1="487.40" x2="453.97" y2="489.20" stroke="#111" stroke-width="0.6"/>
<line x1="435.43" y1="487.40" x2="435.43" y2="489.20" stroke="#111" stroke-width="0.6"/>
<line x1="457.06" y1="487.40" x2="457.06" y2="489.20" stroke="#111" stroke-width="0.6"/>
<line x1="460.15" y1="487.40" x2="460.15" y2="489.20" stroke="#111" stroke-width="0.6"/>
<line x1="463.24" y1="487.40" x2="463.24" y2="489.20" stroke="#111" stroke-width="0.6"/>
<line x1="466.33" y1="487.40" x2="466.33" y2="489.20" stroke="#111" stroke-width="0.6"/>
<line x1="469.42" y1="487.40" x2="469.42" y2="489.20" stroke="#111" stroke-width="0.6"/>
<line x1="472.51" y1="487.40" x2="472.51" y2="489.20" stroke="#111" stroke-width="0.6"/>
<line x1="445.73" y1="487.40" x2="445.73" y2="489.20" stroke="#111" stroke-width="0.6"/>
<line x1="443.67" y1="487.40" x2="443.67" y2="489.20" stroke="#111" stroke-width="0.6"/>
<line x1="446.76" y1="487.40" x2="446.76" y2="489.20" stroke="#111" stroke-width="0.6"/>
<line x1="442.64" y1="487.40" x2="442.64" y2="489.20" stroke="#111" stroke-width="0.6"/>
<line x1="447.79" y1="487.40" x2="447.79" y2="489.20" stroke="#111" stroke-width="0.6"/>
<line x1="441.61" y1="487.40" x2="441.61" y2="489.20" stroke="#111" stroke-width="0.6"/>
<line x1="444.70" y1="487.40" x2="444.70" y2="489.60" stroke="#111" stroke-width="0.7"/>
<line x1="475.60" y1="487.40" x2="475.60" y2="489.60" stroke="#111" stroke-width="0.7"/>
<line x1="497.70" y1="487.40" x2="497.70" y2="489.60" stroke="#111" stroke-width="0.7"/>
<text x="444.70" y="499.90" font-size="6.4" text-anchor="middle" style="color:#1e1e1e" fill="currentColor" stroke="currentColor" stroke-width="0.1">0</text>
<text x="475.60" y="499.90" font-size="6.4" text-anchor="middle" style="color:#1e1e1e" fill="currentColor" stroke="currentColor" stroke-width="0.1">10<tspan font-size="4.6" dy="-2">3</tspan></text>
<text x="497.70" y="499.90" font-size="6.4" text-anchor="middle" style="color:#1e1e1e" fill="currentColor" stroke="currentColor" stroke-width="0.1">10<tspan font-size="4.6" dy="-2">4</tspan></text>
<text x="473.60" y="511.20" font-size="7.2" text-anchor="middle" style="color:#1e1e1e" fill="currentColor" stroke="currentColor" stroke-width="0.1" textLength="22.5" lengthAdjust="spacingAndGlyphs">Dll1 PE</text>
<text x="452.90" y="416.00" font-size="4.9" style="color:#1e1e1e" fill="currentColor" stroke="currentColor" stroke-width="0.1" textLength="29.4" lengthAdjust="spacingAndGlyphs">Cd8<tspan font-size="3" dy="-1.8">+</tspan><tspan dy="1.8"> T cells</tspan></text>
<line x1="458.60" y1="418.80" x2="456.00" y2="422.00" stroke="#111" stroke-width="0.7"/>
<text x="481.50" y="447.60" font-size="4.9" style="color:#1e1e1e" fill="currentColor" stroke="currentColor" stroke-width="0.1" textLength="29.5" lengthAdjust="spacingAndGlyphs">Cd4<tspan font-size="3" dy="-1.8">+</tspan><tspan dy="1.8"> T cells</tspan></text>
<line x1="476.00" y1="445.80" x2="479.80" y2="445.80" stroke="#111" stroke-width="0.7"/>
<text x="152.30" y="531.70" font-size="11.8" style="color:#000" fill="currentColor" font-weight="bold">I</text>
<line x1="181.50" y1="535.50" x2="181.50" y2="609.60" stroke="#111" stroke-width="0.9"/>
<line x1="179.30" y1="609.20" x2="181.50" y2="609.20" stroke="#111" stroke-width="0.765"/>
<text x="175.80" y="611.50" font-size="6.4" text-anchor="end" style="color:#1e1e1e" fill="currentColor" stroke="currentColor" stroke-width="0.1" textLength="3.2" lengthAdjust="spacingAndGlyphs">0</text>
<line x1="179.30" y1="585.28" x2="181.50" y2="585.28" stroke="#111" stroke-width="0.765"/>
<text x="175.80" y="587.58" font-size="6.4" text-anchor="end" style="color:#1e1e1e" fill="currentColor" stroke="currentColor" stroke-width="0.1" textLength="6.4" lengthAdjust="spacingAndGlyphs">20</text>
<line x1="179.30" y1="561.36" x2="181.50" y2="561.36" stroke="#111" stroke-width="0.765"/>
<text x="175.80" y="563.66" font-size="6.4" text-anchor="end" style="color:#1e1e1e" fill="currentColor" stroke="currentColor" stroke-width="0.1" textLength="6.4" lengthAdjust="spacingAndGlyphs">40</text>
<line x1="179.30" y1="537.44" x2="181.50" y2="537.44" stroke="#111" stroke-width="0.765"/>
<text x="175.80" y="539.74" font-size="6.4" text-anchor="end" style="color:#1e1e1e" fill="currentColor" stroke="currentColor" stroke-width="0.1" textLength="6.4" lengthAdjust="spacingAndGlyphs">60</text>
<line x1="181.30" y1="609.20" x2="245.40" y2="609.20" stroke="#111" stroke-width="1.1"/>
<line x1="191.90" y1="609.20" x2="191.90" y2="611.30" stroke="#111" stroke-width="0.85"/>
<line x1="213.50" y1="609.20" x2="213.50" y2="611.30" stroke="#111" stroke-width="0.85"/>
<line x1="234.90" y1="609.20" x2="234.90" y2="611.30" stroke="#111" stroke-width="0.85"/>
<text x="160.60" y="572.00" font-size="7.0" text-anchor="middle" style="color:#1e1e1e" fill="currentColor" stroke="currentColor" stroke-width="0.1" textLength="43.5" lengthAdjust="spacingAndGlyphs" transform="rotate(-90 160.6 572)">Cd8<tspan font-size="4.3" dy="-2.5">+</tspan><tspan dy="2.5"> T cells %</tspan></text>
<line x1="192.00" y1="550.84" x2="192.00" y2="566.14" stroke="#222" stroke-width="0.75"/>
<line x1="189.23" y1="550.84" x2="194.77" y2="550.84" stroke="#222" stroke-width="0.75"/>
<line x1="192.00" y1="579.30" x2="192.00" y2="591.26" stroke="#222" stroke-width="0.75"/>
<line x1="189.23" y1="591.26" x2="194.77" y2="591.26" stroke="#222" stroke-width="0.75"/>
<rect x="184.30" y="566.14" width="15.40" height="13.16" fill="none" stroke="#222" stroke-width="0.75"/>
<line x1="184.30" y1="571.17" x2="199.70" y2="571.17" stroke="#222" stroke-width="0.75"/>
<line x1="213.50" y1="542.22" x2="213.50" y2="566.74" stroke="#222" stroke-width="0.75"/>
<line x1="210.87" y1="542.22" x2="216.13" y2="542.22" stroke="#222" stroke-width="0.75"/>
<line x1="213.50" y1="584.32" x2="213.50" y2="594.01" stroke="#222" stroke-width="0.75"/>
<line x1="210.87" y1="594.01" x2="216.13" y2="594.01" stroke="#222" stroke-width="0.75"/>
<rect x="206.20" y="566.74" width="14.60" height="17.58" fill="none" stroke="#222" stroke-width="0.75"/>
<line x1="206.20" y1="575.71" x2="220.80" y2="575.71" stroke="#222" stroke-width="0.75"/>
<line x1="235.00" y1="545.81" x2="235.00" y2="566.14" stroke="#222" stroke-width="0.75"/>
<line x1="232.37" y1="545.81" x2="237.63" y2="545.81" stroke="#222" stroke-width="0.75"/>
<line x1="235.00" y1="591.50" x2="235.00" y2="600.83" stroke="#222" stroke-width="0.75"/>
<line x1="232.37" y1="600.83" x2="237.63" y2="600.83" stroke="#222" stroke-width="0.75"/>
<rect x="227.70" y="566.14" width="14.60" height="25.36" fill="none" stroke="#222" stroke-width="0.75"/>
<line x1="227.70" y1="569.97" x2="242.30" y2="569.97" stroke="#222" stroke-width="0.75"/>
<circle cx="192.00" cy="551.08" r="1.45" fill="#2b2f38" stroke="#111" stroke-width="0.5"/>
<circle cx="192.00" cy="559.54" r="1.45" fill="#2b2f38" stroke="#111" stroke-width="0.5"/>
<circle cx="190.00" cy="566.46" r="1.45" fill="#2b2f38" stroke="#111" stroke-width="0.5"/>
<circle cx="193.85" cy="566.46" r="1.45" fill="#2b2f38" stroke="#111" stroke-width="0.5"/>
<circle cx="188.46" cy="571.23" r="1.45" fill="#2b2f38" stroke="#111" stroke-width="0.5"/>
<circle cx="192.00" cy="570.31" r="1.45" fill="#2b2f38" stroke="#111" stroke-width="0.5"/>
<circle cx="190.00" cy="573.38" r="1.45" fill="#2b2f38" stroke="#111" stroke-width="0.5"/>
<circle cx="193.08" cy="573.85" r="1.45" fill="#2b2f38" stroke="#111" stroke-width="0.5"/>
<circle cx="195.38" cy="573.85" r="1.45" fill="#2b2f38" stroke="#111" stroke-width="0.5"/>
<circle cx="190.00" cy="580.00" r="1.45" fill="#2b2f38" stroke="#111" stroke-width="0.5"/>
<circle cx="193.54" cy="581.85" r="1.45" fill="#2b2f38" stroke="#111" stroke-width="0.5"/>
<circle cx="192.00" cy="591.23" r="1.45" fill="#2b2f38" stroke="#111" stroke-width="0.5"/>
<circle cx="213.54" cy="542.31" r="1.45" fill="#2c55a3" stroke="#111" stroke-width="0.5"/>
<circle cx="213.54" cy="556.46" r="1.45" fill="#2c55a3" stroke="#111" stroke-width="0.5"/>
<circle cx="210.31" cy="567.23" r="1.45" fill="#2c55a3" stroke="#111" stroke-width="0.5"/>
<circle cx="213.85" cy="566.46" r="1.45" fill="#2c55a3" stroke="#111" stroke-width="0.5"/>
<circle cx="215.85" cy="568.77" r="1.45" fill="#2c55a3" stroke="#111" stroke-width="0.5"/>
<circle cx="213.54" cy="570.31" r="1.45" fill="#2c55a3" stroke="#111" stroke-width="0.5"/>
<circle cx="211.23" cy="573.85" r="1.45" fill="#2c55a3" stroke="#111" stroke-width="0.5"/>
<circle cx="215.38" cy="576.15" r="1.45" fill="#2c55a3" stroke="#111" stroke-width="0.5"/>
<circle cx="210.00" cy="581.54" r="1.45" fill="#2c55a3" stroke="#111" stroke-width="0.5"/>
<circle cx="213.08" cy="582.62" r="1.45" fill="#2c55a3" stroke="#111" stroke-width="0.5"/>
<circle cx="216.15" cy="583.08" r="1.45" fill="#2c55a3" stroke="#111" stroke-width="0.5"/>
<circle cx="211.23" cy="588.46" r="1.45" fill="#2c55a3" stroke="#111" stroke-width="0.5"/>
<circle cx="214.62" cy="588.77" r="1.45" fill="#2c55a3" stroke="#111" stroke-width="0.5"/>
<circle cx="213.54" cy="593.85" r="1.45" fill="#2c55a3" stroke="#111" stroke-width="0.5"/>
<circle cx="235.08" cy="545.85" r="1.45" fill="#b0102a" stroke="#111" stroke-width="0.5"/>
<circle cx="233.38" cy="565.08" r="1.45" fill="#b0102a" stroke="#111" stroke-width="0.5"/>
<circle cx="237.69" cy="567.23" r="1.45" fill="#b0102a" stroke="#111" stroke-width="0.5"/>
<circle cx="233.08" cy="570.77" r="1.45" fill="#b0102a" stroke="#111" stroke-width="0.5"/>
<circle cx="233.38" cy="585.85" r="1.45" fill="#b0102a" stroke="#111" stroke-width="0.5"/>
<circle cx="236.46" cy="585.85" r="1.45" fill="#b0102a" stroke="#111" stroke-width="0.5"/>
<circle cx="236.46" cy="597.69" r="1.45" fill="#b0102a" stroke="#111" stroke-width="0.5"/>
<circle cx="233.08" cy="600.77" r="1.45" fill="#b0102a" stroke="#111" stroke-width="0.5"/>
<text x="194.20" y="619.20" font-size="6.5" text-anchor="end" style="color:#1e1e1e" fill="currentColor" stroke="currentColor" stroke-width="0.1" textLength="24.5" lengthAdjust="spacingAndGlyphs" transform="rotate(-45 194.20000000000002 619.2)">Cd19-Cre</text>
<text x="215.80" y="619.20" font-size="6.5" text-anchor="end" style="color:#1e1e1e" fill="currentColor" stroke="currentColor" stroke-width="0.1" textLength="22.5" lengthAdjust="spacingAndGlyphs" transform="rotate(-45 215.8 619.2)">Eμ-TCL1</text>
<text x="237.20" y="619.20" font-size="6.5" text-anchor="end" style="color:#1e1e1e" fill="currentColor" stroke="currentColor" stroke-width="0.1" textLength="33.5" lengthAdjust="spacingAndGlyphs" transform="rotate(-45 237.20000000000002 619.2)">Eμ-TCL1<tspan font-size="3.8" dy="-2.4">Akt-C</tspan></text>
<text x="282.50" y="531.70" font-size="11.8" style="color:#000" fill="currentColor" font-weight="bold">J</text>
<line x1="316.80" y1="535.50" x2="316.80" y2="609.70" stroke="#111" stroke-width="0.9"/>
<line x1="314.60" y1="609.30" x2="316.80" y2="609.30" stroke="#111" stroke-width="0.765"/>
<text x="311.30" y="611.60" font-size="6.4" text-anchor="end" style="color:#1e1e1e" fill="currentColor" stroke="currentColor" stroke-width="0.1" textLength="3.2" lengthAdjust="spacingAndGlyphs">0</text>
<line x1="314.60" y1="585.46" x2="316.80" y2="585.46" stroke="#111" stroke-width="0.765"/>
<text x="311.30" y="587.76" font-size="6.4" text-anchor="end" style="color:#1e1e1e" fill="currentColor" stroke="currentColor" stroke-width="0.1" textLength="6.4" lengthAdjust="spacingAndGlyphs">20</text>
<line x1="314.60" y1="561.62" x2="316.80" y2="561.62" stroke="#111" stroke-width="0.765"/>
<text x="311.30" y="563.92" font-size="6.4" text-anchor="end" style="color:#1e1e1e" fill="currentColor" stroke="currentColor" stroke-width="0.1" textLength="6.4" lengthAdjust="spacingAndGlyphs">40</text>
<line x1="314.60" y1="537.78" x2="316.80" y2="537.78" stroke="#111" stroke-width="0.765"/>
<text x="311.30" y="540.08" font-size="6.4" text-anchor="end" style="color:#1e1e1e" fill="currentColor" stroke="currentColor" stroke-width="0.1" textLength="6.4" lengthAdjust="spacingAndGlyphs">60</text>
<line x1="316.60" y1="609.30" x2="384.30" y2="609.30" stroke="#111" stroke-width="1.1"/>
<line x1="328.40" y1="609.30" x2="328.40" y2="611.40" stroke="#111" stroke-width="0.85"/>
<line x1="350.80" y1="609.30" x2="350.80" y2="611.40" stroke="#111" stroke-width="0.85"/>
<line x1="373.30" y1="609.30" x2="373.30" y2="611.40" stroke="#111" stroke-width="0.85"/>
<text x="297.20" y="572.00" font-size="7.0" text-anchor="middle" style="color:#1e1e1e" fill="currentColor" stroke="currentColor" stroke-width="0.1" textLength="64.5" lengthAdjust="spacingAndGlyphs" transform="rotate(-90 297.2 572)">Cd4<tspan font-size="4.3" dy="-2.5">+</tspan><tspan dy="2.5"> Foxp3</tspan><tspan font-size="4.3" dy="-2.5">-</tspan><tspan dy="2.5"> T cells %</tspan></text>
<line x1="328.10" y1="548.98" x2="328.10" y2="554.23" stroke="#222" stroke-width="0.75"/>
<line x1="325.36" y1="548.98" x2="330.84" y2="548.98" stroke="#222" stroke-width="0.75"/>
<line x1="328.10" y1="577.24" x2="328.10" y2="580.45" stroke="#222" stroke-width="0.75"/>
<line x1="325.36" y1="580.45" x2="330.84" y2="580.45" stroke="#222" stroke-width="0.75"/>
<rect x="320.50" y="554.23" width="15.20" height="23.01" fill="none" stroke="#222" stroke-width="0.75"/>
<line x1="320.50" y1="561.74" x2="335.70" y2="561.74" stroke="#222" stroke-width="0.75"/>
<rect x="343.40" y="561.74" width="15.20" height="35.76" fill="none" stroke="#222" stroke-width="0.75"/>
<line x1="343.40" y1="579.50" x2="358.60" y2="579.50" stroke="#222" stroke-width="0.75"/>
<line x1="373.30" y1="579.26" x2="373.30" y2="598.93" stroke="#222" stroke-width="0.75"/>
<line x1="370.30" y1="579.26" x2="376.30" y2="579.26" stroke="#222" stroke-width="0.75"/>
<line x1="366.30" y1="598.93" x2="380.50" y2="598.93" stroke="#222" stroke-width="0.75"/>
<circle cx="328.37" cy="549.29" r="1.45" fill="#2b2f38" stroke="#111" stroke-width="0.5"/>
<circle cx="329.52" cy="559.75" r="1.45" fill="#3a4a6a" stroke="#111" stroke-width="0.5"/>
<circle cx="326.25" cy="562.36" r="1.45" fill="#2b2f38" stroke="#111" stroke-width="0.5"/>
<circle cx="328.37" cy="574.13" r="1.45" fill="#3a4a6a" stroke="#111" stroke-width="0.5"/>
<circle cx="328.37" cy="580.34" r="1.45" fill="#2b2f38" stroke="#111" stroke-width="0.5"/>
<circle cx="348.81" cy="561.87" r="1.45" fill="#2c55a3" stroke="#111" stroke-width="0.5"/>
<circle cx="352.40" cy="563.83" r="1.45" fill="#2c55a3" stroke="#111" stroke-width="0.5"/>
<circle cx="352.40" cy="595.38" r="1.45" fill="#2c55a3" stroke="#111" stroke-width="0.5"/>
<circle cx="349.13" cy="598.98" r="1.45" fill="#2c55a3" stroke="#111" stroke-width="0.5"/>
<circle cx="373.32" cy="579.36" r="1.45" fill="#b0102a" stroke="#111" stroke-width="0.5"/>
<circle cx="371.69" cy="600.61" r="1.45" fill="#b0102a" stroke="#111" stroke-width="0.5"/>
<circle cx="374.96" cy="599.47" r="1.45" fill="#b0102a" stroke="#111" stroke-width="0.5"/>
<text x="330.70" y="619.20" font-size="6.5" text-anchor="end" style="color:#1e1e1e" fill="currentColor" stroke="currentColor" stroke-width="0.1" textLength="24.5" lengthAdjust="spacingAndGlyphs" transform="rotate(-45 330.7 619.2)">Cd19-Cre</text>
<text x="353.10" y="619.20" font-size="6.5" text-anchor="end" style="color:#1e1e1e" fill="currentColor" stroke="currentColor" stroke-width="0.1" textLength="22.5" lengthAdjust="spacingAndGlyphs" transform="rotate(-45 353.1 619.2)">Eμ-TCL1</text>
<text x="375.60" y="619.20" font-size="6.5" text-anchor="end" style="color:#1e1e1e" fill="currentColor" stroke="currentColor" stroke-width="0.1" textLength="33.5" lengthAdjust="spacingAndGlyphs" transform="rotate(-45 375.6 619.2)">Eμ-TCL1<tspan font-size="3.8" dy="-2.4">Akt-C</tspan></text>
<text x="413.60" y="532.40" font-size="11.8" style="color:#000" fill="currentColor" font-weight="bold">K</text>
<line x1="451.00" y1="538.50" x2="451.00" y2="609.60" stroke="#111" stroke-width="0.9"/>
<line x1="448.80" y1="609.20" x2="451.00" y2="609.20" stroke="#111" stroke-width="0.765"/>
<text x="444.80" y="611.50" font-size="6.4" text-anchor="end" style="color:#1e1e1e" fill="currentColor" stroke="currentColor" stroke-width="0.1" textLength="3.2" lengthAdjust="spacingAndGlyphs">0</text>
<line x1="448.80" y1="586.30" x2="451.00" y2="586.30" stroke="#111" stroke-width="0.765"/>
<text x="444.80" y="588.60" font-size="6.4" text-anchor="end" style="color:#1e1e1e" fill="currentColor" stroke="currentColor" stroke-width="0.1" textLength="6.4" lengthAdjust="spacingAndGlyphs">20</text>
<line x1="448.80" y1="563.40" x2="451.00" y2="563.40" stroke="#111" stroke-width="0.765"/>
<text x="444.80" y="565.70" font-size="6.4" text-anchor="end" style="color:#1e1e1e" fill="currentColor" stroke="currentColor" stroke-width="0.1" textLength="6.4" lengthAdjust="spacingAndGlyphs">40</text>
<line x1="448.80" y1="540.50" x2="451.00" y2="540.50" stroke="#111" stroke-width="0.765"/>
<text x="444.80" y="542.80" font-size="6.4" text-anchor="end" style="color:#1e1e1e" fill="currentColor" stroke="currentColor" stroke-width="0.1" textLength="6.4" lengthAdjust="spacingAndGlyphs">60</text>
<line x1="450.80" y1="609.20" x2="512.75" y2="609.20" stroke="#111" stroke-width="1.1"/>
<line x1="461.00" y1="609.20" x2="461.00" y2="611.30" stroke="#111" stroke-width="0.85"/>
<line x1="481.70" y1="609.20" x2="481.70" y2="611.30" stroke="#111" stroke-width="0.85"/>
<line x1="502.25" y1="609.20" x2="502.25" y2="611.30" stroke="#111" stroke-width="0.85"/>
<text x="431.60" y="573.50" font-size="7.0" text-anchor="middle" style="color:#1e1e1e" fill="currentColor" stroke="currentColor" stroke-width="0.1" textLength="66" lengthAdjust="spacingAndGlyphs" transform="rotate(-90 431.6 573.5)">Cd4<tspan font-size="4.3" dy="-2.5">+</tspan><tspan dy="2.5"> Foxp3</tspan><tspan font-size="4.3" dy="-2.5">+</tspan><tspan dy="2.5"> T cells %</tspan></text>
<rect x="454.25" y="587.45" width="14.30" height="8.13" fill="none" stroke="#222" stroke-width="0.75"/>
<line x1="454.25" y1="591.68" x2="468.55" y2="591.68" stroke="#222" stroke-width="0.75"/>
<rect x="475.00" y="595.23" width="13.80" height="6.18" fill="none" stroke="#222" stroke-width="0.75"/>
<line x1="475.00" y1="597.18" x2="488.80" y2="597.18" stroke="#222" stroke-width="0.75"/>
<line x1="502.25" y1="575.31" x2="502.25" y2="581.72" stroke="#222" stroke-width="0.75"/>
<line x1="496.25" y1="577.94" x2="509.30" y2="577.94" stroke="#222" stroke-width="0.75"/>
<polyline points="461.00,584.00 461.00,563.30 502.70,563.30 502.70,573.50" stroke="#111" stroke-width="0.7" fill="none"/>
<polyline points="481.70,592.20 481.70,569.30 502.70,569.30" stroke="#111" stroke-width="0.7" fill="none"/>
<text x="482.00" y="562.60" font-size="4.6" text-anchor="middle" style="color:#111" fill="currentColor" stroke="currentColor" stroke-width="0.1" textLength="4.2" lengthAdjust="spacingAndGlyphs">**</text>
<text x="492.20" y="568.60" font-size="4.6" text-anchor="middle" style="color:#111" fill="currentColor" stroke="currentColor" stroke-width="0.1" textLength="6.4" lengthAdjust="spacingAndGlyphs">***</text>
<circle cx="459.50" cy="587.30" r="1.45" fill="#2b2f38" stroke="#111" stroke-width="0.5"/>
<circle cx="462.80" cy="587.00" r="1.45" fill="#2b2f38" stroke="#111" stroke-width="0.5"/>
<circle cx="461.45" cy="592.25" r="1.45" fill="#2b2f38" stroke="#111" stroke-width="0.5"/>
<circle cx="459.50" cy="596.00" r="1.45" fill="#2b2f38" stroke="#111" stroke-width="0.5"/>
<circle cx="463.25" cy="595.25" r="1.45" fill="#2b2f38" stroke="#111" stroke-width="0.5"/>
<circle cx="480.20" cy="594.80" r="1.45" fill="#2c55a3" stroke="#111" stroke-width="0.5"/>
<circle cx="483.50" cy="595.25" r="1.45" fill="#2c55a3" stroke="#111" stroke-width="0.5"/>
<circle cx="483.50" cy="599.00" r="1.45" fill="#2c55a3" stroke="#111" stroke-width="0.5"/>
<circle cx="480.50" cy="602.75" r="1.45" fill="#2c55a3" stroke="#111" stroke-width="0.5"/>
<circle cx="501.20" cy="575.00" r="1.45" fill="#b0102a" stroke="#111" stroke-width="0.5"/>
<circle cx="504.20" cy="577.70" r="1.45" fill="#b0102a" stroke="#111" stroke-width="0.5"/>
<circle cx="502.70" cy="581.75" r="1.45" fill="#b0102a" stroke="#111" stroke-width="0.5"/>
<text x="463.30" y="619.20" font-size="6.5" text-anchor="end" style="color:#1e1e1e" fill="currentColor" stroke="currentColor" stroke-width="0.1" textLength="24.5" lengthAdjust="spacingAndGlyphs" transform="rotate(-45 463.3 619.2)">Cd19-Cre</text>
<text x="484.00" y="619.20" font-size="6.5" text-anchor="end" style="color:#1e1e1e" fill="currentColor" stroke="currentColor" stroke-width="0.1" textLength="22.5" lengthAdjust="spacingAndGlyphs" transform="rotate(-45 484.0 619.2)">Eμ-TCL1</text>
<text x="504.55" y="619.20" font-size="6.5" text-anchor="end" style="color:#1e1e1e" fill="currentColor" stroke="currentColor" stroke-width="0.1" textLength="33.5" lengthAdjust="spacingAndGlyphs" transform="rotate(-45 504.55 619.2)">Eμ-TCL1<tspan font-size="3.8" dy="-2.4">Akt-C</tspan></text>
<rect x="0.6" y="0.6" width="518.8" height="650.8" fill="none" stroke="#000" stroke-width="1.3"/>
</svg>
</body></html>
